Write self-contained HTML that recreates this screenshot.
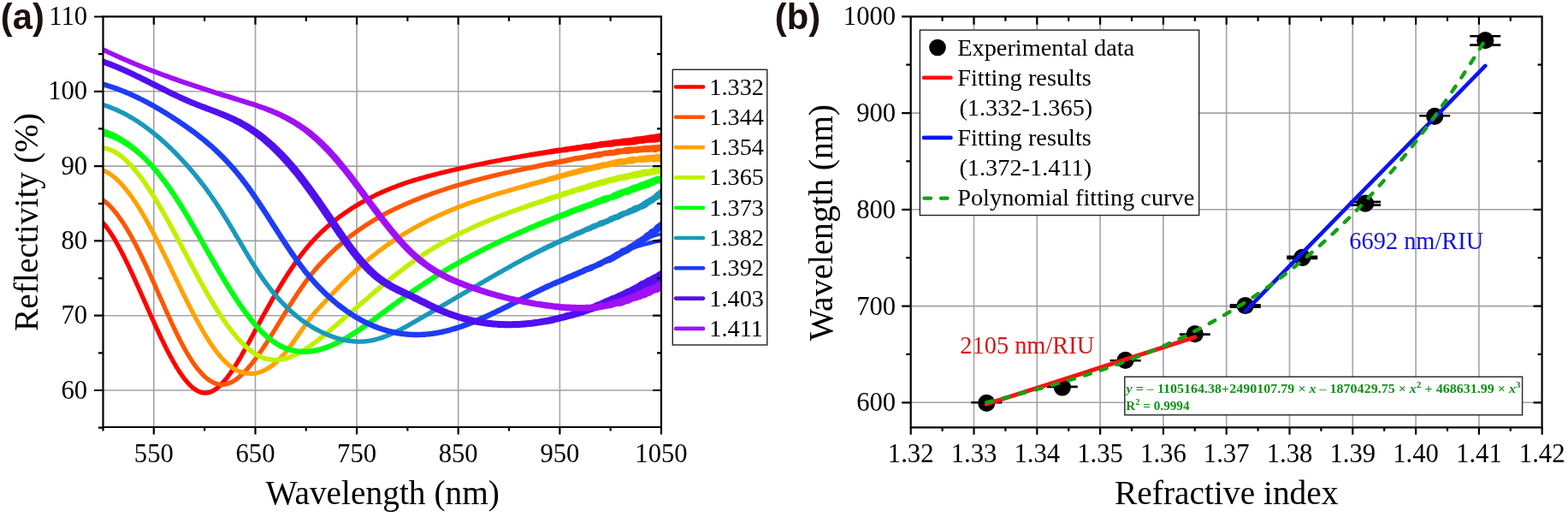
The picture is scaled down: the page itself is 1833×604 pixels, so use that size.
<!DOCTYPE html><html><head><meta charset="utf-8"><title>Figure</title><style>html,body{margin:0;padding:0;background:#fff;width:1833px;height:604px;overflow:hidden}svg{display:block}</style></head><body>
<svg width="1833" height="604" viewBox="0 0 1833 604">
<rect x="0" y="0" width="1833" height="604" fill="#fff"/>
<path d="M179.8 19.3V499.0M298.5 19.3V499.0M417.1 19.3V499.0M535.7 19.3V499.0M654.4 19.3V499.0M120.5 456.0H773.0M120.5 368.7H773.0M120.5 281.4H773.0M120.5 194.1H773.0M120.5 106.8H773.0" stroke="#a3a3a3" stroke-width="1.6" fill="none"/>
<defs><clipPath id="ca"><rect x="120.5" y="19.3" width="652.5" height="479.7"/></clipPath><clipPath id="cb"><rect x="1064.7" y="19.3" width="737.8999999999999" height="480.0"/></clipPath></defs>
<g clip-path="url(#ca)" fill="none" stroke-linejoin="round" stroke-linecap="round">
<path d="M119.4 255.2 L120.5 256.4 L121.6 257.7 L122.7 258.9 L123.8 260.2 L124.8 261.4 L125.8 262.7 L126.8 264.0 L127.8 265.4 L128.7 266.7 L129.6 268.0 L130.5 269.4 L131.4 270.7 L132.3 272.1 L133.2 273.5 L134.1 274.8 L134.9 276.2 L135.8 277.6 L136.6 279.0 L137.4 280.4 L138.2 281.8 L139.0 283.2 L139.8 284.6 L140.6 286.0 L141.3 287.4 L142.1 288.8 L142.9 290.3 L143.6 291.7 L144.4 293.1 L145.1 294.5 L145.9 296.0 L146.6 297.4 L147.3 298.8 L148.0 300.3 L148.8 301.7 L149.5 303.2 L150.2 304.6 L150.9 306.1 L151.6 307.5 L152.3 308.9 L153.0 310.4 L153.7 311.8 L154.3 313.3 L155.0 314.7 L155.7 316.2 L156.4 317.7 L157.1 319.1 L157.7 320.6 L158.4 322.0 L159.1 323.5 L159.7 324.9 L160.4 326.4 L161.1 327.9 L161.7 329.3 L162.4 330.8 L163.0 332.2 L163.7 333.7 L164.4 335.2 L165.0 336.6 L165.7 338.1 L166.3 339.6 L167.0 341.0 L167.6 342.5 L168.3 343.9 L168.9 345.4 L169.6 346.9 L170.2 348.3 L170.9 349.8 L171.5 351.3 L172.2 352.7 L172.8 354.2 L173.4 355.6 L174.1 357.1 L174.7 358.6 L175.4 360.0 L176.0 361.5 L176.7 363.0 L177.3 364.4 L178.0 365.9 L178.6 367.3 L179.3 368.8 L179.9 370.3 L180.6 371.7 L181.3 373.2 L181.9 374.6 L182.6 376.1 L183.2 377.5 L183.9 379.0 L184.6 380.4 L185.2 381.9 L185.9 383.3 L186.6 384.8 L187.2 386.2 L187.9 387.7 L188.6 389.1 L189.3 390.6 L189.9 392.0 L190.6 393.5 L191.3 394.9 L192.0 396.3 L192.7 397.8 L193.4 399.2 L194.1 400.6 L194.8 402.1 L195.5 403.5 L196.2 404.9 L196.9 406.3 L197.7 407.7 L198.4 409.2 L199.1 410.6 L199.9 412.0 L200.6 413.4 L201.4 414.8 L202.1 416.2 L202.9 417.6 L203.6 419.0 L204.4 420.3 L205.2 421.7 L206.0 423.1 L206.8 424.5 L207.6 425.8 L208.4 427.2 L209.2 428.5 L210.1 429.9 L210.9 431.2 L211.8 432.5 L212.6 433.8 L213.5 435.1 L214.4 436.4 L215.3 437.7 L216.3 439.0 L217.2 440.2 L218.1 441.4 L219.1 442.6 L220.1 443.8 L221.1 445.0 L222.2 446.2 L223.2 447.3 L224.3 448.4 L225.4 449.4 L226.5 450.4 L227.7 451.4 L228.9 452.3 L230.1 453.1 L231.3 453.9 L232.6 454.6 L233.9 455.2 L235.2 455.7 L236.5 456.1 L237.8 456.3 L239.2 456.5 L240.5 456.5 L241.8 456.3 L243.2 456.1 L244.5 455.7 L245.8 455.2 L247.1 454.6 L248.4 453.9 L249.6 453.1 L250.8 452.3 L252.0 451.4 L253.2 450.5 L254.3 449.5 L255.5 448.4 L256.6 447.4 L257.6 446.3 L258.7 445.1 L259.7 444.0 L260.7 442.8 L261.7 441.6 L262.7 440.4 L263.7 439.2 L264.6 437.9 L265.6 436.7 L266.5 435.4 L267.4 434.1 L268.3 432.8 L269.2 431.5 L270.1 430.2 L271.0 428.9 L271.8 427.6 L272.7 426.2 L273.5 424.9 L274.4 423.5 L275.2 422.2 L276.0 420.8 L276.8 419.5 L277.7 418.1 L278.5 416.7 L279.3 415.4 L280.1 414.0 L280.9 412.6 L281.6 411.2 L282.4 409.8 L283.2 408.5 L284.0 407.1 L284.8 405.7 L285.5 404.3 L286.3 402.9 L287.1 401.5 L287.9 400.1 L288.6 398.7 L289.4 397.3 L290.1 395.9 L290.9 394.5 L291.7 393.1 L292.4 391.7 L293.2 390.3 L293.9 388.8 L294.7 387.4 L295.4 386.0 L296.2 384.6 L297.0 383.2 L297.7 381.8 L298.5 380.4 L299.2 379.0 L300.0 377.6 L300.7 376.2 L301.5 374.7 L302.3 373.3 L303.0 371.9 L303.8 370.5 L304.6 369.1 L305.3 367.7 L306.1 366.3 L306.9 364.9 L307.7 363.5 L308.4 362.1 L309.2 360.7 L310.0 359.3 L310.8 357.9 L311.6 356.5 L312.4 355.1 L313.2 353.7 L313.9 352.3 L314.7 350.9 L315.5 349.5 L316.3 348.1 L317.1 346.7 L317.9 345.3 L318.7 344.0 L319.6 342.6 L320.4 341.2 L321.2 339.8 L322.0 338.4 L322.8 337.0 L323.7 335.7 L324.5 334.3 L325.3 332.9 L326.1 331.5 L327.0 330.2 L327.8 328.8 L328.7 327.4 L329.5 326.1 L330.4 324.7 L331.2 323.4 L332.1 322.0 L333.0 320.6 L333.8 319.3 L334.7 317.9 L335.6 316.6 L336.5 315.3 L337.4 313.9 L338.3 312.6 L339.2 311.2 L340.1 309.9 L341.0 308.6 L341.9 307.3 L342.8 305.9 L343.8 304.6 L344.7 303.3 L345.7 302.0 L346.6 300.7 L347.6 299.4 L348.5 298.1 L349.5 296.8 L350.5 295.5 L351.5 294.3 L352.5 293.0 L353.5 291.7 L354.5 290.5 L355.5 289.2 L356.5 288.0 L357.6 286.7 L358.6 285.5 L359.7 284.3 L360.8 283.0 L361.8 281.8 L362.9 280.6 L364.0 279.4 L365.1 278.2 L366.2 277.1 L367.3 275.9 L368.4 274.7 L369.6 273.6 L370.7 272.4 L371.9 271.3 L373.0 270.1 L374.2 269.0 L375.4 267.9 L376.5 266.8 L377.7 265.7 L378.9 264.6 L380.1 263.5 L381.3 262.4 L382.6 261.4 L383.8 260.3 L385.0 259.3 L386.3 258.3 L387.5 257.2 L388.8 256.2 L390.1 255.2 L391.4 254.2 L392.6 253.2 L393.9 252.2 L395.2 251.3 L396.5 250.3 L397.8 249.4 L399.1 248.4 L400.5 247.5 L401.8 246.6 L403.1 245.7 L404.5 244.8 L405.8 243.9 L407.2 243.0 L408.5 242.1 L409.9 241.2 L411.2 240.3 L412.6 239.5 L414.0 238.6 L415.4 237.8 L416.8 237.0 L418.1 236.1 L419.5 235.3 L420.9 234.5 L422.3 233.7 L423.8 232.9 L425.2 232.2 L426.6 231.4 L428.0 230.6 L429.4 229.9 L430.9 229.1 L432.3 228.4 L433.8 227.7 L435.2 226.9 L436.7 226.2 L438.1 225.5 L439.6 224.8 L441.0 224.1 L442.5 223.5 L444.0 222.8 L445.4 222.1 L446.9 221.5 L448.4 220.8 L449.9 220.2 L451.4 219.6 L452.9 218.9 L454.4 218.3 L455.9 217.7 L457.4 217.1 L458.9 216.5 L460.4 216.0 L461.9 215.4 L463.4 214.8 L464.9 214.3 L466.4 213.7 L467.9 213.2 L469.4 212.6 L471.0 212.1 L472.5 211.6 L474.0 211.1 L475.5 210.6 L477.1 210.1 L478.6 209.6 L480.1 209.1 L481.7 208.6 L483.2 208.1 L484.8 207.6 L486.3 207.2 L487.8 206.7 L489.4 206.3 L490.9 205.8 L492.5 205.4 L494.0 204.9 L495.6 204.5 L497.1 204.1 L498.7 203.6 L500.2 203.2 L501.8 202.8 L503.3 202.4 L504.9 202.0 L506.4 201.6 L508.0 201.2 L509.6 200.8 L511.1 200.4 L512.7 200.0 L514.2 199.6 L515.8 199.2 L517.3 198.9 L518.9 198.5 L520.5 198.1 L522.0 197.7 L523.6 197.4 L525.1 197.0 L526.7 196.6 L528.3 196.2 L529.8 195.9 L531.4 195.5 L532.9 195.2 L534.5 194.8 L536.1 194.4 L537.6 194.1 L539.2 193.7 L540.8 193.4 L542.3 193.0 L543.9 192.7 L545.5 192.4 L547.0 192.0 L548.6 191.7 L550.2 191.3 L551.7 191.0 L553.3 190.7 L554.9 190.3 L556.4 190.0 L558.0 189.7 L559.6 189.4 L561.2 189.0 L562.7 188.7 L564.3 188.4 L565.9 188.1 L567.4 187.8 L569.0 187.4 L570.6 187.1 L572.2 186.8 L573.7 186.5 L575.3 186.2 L576.9 185.9 L578.4 185.6 L580.0 185.3 L581.6 185.0 L583.2 184.7 L584.7 184.4 L586.3 184.1 L587.9 183.8 L589.5 183.5 L591.1 183.2 L592.6 182.9 L594.2 182.7 L595.8 182.4 L597.4 182.1 L598.9 181.8 L600.5 181.5 L602.1 181.2 L603.7 180.9 L605.2 180.7 L606.8 180.4 L608.4 180.1 L610.0 179.8 L611.6 179.5 L613.1 179.2 L614.7 179.0 L616.3 178.7 L617.9 178.4 L619.4 178.1 L621.0 177.8 L622.6 177.6 L624.2 177.4 L625.8 177.1 L627.3 176.8 L628.9 176.5 L630.5 176.3 L632.1 176.0 L633.7 175.7 L635.2 175.4 L636.8 175.2 L638.4 175.0 L640.0 174.8 L641.6 174.4 L643.2 174.1 L644.7 173.8 L646.3 173.6 L647.9 173.3 L649.5 173.1 L651.0 172.7 L652.6 172.6 L654.2 172.4 L655.8 172.4 L657.4 172.1 L659.0 171.7 L660.6 171.4 L662.1 171.1 L663.7 171.0 L665.3 170.9 L666.9 170.5 L668.5 170.3 L670.1 170.0 L671.7 170.0 L673.2 169.4 L674.8 169.3 L676.4 169.0 L678.0 169.0 L679.6 168.8 L681.2 168.4 L682.7 168.0 L684.3 167.7 L685.9 167.6 L687.5 167.7 L689.1 167.5 L690.7 167.1 L692.3 166.7 L693.8 166.5 L695.4 166.3 L697.0 166.1 L698.6 165.9 L700.2 165.4 L701.7 164.9 L703.3 164.7 L704.9 164.7 L706.5 164.7 L708.1 164.6 L709.7 164.3 L711.3 164.1 L712.9 163.9 L714.5 163.5 L716.1 163.3 L717.6 162.9 L719.2 162.8 L720.8 162.7 L722.4 162.6 L724.0 162.4 L725.6 162.2 L727.2 161.8 L728.7 161.5 L730.3 161.4 L731.9 161.3 L733.5 161.2 L735.1 160.9 L736.7 160.8 L738.3 160.7 L739.9 160.3 L741.5 160.1 L743.0 159.5 L744.6 159.4 L746.2 159.3 L747.8 159.2 L749.4 159.0 L751.0 158.8 L752.6 158.4 L754.2 158.4 L755.7 158.0 L757.3 157.8 L758.9 157.4 L760.5 157.3 L762.1 157.0 L763.7 157.1 L765.2 156.7 L766.8 156.5 L768.4 156.0 L770.0 155.8 L771.6 155.7 L773.2 155.6 L774.8 155.5 L775.9 165.2 L774.3 165.3 L772.7 165.7 L771.1 165.7 L769.6 166.0 L768.0 166.3 L766.4 166.5 L764.8 166.8 L763.2 166.8 L761.6 166.7 L760.0 166.7 L758.4 166.7 L756.8 166.9 L755.2 167.0 L753.6 167.5 L752.0 167.7 L750.4 167.9 L748.8 167.8 L747.2 168.0 L745.7 168.3 L744.1 168.7 L742.6 169.3 L741.0 169.4 L739.3 169.2 L737.7 169.4 L736.2 169.8 L734.6 170.1 L733.0 169.9 L731.4 169.9 L729.8 170.1 L728.2 170.1 L726.6 170.2 L725.0 170.4 L723.4 170.6 L721.8 170.8 L720.2 170.6 L718.6 171.1 L717.0 171.2 L715.5 171.7 L713.9 171.7 L712.3 171.9 L710.7 172.0 L709.1 172.0 L707.5 171.9 L705.9 172.3 L704.3 172.4 L702.7 172.9 L701.1 172.8 L699.5 173.1 L698.0 173.4 L696.4 173.8 L694.8 173.9 L693.2 174.1 L691.7 174.4 L690.1 174.7 L688.5 174.7 L686.9 174.8 L685.3 174.7 L683.7 174.9 L682.0 174.9 L680.5 175.2 L678.9 175.4 L677.3 175.8 L675.8 176.2 L674.2 176.4 L672.6 176.4 L671.0 176.7 L669.4 176.9 L667.8 177.1 L666.2 177.1 L664.7 177.5 L663.1 177.9 L661.5 178.2 L659.9 178.2 L658.3 178.3 L656.7 178.4 L655.2 178.7 L653.6 179.0 L652.0 179.2 L650.4 179.4 L648.8 179.6 L647.3 179.9 L645.7 180.2 L644.1 180.4 L642.5 180.6 L640.9 180.8 L639.3 181.0 L637.8 181.2 L636.2 181.6 L634.6 181.8 L633.0 182.0 L631.4 182.2 L629.9 182.4 L628.3 182.6 L626.7 182.9 L625.1 183.1 L623.5 183.4 L622.0 183.6 L620.4 183.8 L618.8 184.0 L617.2 184.2 L615.6 184.5 L614.1 184.8 L612.5 185.0 L610.9 185.3 L609.3 185.6 L607.8 185.8 L606.2 186.1 L604.6 186.3 L603.0 186.6 L601.5 186.9 L599.9 187.1 L598.3 187.4 L596.7 187.7 L595.2 188.0 L593.6 188.3 L592.0 188.5 L590.5 188.8 L588.9 189.1 L587.3 189.4 L585.7 189.7 L584.2 190.0 L582.6 190.3 L581.0 190.6 L579.5 190.9 L577.9 191.2 L576.3 191.5 L574.8 191.8 L573.2 192.1 L571.6 192.4 L570.1 192.7 L568.5 193.0 L566.9 193.4 L565.4 193.7 L563.8 194.0 L562.2 194.3 L560.7 194.6 L559.1 195.0 L557.5 195.3 L556.0 195.6 L554.4 195.9 L552.9 196.3 L551.3 196.6 L549.7 196.9 L548.2 197.3 L546.6 197.6 L545.1 198.0 L543.5 198.3 L541.9 198.6 L540.4 199.0 L538.8 199.3 L537.3 199.7 L535.7 200.0 L534.1 200.4 L532.6 200.8 L531.0 201.1 L529.5 201.5 L527.9 201.8 L526.4 202.2 L524.8 202.6 L523.3 202.9 L521.7 203.3 L520.2 203.7 L518.6 204.1 L517.1 204.4 L515.5 204.8 L514.0 205.2 L512.4 205.6 L510.9 206.0 L509.3 206.4 L507.8 206.8 L506.2 207.2 L504.7 207.6 L503.2 208.0 L501.6 208.4 L500.1 208.8 L498.5 209.2 L497.0 209.7 L495.5 210.1 L493.9 210.5 L492.4 211.0 L490.9 211.4 L489.4 211.9 L487.8 212.3 L486.3 212.8 L484.8 213.2 L483.3 213.7 L481.8 214.2 L480.2 214.7 L478.7 215.1 L477.2 215.6 L475.7 216.1 L474.2 216.6 L472.7 217.2 L471.2 217.7 L469.7 218.2 L468.2 218.7 L466.7 219.3 L465.2 219.8 L463.8 220.4 L462.3 221.0 L460.8 221.5 L459.3 222.1 L457.8 222.7 L456.4 223.3 L454.9 223.9 L453.4 224.5 L452.0 225.1 L450.5 225.7 L449.1 226.4 L447.6 227.0 L446.2 227.7 L444.7 228.3 L443.3 229.0 L441.9 229.6 L440.4 230.3 L439.0 231.0 L437.6 231.7 L436.2 232.4 L434.7 233.1 L433.3 233.9 L431.9 234.6 L430.5 235.3 L429.1 236.1 L427.7 236.8 L426.3 237.6 L425.0 238.4 L423.6 239.1 L422.2 239.9 L420.8 240.7 L419.5 241.5 L418.1 242.4 L416.8 243.2 L415.4 244.0 L414.1 244.8 L412.7 245.7 L411.4 246.6 L410.1 247.4 L408.8 248.3 L407.4 249.2 L406.1 250.1 L404.8 250.9 L403.5 251.9 L402.2 252.8 L400.9 253.7 L399.7 254.6 L398.4 255.6 L397.1 256.5 L395.9 257.5 L394.6 258.4 L393.4 259.4 L392.1 260.4 L390.9 261.4 L389.7 262.4 L388.4 263.4 L387.2 264.4 L386.0 265.4 L384.8 266.4 L383.7 267.5 L382.5 268.5 L381.3 269.6 L380.1 270.7 L379.0 271.8 L377.8 272.8 L376.7 273.9 L375.6 275.0 L374.5 276.2 L373.3 277.3 L372.2 278.4 L371.1 279.5 L370.1 280.7 L369.0 281.8 L367.9 283.0 L366.8 284.2 L365.8 285.4 L364.7 286.5 L363.7 287.7 L362.7 288.9 L361.6 290.1 L360.6 291.4 L359.6 292.6 L358.6 293.8 L357.6 295.0 L356.6 296.3 L355.7 297.5 L354.7 298.8 L353.7 300.0 L352.8 301.3 L351.8 302.6 L350.9 303.8 L349.9 305.1 L349.0 306.4 L348.1 307.7 L347.2 309.0 L346.3 310.3 L345.4 311.6 L344.4 312.9 L343.6 314.2 L342.7 315.5 L341.8 316.9 L340.9 318.2 L340.0 319.5 L339.1 320.8 L338.3 322.2 L337.4 323.5 L336.6 324.8 L335.7 326.2 L334.9 327.5 L334.0 328.9 L333.2 330.2 L332.3 331.6 L331.5 332.9 L330.7 334.3 L329.8 335.7 L329.0 337.0 L328.2 338.4 L327.4 339.8 L326.5 341.1 L325.7 342.5 L324.9 343.9 L324.1 345.2 L323.3 346.6 L322.5 348.0 L321.7 349.4 L320.9 350.8 L320.1 352.1 L319.3 353.5 L318.5 354.9 L317.7 356.3 L317.0 357.7 L316.2 359.1 L315.4 360.5 L314.6 361.9 L313.8 363.3 L313.1 364.7 L312.3 366.1 L311.5 367.5 L310.7 368.8 L310.0 370.2 L309.2 371.6 L308.4 373.1 L307.7 374.5 L306.9 375.9 L306.2 377.3 L305.4 378.7 L304.6 380.1 L303.9 381.5 L303.1 382.9 L302.4 384.3 L301.6 385.7 L300.8 387.1 L300.1 388.5 L299.3 389.9 L298.6 391.3 L297.8 392.8 L297.1 394.2 L296.3 395.6 L295.5 397.0 L294.8 398.4 L294.0 399.8 L293.2 401.2 L292.5 402.6 L291.7 404.0 L290.9 405.4 L290.2 406.8 L289.4 408.2 L288.6 409.6 L287.8 411.0 L287.0 412.4 L286.2 413.8 L285.4 415.2 L284.6 416.6 L283.8 418.0 L283.0 419.4 L282.2 420.8 L281.4 422.2 L280.5 423.6 L279.7 424.9 L278.8 426.3 L278.0 427.7 L277.1 429.0 L276.2 430.4 L275.4 431.8 L274.5 433.1 L273.6 434.5 L272.6 435.8 L271.7 437.1 L270.8 438.5 L269.8 439.8 L268.8 441.1 L267.8 442.4 L266.8 443.7 L265.8 444.9 L264.7 446.2 L263.7 447.4 L262.6 448.7 L261.4 449.9 L260.3 451.1 L259.1 452.2 L257.9 453.4 L256.6 454.5 L255.3 455.5 L253.9 456.6 L252.5 457.5 L251.0 458.4 L249.5 459.3 L247.8 460.0 L246.2 460.7 L244.4 461.2 L242.6 461.5 L240.8 461.7 L238.9 461.7 L237.0 461.5 L235.2 461.2 L233.5 460.7 L231.8 460.0 L230.2 459.3 L228.7 458.4 L227.2 457.5 L225.8 456.5 L224.4 455.5 L223.1 454.4 L221.8 453.3 L220.6 452.1 L219.5 450.9 L218.3 449.7 L217.2 448.5 L216.1 447.2 L215.1 446.0 L214.0 444.7 L213.0 443.4 L212.0 442.1 L211.1 440.8 L210.1 439.4 L209.2 438.1 L208.3 436.7 L207.4 435.4 L206.5 434.0 L205.6 432.6 L204.8 431.3 L203.9 429.9 L203.1 428.5 L202.3 427.1 L201.5 425.7 L200.6 424.3 L199.9 422.9 L199.1 421.5 L198.3 420.1 L197.5 418.7 L196.7 417.3 L196.0 415.8 L195.2 414.4 L194.5 413.0 L193.7 411.6 L193.0 410.1 L192.3 408.7 L191.5 407.3 L190.8 405.8 L190.1 404.4 L189.4 402.9 L188.7 401.5 L188.0 400.0 L187.3 398.6 L186.6 397.2 L185.9 395.7 L185.2 394.3 L184.5 392.8 L183.8 391.3 L183.2 389.9 L182.5 388.4 L181.8 387.0 L181.1 385.5 L180.5 384.1 L179.8 382.6 L179.1 381.2 L178.5 379.7 L177.8 378.2 L177.2 376.8 L176.5 375.3 L175.8 373.9 L175.2 372.4 L174.5 370.9 L173.9 369.5 L173.2 368.0 L172.6 366.5 L171.9 365.1 L171.3 363.6 L170.6 362.2 L170.0 360.7 L169.3 359.2 L168.7 357.8 L168.0 356.3 L167.4 354.8 L166.7 353.4 L166.1 351.9 L165.4 350.4 L164.8 349.0 L164.1 347.5 L163.5 346.1 L162.8 344.6 L162.2 343.1 L161.5 341.7 L160.9 340.2 L160.2 338.8 L159.6 337.3 L158.9 335.8 L158.3 334.4 L157.6 332.9 L157.0 331.5 L156.3 330.0 L155.7 328.6 L155.0 327.1 L154.3 325.7 L153.7 324.2 L153.0 322.8 L152.3 321.3 L151.7 319.9 L151.0 318.4 L150.3 317.0 L149.6 315.5 L148.9 314.1 L148.3 312.6 L147.6 311.2 L146.9 309.8 L146.2 308.3 L145.5 306.9 L144.8 305.5 L144.1 304.0 L143.4 302.6 L142.7 301.2 L141.9 299.8 L141.2 298.4 L140.5 296.9 L139.8 295.5 L139.0 294.1 L138.3 292.7 L137.5 291.3 L136.8 289.9 L136.0 288.5 L135.2 287.1 L134.5 285.8 L133.7 284.4 L132.9 283.0 L132.1 281.6 L131.3 280.3 L130.5 278.9 L129.6 277.6 L128.8 276.2 L128.0 274.9 L127.1 273.6 L126.2 272.3 L125.3 271.0 L124.5 269.7 L123.5 268.4 L122.6 267.2 L121.7 265.9 L120.7 264.7 L119.7 263.5 L118.7 262.3 L117.7 261.1 L116.7 260.0 L115.6 258.8Z" fill="#ff0000" stroke="none"/>
<path d="M118.9 229.5 L120.3 230.4 L121.7 231.4 L123.0 232.4 L124.3 233.4 L125.6 234.5 L126.9 235.6 L128.1 236.7 L129.3 237.8 L130.4 239.0 L131.6 240.2 L132.7 241.4 L133.8 242.6 L134.9 243.9 L135.9 245.1 L137.0 246.4 L138.0 247.7 L139.0 249.0 L140.0 250.2 L140.9 251.6 L141.9 252.9 L142.8 254.2 L143.8 255.5 L144.7 256.9 L145.6 258.2 L146.5 259.6 L147.3 260.9 L148.2 262.3 L149.1 263.7 L149.9 265.0 L150.8 266.4 L151.6 267.8 L152.4 269.2 L153.2 270.6 L154.0 272.0 L154.8 273.4 L155.6 274.8 L156.4 276.2 L157.2 277.6 L158.0 279.0 L158.7 280.5 L159.5 281.9 L160.2 283.3 L161.0 284.7 L161.7 286.2 L162.5 287.6 L163.2 289.0 L163.9 290.4 L164.6 291.9 L165.4 293.3 L166.1 294.8 L166.8 296.2 L167.5 297.6 L168.2 299.1 L168.9 300.5 L169.6 302.0 L170.3 303.4 L171.0 304.9 L171.7 306.3 L172.3 307.8 L173.0 309.2 L173.7 310.7 L174.4 312.2 L175.0 313.6 L175.7 315.1 L176.4 316.5 L177.0 318.0 L177.7 319.4 L178.4 320.9 L179.0 322.4 L179.7 323.8 L180.3 325.3 L181.0 326.8 L181.6 328.2 L182.3 329.7 L183.0 331.1 L183.6 332.6 L184.2 334.1 L184.9 335.5 L185.5 337.0 L186.2 338.5 L186.8 339.9 L187.5 341.4 L188.1 342.9 L188.8 344.3 L189.4 345.8 L190.1 347.2 L190.7 348.7 L191.4 350.2 L192.0 351.6 L192.7 353.1 L193.3 354.6 L193.9 356.0 L194.6 357.5 L195.2 358.9 L195.9 360.4 L196.5 361.9 L197.2 363.3 L197.9 364.8 L198.5 366.2 L199.2 367.7 L199.8 369.1 L200.5 370.6 L201.2 372.0 L201.8 373.5 L202.5 374.9 L203.2 376.4 L203.8 377.8 L204.5 379.3 L205.2 380.7 L205.9 382.2 L206.6 383.6 L207.2 385.0 L207.9 386.5 L208.6 387.9 L209.3 389.3 L210.0 390.8 L210.7 392.2 L211.5 393.6 L212.2 395.0 L212.9 396.4 L213.6 397.9 L214.4 399.3 L215.1 400.7 L215.8 402.1 L216.6 403.5 L217.4 404.9 L218.1 406.3 L218.9 407.6 L219.7 409.0 L220.5 410.4 L221.3 411.8 L222.1 413.1 L222.9 414.5 L223.7 415.8 L224.6 417.1 L225.4 418.5 L226.3 419.8 L227.1 421.1 L228.0 422.4 L228.9 423.7 L229.8 425.0 L230.8 426.2 L231.7 427.5 L232.7 428.7 L233.6 429.9 L234.6 431.1 L235.7 432.3 L236.7 433.5 L237.7 434.6 L238.8 435.7 L239.9 436.8 L241.0 437.9 L242.1 438.9 L243.3 439.9 L244.5 440.8 L245.7 441.7 L246.9 442.5 L248.2 443.3 L249.5 444.1 L250.8 444.7 L252.1 445.3 L253.5 445.8 L254.8 446.2 L256.2 446.5 L257.6 446.7 L259.0 446.8 L260.4 446.7 L261.8 446.6 L263.2 446.4 L264.6 446.1 L265.9 445.6 L267.3 445.1 L268.6 444.5 L269.9 443.9 L271.3 443.2 L272.5 442.4 L273.8 441.6 L275.0 440.7 L276.2 439.8 L277.4 438.8 L278.6 437.8 L279.8 436.8 L280.9 435.8 L282.0 434.7 L283.1 433.6 L284.2 432.5 L285.3 431.3 L286.4 430.2 L287.4 429.0 L288.4 427.8 L289.4 426.6 L290.5 425.4 L291.5 424.2 L292.4 423.0 L293.4 421.7 L294.4 420.5 L295.4 419.2 L296.3 418.0 L297.2 416.7 L298.2 415.4 L299.1 414.2 L300.0 412.9 L301.0 411.6 L301.9 410.3 L302.8 409.0 L303.7 407.7 L304.6 406.3 L305.4 405.0 L306.3 403.7 L307.2 402.4 L308.1 401.0 L309.0 399.7 L309.8 398.4 L310.7 397.0 L311.5 395.7 L312.4 394.4 L313.3 393.0 L314.1 391.7 L315.0 390.3 L315.8 389.0 L316.7 387.6 L317.5 386.3 L318.4 384.9 L319.2 383.5 L320.0 382.2 L320.9 380.8 L321.7 379.5 L322.6 378.1 L323.4 376.7 L324.2 375.4 L325.1 374.0 L325.9 372.7 L326.7 371.3 L327.6 369.9 L328.4 368.6 L329.3 367.2 L330.1 365.8 L330.9 364.5 L331.8 363.1 L332.6 361.7 L333.5 360.4 L334.3 359.0 L335.2 357.7 L336.0 356.3 L336.9 355.0 L337.7 353.6 L338.6 352.2 L339.5 350.9 L340.3 349.5 L341.2 348.2 L342.1 346.8 L343.0 345.5 L343.8 344.1 L344.7 342.8 L345.6 341.5 L346.5 340.1 L347.4 338.8 L348.3 337.5 L349.2 336.1 L350.1 334.8 L351.1 333.5 L352.0 332.2 L352.9 330.8 L353.8 329.5 L354.8 328.2 L355.7 326.9 L356.7 325.6 L357.7 324.3 L358.7 323.0 L359.6 321.8 L360.6 320.5 L361.6 319.2 L362.7 318.0 L363.7 316.7 L364.7 315.5 L365.7 314.2 L366.8 313.0 L367.8 311.7 L368.9 310.5 L370.0 309.3 L371.0 308.1 L372.1 306.9 L373.2 305.7 L374.3 304.5 L375.4 303.4 L376.5 302.2 L377.7 301.0 L378.8 299.9 L379.9 298.7 L381.1 297.6 L382.2 296.4 L383.4 295.3 L384.5 294.2 L385.7 293.1 L386.9 292.0 L388.1 290.9 L389.2 289.8 L390.4 288.7 L391.6 287.6 L392.8 286.5 L394.0 285.4 L395.3 284.4 L396.5 283.3 L397.7 282.3 L398.9 281.2 L400.2 280.2 L401.4 279.2 L402.7 278.1 L403.9 277.1 L405.2 276.1 L406.5 275.1 L407.7 274.1 L409.0 273.1 L410.3 272.1 L411.6 271.2 L412.9 270.2 L414.2 269.3 L415.5 268.3 L416.8 267.4 L418.1 266.4 L419.4 265.5 L420.8 264.6 L422.1 263.7 L423.4 262.8 L424.8 261.9 L426.1 261.0 L427.5 260.1 L428.8 259.2 L430.2 258.4 L431.6 257.5 L433.0 256.7 L434.3 255.8 L435.7 255.0 L437.1 254.2 L438.5 253.3 L439.9 252.5 L441.3 251.7 L442.7 250.9 L444.1 250.1 L445.5 249.4 L446.9 248.6 L448.4 247.8 L449.8 247.1 L451.2 246.3 L452.7 245.6 L454.1 244.9 L455.5 244.1 L457.0 243.4 L458.4 242.7 L459.9 242.0 L461.3 241.3 L462.8 240.6 L464.2 239.9 L465.7 239.2 L467.2 238.6 L468.6 237.9 L470.1 237.2 L471.6 236.6 L473.1 235.9 L474.5 235.3 L476.0 234.7 L477.5 234.0 L479.0 233.4 L480.5 232.8 L482.0 232.2 L483.4 231.6 L484.9 231.0 L486.4 230.4 L487.9 229.8 L489.4 229.2 L490.9 228.6 L492.4 228.1 L493.9 227.5 L495.4 226.9 L496.9 226.3 L498.4 225.8 L500.0 225.2 L501.5 224.7 L503.0 224.1 L504.5 223.6 L506.0 223.1 L507.5 222.5 L509.0 222.0 L510.6 221.5 L512.1 221.0 L513.6 220.4 L515.1 219.9 L516.7 219.4 L518.2 218.9 L519.7 218.4 L521.2 217.9 L522.8 217.4 L524.3 216.9 L525.8 216.5 L527.4 216.0 L528.9 215.5 L530.4 215.0 L532.0 214.6 L533.5 214.1 L535.1 213.7 L536.6 213.2 L538.1 212.7 L539.7 212.3 L541.2 211.9 L542.8 211.4 L544.3 211.0 L545.9 210.5 L547.4 210.1 L549.0 209.7 L550.5 209.3 L552.1 208.8 L553.6 208.4 L555.2 208.0 L556.7 207.6 L558.3 207.2 L559.8 206.8 L561.4 206.4 L562.9 206.0 L564.5 205.6 L566.0 205.2 L567.6 204.8 L569.2 204.4 L570.7 204.0 L572.3 203.7 L573.8 203.3 L575.4 202.9 L576.9 202.5 L578.5 202.2 L580.1 201.8 L581.6 201.4 L583.2 201.1 L584.8 200.7 L586.3 200.3 L587.9 200.0 L589.4 199.6 L591.0 199.3 L592.6 198.9 L594.1 198.6 L595.7 198.2 L597.3 197.9 L598.8 197.5 L600.4 197.2 L602.0 196.8 L603.5 196.5 L605.1 196.2 L606.7 195.8 L608.2 195.4 L609.8 195.1 L611.4 194.8 L612.9 194.5 L614.5 194.1 L616.0 193.7 L617.6 193.4 L619.2 193.1 L620.8 192.8 L622.3 192.5 L623.9 192.2 L625.5 191.8 L627.0 191.4 L628.6 191.1 L630.1 190.7 L631.7 190.4 L633.3 190.0 L634.8 189.7 L636.4 189.4 L638.0 189.1 L639.6 188.8 L641.1 188.5 L642.7 188.2 L644.3 187.9 L645.9 187.6 L647.4 187.3 L649.0 187.0 L650.5 186.6 L652.1 186.4 L653.7 186.1 L655.3 185.7 L656.8 185.3 L658.4 185.0 L660.0 184.7 L661.6 184.5 L663.1 184.1 L664.7 183.7 L666.2 183.4 L667.8 183.1 L669.4 182.8 L671.0 182.5 L672.5 182.1 L674.1 181.9 L675.7 181.5 L677.3 181.4 L678.9 181.2 L680.5 181.1 L682.0 180.7 L683.6 180.4 L685.2 180.1 L686.8 179.6 L688.3 179.4 L689.9 179.0 L691.5 178.7 L693.1 178.4 L694.6 178.1 L696.2 177.7 L697.8 177.3 L699.3 177.1 L701.0 177.0 L702.6 176.9 L704.1 176.5 L705.7 176.1 L707.3 175.9 L708.9 175.7 L710.5 175.4 L712.0 175.1 L713.6 174.8 L715.3 174.9 L716.9 174.7 L718.5 174.5 L720.0 173.8 L721.6 173.6 L723.2 173.3 L724.8 173.5 L726.4 173.2 L728.0 172.9 L729.6 172.5 L731.1 172.0 L732.7 171.8 L734.3 171.4 L735.9 171.5 L737.5 171.3 L739.2 171.5 L740.8 171.4 L742.4 171.4 L744.0 171.0 L745.6 171.2 L747.2 170.8 L748.8 170.7 L750.4 170.2 L752.0 170.3 L753.6 170.1 L755.2 169.8 L756.8 169.9 L758.4 169.9 L760.0 169.8 L761.6 169.4 L763.2 169.2 L764.8 169.2 L766.5 169.3 L768.1 169.1 L769.7 168.7 L771.3 168.7 L772.9 168.3 L774.5 168.4 L774.8 176.7 L773.2 176.8 L771.6 176.7 L770.1 177.1 L768.5 177.4 L766.9 178.1 L765.4 178.3 L763.7 177.8 L762.1 177.6 L760.5 177.5 L759.0 178.0 L757.4 178.1 L755.8 178.1 L754.2 178.1 L752.6 178.1 L751.1 178.3 L749.4 178.2 L747.9 178.6 L746.3 178.5 L744.7 178.9 L743.1 178.7 L741.5 178.8 L739.9 179.0 L738.4 179.4 L736.8 179.5 L735.3 180.0 L733.7 180.1 L732.1 180.2 L730.4 179.8 L728.8 179.7 L727.2 180.0 L725.7 180.5 L724.1 180.7 L722.6 181.0 L721.0 181.0 L719.4 181.5 L717.8 181.8 L716.3 182.0 L714.7 182.0 L713.1 182.1 L711.5 182.5 L709.9 182.5 L708.3 182.6 L706.7 182.6 L705.1 183.0 L703.6 183.5 L702.1 184.1 L700.5 184.4 L698.9 184.4 L697.3 184.4 L695.7 184.5 L694.1 184.8 L692.6 185.1 L691.0 185.5 L689.4 185.6 L687.8 185.8 L686.2 186.1 L684.7 186.4 L683.1 186.8 L681.6 187.2 L680.0 187.4 L678.4 187.7 L676.8 187.8 L675.3 188.1 L673.7 188.2 L672.1 188.5 L670.5 188.8 L669.0 189.2 L667.4 189.7 L665.8 189.8 L664.3 190.3 L662.7 190.5 L661.2 191.0 L659.6 191.2 L658.0 191.5 L656.5 191.8 L654.9 192.1 L653.3 192.3 L651.7 192.6 L650.1 192.8 L648.6 193.2 L647.0 193.4 L645.4 193.8 L643.9 194.0 L642.3 194.2 L640.7 194.6 L639.2 195.0 L637.6 195.3 L636.0 195.6 L634.5 195.9 L632.9 196.2 L631.3 196.5 L629.7 196.8 L628.2 197.2 L626.6 197.4 L625.0 197.7 L623.5 198.0 L621.9 198.4 L620.3 198.7 L618.8 199.0 L617.2 199.3 L615.6 199.5 L614.1 199.9 L612.5 200.2 L610.9 200.6 L609.4 200.9 L607.8 201.2 L606.2 201.5 L604.7 201.8 L603.1 202.2 L601.6 202.5 L600.0 202.8 L598.4 203.2 L596.9 203.5 L595.3 203.8 L593.8 204.2 L592.2 204.5 L590.6 204.9 L589.1 205.2 L587.5 205.6 L586.0 206.0 L584.4 206.3 L582.9 206.7 L581.3 207.0 L579.7 207.4 L578.2 207.8 L576.6 208.1 L575.1 208.5 L573.5 208.9 L572.0 209.3 L570.4 209.7 L568.9 210.0 L567.3 210.4 L565.8 210.8 L564.3 211.2 L562.7 211.6 L561.2 212.0 L559.6 212.4 L558.1 212.8 L556.5 213.2 L555.0 213.6 L553.5 214.0 L551.9 214.5 L550.4 214.9 L548.8 215.3 L547.3 215.7 L545.8 216.2 L544.2 216.6 L542.7 217.0 L541.2 217.5 L539.6 217.9 L538.1 218.4 L536.6 218.8 L535.1 219.3 L533.5 219.7 L532.0 220.2 L530.5 220.6 L529.0 221.1 L527.4 221.6 L525.9 222.1 L524.4 222.5 L522.9 223.0 L521.4 223.5 L519.9 224.0 L518.3 224.5 L516.8 225.0 L515.3 225.5 L513.8 226.0 L512.3 226.5 L510.8 227.1 L509.3 227.6 L507.8 228.1 L506.3 228.6 L504.8 229.2 L503.3 229.7 L501.8 230.3 L500.3 230.8 L498.8 231.4 L497.3 231.9 L495.8 232.5 L494.3 233.1 L492.9 233.6 L491.4 234.2 L489.9 234.8 L488.4 235.4 L486.9 236.0 L485.5 236.5 L484.0 237.1 L482.5 237.8 L481.0 238.4 L479.6 239.0 L478.1 239.6 L476.6 240.2 L475.2 240.9 L473.7 241.5 L472.3 242.1 L470.8 242.8 L469.4 243.4 L467.9 244.1 L466.5 244.8 L465.1 245.4 L463.6 246.1 L462.2 246.8 L460.8 247.5 L459.3 248.2 L457.9 248.9 L456.5 249.6 L455.1 250.3 L453.7 251.1 L452.3 251.8 L450.9 252.5 L449.5 253.3 L448.1 254.1 L446.7 254.8 L445.3 255.6 L443.9 256.4 L442.6 257.2 L441.2 257.9 L439.8 258.7 L438.5 259.6 L437.1 260.4 L435.7 261.2 L434.4 262.0 L433.0 262.9 L431.7 263.7 L430.4 264.6 L429.0 265.4 L427.7 266.3 L426.4 267.2 L425.1 268.1 L423.8 269.0 L422.5 269.9 L421.2 270.8 L419.9 271.7 L418.6 272.6 L417.3 273.6 L416.0 274.5 L414.8 275.4 L413.5 276.4 L412.2 277.3 L411.0 278.3 L409.7 279.3 L408.5 280.3 L407.3 281.3 L406.0 282.3 L404.8 283.3 L403.6 284.3 L402.4 285.3 L401.2 286.3 L400.0 287.3 L398.8 288.4 L397.6 289.4 L396.4 290.5 L395.2 291.5 L394.0 292.6 L392.8 293.7 L391.7 294.8 L390.5 295.8 L389.4 296.9 L388.2 298.0 L387.1 299.1 L385.9 300.2 L384.8 301.3 L383.7 302.5 L382.6 303.6 L381.5 304.7 L380.4 305.9 L379.3 307.0 L378.2 308.2 L377.1 309.3 L376.1 310.5 L375.0 311.7 L373.9 312.8 L372.9 314.0 L371.8 315.2 L370.8 316.4 L369.8 317.6 L368.8 318.8 L367.8 320.1 L366.8 321.3 L365.8 322.5 L364.8 323.8 L363.8 325.0 L362.9 326.3 L361.9 327.5 L361.0 328.8 L360.0 330.1 L359.1 331.3 L358.1 332.6 L357.2 333.9 L356.3 335.2 L355.4 336.5 L354.5 337.8 L353.6 339.1 L352.7 340.4 L351.8 341.8 L350.9 343.1 L350.0 344.4 L349.1 345.7 L348.3 347.1 L347.4 348.4 L346.5 349.7 L345.7 351.1 L344.8 352.4 L343.9 353.7 L343.1 355.1 L342.2 356.4 L341.4 357.8 L340.5 359.1 L339.7 360.5 L338.8 361.8 L338.0 363.2 L337.1 364.5 L336.3 365.9 L335.4 367.3 L334.6 368.6 L333.8 370.0 L332.9 371.3 L332.1 372.7 L331.2 374.1 L330.4 375.4 L329.6 376.8 L328.7 378.1 L327.9 379.5 L327.1 380.9 L326.2 382.2 L325.4 383.6 L324.5 385.0 L323.7 386.3 L322.8 387.7 L322.0 389.0 L321.1 390.4 L320.3 391.8 L319.4 393.1 L318.6 394.5 L317.7 395.8 L316.9 397.2 L316.0 398.5 L315.1 399.9 L314.3 401.2 L313.4 402.6 L312.5 403.9 L311.6 405.3 L310.7 406.6 L309.8 408.0 L308.9 409.3 L308.0 410.6 L307.1 412.0 L306.2 413.3 L305.3 414.6 L304.3 415.9 L303.4 417.2 L302.4 418.5 L301.5 419.8 L300.5 421.1 L299.6 422.4 L298.6 423.7 L297.6 425.0 L296.6 426.3 L295.5 427.5 L294.5 428.8 L293.5 430.0 L292.4 431.3 L291.3 432.5 L290.3 433.7 L289.1 434.9 L288.0 436.1 L286.9 437.3 L285.7 438.5 L284.5 439.6 L283.3 440.7 L282.1 441.8 L280.8 442.9 L279.5 443.9 L278.1 444.9 L276.8 445.9 L275.4 446.8 L273.9 447.7 L272.4 448.5 L270.9 449.3 L269.3 450.0 L267.6 450.6 L265.9 451.1 L264.2 451.5 L262.4 451.8 L260.7 452.0 L258.8 452.0 L257.0 451.9 L255.3 451.6 L253.5 451.3 L251.8 450.8 L250.2 450.2 L248.6 449.5 L247.0 448.7 L245.5 447.8 L244.0 446.9 L242.6 446.0 L241.3 445.0 L240.0 443.9 L238.7 442.8 L237.4 441.7 L236.2 440.6 L235.0 439.4 L233.9 438.2 L232.8 437.0 L231.7 435.7 L230.6 434.5 L229.6 433.2 L228.6 431.9 L227.5 430.7 L226.6 429.4 L225.6 428.0 L224.7 426.7 L223.7 425.4 L222.8 424.0 L221.9 422.7 L221.0 421.3 L220.1 419.9 L219.3 418.6 L218.4 417.2 L217.6 415.8 L216.8 414.4 L215.9 413.0 L215.1 411.6 L214.3 410.2 L213.5 408.8 L212.8 407.4 L212.0 406.0 L211.2 404.6 L210.5 403.1 L209.7 401.7 L209.0 400.3 L208.2 398.8 L207.5 397.4 L206.8 396.0 L206.1 394.5 L205.3 393.1 L204.6 391.6 L203.9 390.2 L203.2 388.8 L202.5 387.3 L201.8 385.9 L201.1 384.4 L200.5 383.0 L199.8 381.5 L199.1 380.1 L198.4 378.6 L197.7 377.1 L197.1 375.7 L196.4 374.2 L195.7 372.8 L195.1 371.3 L194.4 369.8 L193.7 368.4 L193.1 366.9 L192.4 365.5 L191.8 364.0 L191.1 362.5 L190.5 361.1 L189.8 359.6 L189.2 358.1 L188.5 356.7 L187.9 355.2 L187.2 353.8 L186.6 352.3 L185.9 350.8 L185.3 349.4 L184.6 347.9 L184.0 346.4 L183.3 345.0 L182.7 343.5 L182.1 342.0 L181.4 340.6 L180.8 339.1 L180.1 337.6 L179.5 336.2 L178.8 334.7 L178.2 333.3 L177.5 331.8 L176.9 330.3 L176.2 328.9 L175.6 327.4 L174.9 326.0 L174.3 324.5 L173.6 323.1 L173.0 321.6 L172.3 320.1 L171.6 318.7 L171.0 317.2 L170.3 315.8 L169.6 314.3 L169.0 312.9 L168.3 311.4 L167.6 310.0 L166.9 308.6 L166.3 307.1 L165.6 305.7 L164.9 304.2 L164.2 302.8 L163.5 301.4 L162.8 299.9 L162.1 298.5 L161.4 297.1 L160.7 295.6 L160.0 294.2 L159.3 292.8 L158.5 291.4 L157.8 290.0 L157.1 288.5 L156.4 287.1 L155.6 285.7 L154.9 284.3 L154.1 282.9 L153.4 281.5 L152.6 280.1 L151.8 278.7 L151.1 277.3 L150.3 276.0 L149.5 274.6 L148.7 273.2 L147.9 271.8 L147.1 270.5 L146.3 269.1 L145.5 267.8 L144.6 266.4 L143.8 265.1 L143.0 263.7 L142.1 262.4 L141.2 261.1 L140.3 259.8 L139.5 258.5 L138.6 257.2 L137.6 255.9 L136.7 254.6 L135.8 253.4 L134.8 252.1 L133.9 250.9 L132.9 249.7 L131.9 248.4 L130.9 247.2 L129.9 246.1 L128.9 244.9 L127.8 243.8 L126.7 242.6 L125.6 241.5 L124.5 240.5 L123.4 239.4 L122.2 238.4 L121.1 237.4 L119.9 236.5 L118.6 235.6 L117.4 234.7 L116.1 233.9Z" fill="#ff5500" stroke="none"/>
<path d="M118.2 195.6 L119.8 196.1 L121.5 196.7 L123.1 197.4 L124.6 198.1 L126.1 198.8 L127.6 199.7 L129.1 200.5 L130.5 201.5 L131.8 202.4 L133.2 203.4 L134.5 204.4 L135.8 205.5 L137.0 206.6 L138.3 207.7 L139.5 208.8 L140.6 210.0 L141.8 211.1 L142.9 212.3 L144.1 213.5 L145.2 214.7 L146.2 215.9 L147.3 217.2 L148.4 218.4 L149.4 219.7 L150.4 221.0 L151.4 222.2 L152.4 223.5 L153.4 224.8 L154.4 226.1 L155.3 227.4 L156.2 228.8 L157.2 230.1 L158.1 231.4 L159.0 232.7 L159.9 234.1 L160.8 235.4 L161.7 236.8 L162.6 238.1 L163.5 239.5 L164.3 240.9 L165.2 242.2 L166.0 243.6 L166.9 245.0 L167.7 246.3 L168.5 247.7 L169.4 249.1 L170.2 250.5 L171.0 251.9 L171.8 253.3 L172.6 254.7 L173.4 256.1 L174.2 257.5 L175.0 258.9 L175.7 260.3 L176.5 261.7 L177.3 263.1 L178.1 264.5 L178.8 265.9 L179.6 267.3 L180.3 268.8 L181.1 270.2 L181.8 271.6 L182.6 273.0 L183.3 274.5 L184.1 275.9 L184.8 277.3 L185.5 278.7 L186.3 280.2 L187.0 281.6 L187.7 283.0 L188.4 284.5 L189.2 285.9 L189.9 287.3 L190.6 288.8 L191.3 290.2 L192.0 291.6 L192.7 293.1 L193.4 294.5 L194.2 295.9 L194.9 297.4 L195.6 298.8 L196.3 300.3 L197.0 301.7 L197.7 303.1 L198.4 304.6 L199.1 306.0 L199.8 307.5 L200.5 308.9 L201.2 310.3 L201.9 311.8 L202.6 313.2 L203.3 314.7 L204.0 316.1 L204.6 317.5 L205.3 319.0 L206.0 320.4 L206.7 321.9 L207.4 323.3 L208.1 324.7 L208.8 326.2 L209.5 327.6 L210.2 329.1 L210.9 330.5 L211.6 331.9 L212.3 333.4 L213.0 334.8 L213.7 336.2 L214.4 337.7 L215.1 339.1 L215.8 340.6 L216.5 342.0 L217.2 343.4 L218.0 344.8 L218.7 346.3 L219.4 347.7 L220.1 349.1 L220.8 350.6 L221.5 352.0 L222.2 353.4 L223.0 354.8 L223.7 356.3 L224.4 357.7 L225.1 359.1 L225.9 360.5 L226.6 361.9 L227.3 363.3 L228.1 364.8 L228.8 366.2 L229.6 367.6 L230.3 369.0 L231.1 370.4 L231.8 371.8 L232.6 373.2 L233.4 374.6 L234.1 376.0 L234.9 377.4 L235.7 378.8 L236.4 380.1 L237.2 381.5 L238.0 382.9 L238.8 384.3 L239.6 385.7 L240.4 387.0 L241.2 388.4 L242.1 389.8 L242.9 391.1 L243.7 392.5 L244.6 393.8 L245.4 395.1 L246.3 396.5 L247.1 397.8 L248.0 399.1 L248.9 400.4 L249.7 401.8 L250.6 403.1 L251.6 404.3 L252.5 405.6 L253.4 406.9 L254.3 408.2 L255.3 409.4 L256.2 410.7 L257.2 411.9 L258.2 413.1 L259.2 414.3 L260.2 415.5 L261.3 416.7 L262.3 417.8 L263.4 418.9 L264.5 420.1 L265.6 421.1 L266.7 422.2 L267.8 423.2 L269.0 424.2 L270.2 425.2 L271.4 426.1 L272.6 427.0 L273.9 427.9 L275.2 428.7 L276.5 429.4 L277.8 430.1 L279.1 430.8 L280.5 431.4 L281.9 431.9 L283.3 432.4 L284.7 432.8 L286.1 433.2 L287.6 433.5 L289.1 433.7 L290.5 433.8 L292.0 433.9 L293.5 433.9 L294.9 433.8 L296.4 433.7 L297.9 433.5 L299.3 433.2 L300.8 432.9 L302.2 432.5 L303.6 432.0 L305.0 431.5 L306.4 430.9 L307.8 430.3 L309.1 429.6 L310.5 428.9 L311.8 428.1 L313.1 427.3 L314.4 426.5 L315.6 425.6 L316.8 424.7 L318.1 423.8 L319.2 422.8 L320.4 421.8 L321.6 420.8 L322.7 419.7 L323.8 418.6 L324.9 417.5 L326.0 416.4 L327.1 415.3 L328.1 414.1 L329.2 412.9 L330.2 411.8 L331.2 410.6 L332.2 409.3 L333.2 408.1 L334.1 406.9 L335.1 405.6 L336.1 404.4 L337.0 403.1 L338.0 401.8 L338.9 400.5 L339.8 399.3 L340.8 398.0 L341.7 396.7 L342.6 395.4 L343.5 394.1 L344.4 392.8 L345.4 391.5 L346.3 390.1 L347.2 388.8 L348.1 387.5 L349.0 386.2 L349.9 384.9 L350.9 383.6 L351.8 382.3 L352.7 381.0 L353.7 379.7 L354.6 378.3 L355.5 377.0 L356.5 375.7 L357.4 374.4 L358.4 373.1 L359.4 371.9 L360.4 370.6 L361.4 369.3 L362.4 368.0 L363.4 366.7 L364.4 365.5 L365.5 364.2 L366.5 363.0 L367.6 361.8 L368.7 360.6 L369.8 359.4 L370.9 358.2 L372.0 357.0 L373.1 355.8 L374.2 354.7 L375.3 353.5 L376.4 352.4 L377.5 351.2 L378.6 350.0 L379.7 348.9 L380.8 347.7 L381.9 346.6 L382.9 345.4 L384.0 344.2 L385.1 343.0 L386.2 341.9 L387.3 340.7 L388.4 339.5 L389.5 338.3 L390.6 337.2 L391.7 336.0 L392.8 334.8 L393.9 333.7 L395.0 332.5 L396.2 331.4 L397.3 330.2 L398.4 329.1 L399.6 327.9 L400.7 326.8 L401.8 325.7 L403.0 324.5 L404.1 323.4 L405.3 322.3 L406.5 321.2 L407.6 320.1 L408.8 319.0 L410.0 317.9 L411.1 316.8 L412.3 315.7 L413.5 314.6 L414.7 313.5 L415.9 312.4 L417.1 311.3 L418.3 310.3 L419.5 309.2 L420.7 308.1 L421.9 307.1 L423.1 306.0 L424.4 305.0 L425.6 303.9 L426.8 302.9 L428.1 301.9 L429.3 300.8 L430.6 299.8 L431.8 298.8 L433.1 297.8 L434.3 296.8 L435.6 295.8 L436.9 294.8 L438.1 293.8 L439.4 292.8 L440.7 291.8 L442.0 290.9 L443.3 289.9 L444.5 288.9 L445.8 288.0 L447.1 287.0 L448.4 286.1 L449.8 285.1 L451.1 284.2 L452.4 283.3 L453.7 282.3 L455.0 281.4 L456.4 280.5 L457.7 279.6 L459.0 278.7 L460.4 277.8 L461.7 276.9 L463.1 276.0 L464.4 275.2 L465.8 274.3 L467.1 273.4 L468.5 272.6 L469.9 271.7 L471.2 270.9 L472.6 270.0 L474.0 269.2 L475.4 268.4 L476.8 267.6 L478.2 266.7 L479.5 265.9 L480.9 265.1 L482.3 264.3 L483.7 263.5 L485.2 262.8 L486.6 262.0 L488.0 261.2 L489.4 260.4 L490.8 259.7 L492.2 258.9 L493.7 258.2 L495.1 257.4 L496.5 256.7 L498.0 256.0 L499.4 255.2 L500.9 254.5 L502.3 253.8 L503.7 253.1 L505.2 252.4 L506.7 251.7 L508.1 251.0 L509.6 250.3 L511.0 249.7 L512.5 249.0 L514.0 248.3 L515.4 247.7 L516.9 247.0 L518.4 246.4 L519.9 245.7 L521.3 245.1 L522.8 244.5 L524.3 243.8 L525.8 243.2 L527.3 242.6 L528.8 242.0 L530.3 241.4 L531.7 240.8 L533.2 240.2 L534.7 239.6 L536.2 239.0 L537.7 238.5 L539.2 237.9 L540.8 237.3 L542.3 236.8 L543.8 236.2 L545.3 235.6 L546.8 235.1 L548.3 234.6 L549.8 234.0 L551.3 233.5 L552.9 232.9 L554.4 232.4 L555.9 231.9 L557.4 231.4 L558.9 230.9 L560.5 230.4 L562.0 229.9 L563.5 229.4 L565.0 228.9 L566.6 228.4 L568.1 227.9 L569.6 227.4 L571.2 226.9 L572.7 226.4 L574.2 225.9 L575.8 225.5 L577.3 225.0 L578.8 224.5 L580.4 224.1 L581.9 223.6 L583.4 223.1 L585.0 222.7 L586.5 222.2 L588.1 221.8 L589.6 221.3 L591.1 220.9 L592.7 220.4 L594.2 220.0 L595.8 219.5 L597.3 219.1 L598.8 218.7 L600.4 218.2 L601.9 217.8 L603.5 217.3 L605.0 216.9 L606.5 216.4 L608.1 216.0 L609.6 215.5 L611.2 215.1 L612.7 214.7 L614.2 214.2 L615.8 213.8 L617.3 213.3 L618.8 212.8 L620.4 212.3 L621.9 211.9 L623.5 211.6 L625.0 211.2 L626.6 210.8 L628.1 210.3 L629.6 209.9 L631.2 209.5 L632.7 209.0 L634.2 208.6 L635.8 208.2 L637.3 207.8 L638.9 207.3 L640.4 206.8 L641.9 206.2 L643.4 205.8 L645.0 205.3 L646.5 204.9 L648.1 204.6 L649.6 204.0 L651.1 203.5 L652.6 203.0 L654.2 202.8 L655.8 202.4 L657.3 202.0 L658.9 201.6 L660.4 201.1 L661.9 200.6 L663.5 200.1 L665.0 199.6 L666.6 199.3 L668.1 198.8 L669.7 198.5 L671.2 198.0 L672.7 197.6 L674.3 197.2 L675.8 196.6 L677.4 196.2 L678.8 195.5 L680.5 195.4 L682.0 194.9 L683.6 194.7 L685.2 194.4 L686.7 194.0 L688.3 193.4 L689.8 193.0 L691.3 192.5 L692.9 192.3 L694.5 191.7 L696.0 191.4 L697.6 190.9 L699.2 190.7 L700.7 190.2 L702.3 189.9 L703.8 189.3 L705.5 189.3 L707.1 189.2 L708.7 189.0 L710.2 188.4 L711.8 187.9 L713.3 187.6 L715.0 187.4 L716.5 186.8 L718.0 186.4 L719.6 186.1 L721.2 185.8 L722.8 185.4 L724.4 185.0 L726.0 185.0 L727.7 185.0 L729.3 184.9 L730.9 184.7 L732.4 184.2 L734.0 183.7 L735.6 183.3 L737.2 183.0 L738.8 182.8 L740.4 182.8 L742.1 183.0 L743.7 182.9 L745.3 182.8 L746.9 182.3 L748.5 182.1 L750.1 182.0 L751.7 181.9 L753.4 181.7 L754.9 181.4 L756.6 181.1 L758.2 180.9 L759.8 180.9 L761.4 180.8 L763.1 180.8 L764.7 180.4 L766.3 180.2 L767.9 179.9 L769.6 180.0 L771.2 179.5 L772.8 179.9 L774.5 180.2 L774.4 189.3 L772.8 189.3 L771.3 189.3 L769.7 188.9 L768.1 189.3 L766.6 189.4 L765.0 189.7 L763.4 189.3 L761.8 189.2 L760.3 189.2 L758.7 189.2 L757.1 189.6 L755.6 189.8 L754.0 189.9 L752.4 189.8 L750.8 190.0 L749.3 190.1 L747.7 190.1 L746.1 189.8 L744.5 190.1 L743.0 190.5 L741.4 191.1 L739.9 191.5 L738.3 191.5 L736.7 191.7 L735.1 191.5 L733.6 191.8 L732.0 192.3 L730.5 192.8 L728.9 192.9 L727.3 192.8 L725.7 192.7 L724.1 192.9 L722.6 193.2 L721.0 193.8 L719.5 194.2 L718.0 194.8 L716.4 194.8 L714.9 195.2 L713.2 195.2 L711.7 195.7 L710.2 196.0 L708.7 196.5 L707.0 196.6 L705.4 196.7 L703.9 197.0 L702.4 197.6 L700.9 198.2 L699.3 198.4 L697.7 198.6 L696.2 199.0 L694.6 199.3 L693.1 199.7 L691.5 199.9 L690.0 200.4 L688.4 200.6 L686.8 200.9 L685.2 201.2 L683.7 201.8 L682.2 202.2 L680.7 202.7 L679.2 203.1 L677.6 203.5 L676.1 204.0 L674.5 204.2 L673.0 204.7 L671.4 205.1 L669.9 205.5 L668.3 205.7 L666.7 205.9 L665.2 206.4 L663.7 206.9 L662.1 207.4 L660.6 207.8 L659.0 208.1 L657.5 208.5 L655.9 208.8 L654.4 209.3 L652.8 209.7 L651.3 210.2 L649.8 210.7 L648.3 211.2 L646.7 211.6 L645.1 211.9 L643.6 212.2 L642.0 212.6 L640.5 213.1 L638.9 213.6 L637.4 214.0 L635.9 214.4 L634.3 214.8 L632.7 215.2 L631.2 215.6 L629.6 216.0 L628.1 216.4 L626.6 216.8 L625.0 217.2 L623.5 217.6 L621.9 218.1 L620.4 218.5 L618.8 218.9 L617.3 219.4 L615.7 219.7 L614.2 220.2 L612.7 220.6 L611.1 221.0 L609.6 221.4 L608.0 221.8 L606.5 222.2 L604.9 222.6 L603.4 223.0 L601.8 223.4 L600.3 223.9 L598.8 224.3 L597.2 224.7 L595.7 225.2 L594.2 225.6 L592.6 226.1 L591.1 226.5 L589.6 226.9 L588.0 227.4 L586.5 227.9 L585.0 228.3 L583.4 228.8 L581.9 229.2 L580.4 229.7 L578.9 230.1 L577.3 230.6 L575.8 231.1 L574.3 231.6 L572.8 232.0 L571.3 232.5 L569.7 233.0 L568.2 233.5 L566.7 234.0 L565.2 234.5 L563.7 235.0 L562.2 235.5 L560.6 236.0 L559.1 236.5 L557.6 237.0 L556.1 237.5 L554.6 238.0 L553.1 238.6 L551.6 239.1 L550.1 239.6 L548.6 240.2 L547.1 240.7 L545.6 241.2 L544.1 241.8 L542.6 242.4 L541.2 242.9 L539.7 243.5 L538.2 244.0 L536.7 244.6 L535.2 245.2 L533.7 245.8 L532.3 246.4 L530.8 247.0 L529.3 247.6 L527.8 248.2 L526.4 248.8 L524.9 249.4 L523.4 250.0 L522.0 250.7 L520.5 251.3 L519.1 251.9 L517.6 252.6 L516.2 253.2 L514.7 253.9 L513.3 254.5 L511.8 255.2 L510.4 255.9 L509.0 256.6 L507.5 257.2 L506.1 257.9 L504.7 258.6 L503.2 259.3 L501.8 260.0 L500.4 260.7 L499.0 261.5 L497.6 262.2 L496.1 262.9 L494.7 263.7 L493.3 264.4 L491.9 265.2 L490.5 265.9 L489.1 266.7 L487.8 267.4 L486.4 268.2 L485.0 269.0 L483.6 269.8 L482.2 270.6 L480.8 271.4 L479.5 272.2 L478.1 273.0 L476.7 273.8 L475.4 274.6 L474.0 275.4 L472.7 276.3 L471.3 277.1 L470.0 278.0 L468.6 278.8 L467.3 279.7 L466.0 280.5 L464.6 281.4 L463.3 282.3 L462.0 283.2 L460.7 284.0 L459.4 284.9 L458.1 285.8 L456.8 286.7 L455.5 287.6 L454.2 288.6 L452.9 289.5 L451.6 290.4 L450.3 291.3 L449.0 292.3 L447.7 293.2 L446.4 294.2 L445.2 295.1 L443.9 296.1 L442.6 297.0 L441.4 298.0 L440.1 299.0 L438.9 300.0 L437.6 301.0 L436.4 301.9 L435.2 302.9 L433.9 303.9 L432.7 305.0 L431.5 306.0 L430.3 307.0 L429.0 308.0 L427.8 309.0 L426.6 310.1 L425.4 311.1 L424.2 312.1 L423.0 313.2 L421.8 314.2 L420.6 315.3 L419.5 316.4 L418.3 317.4 L417.1 318.5 L415.9 319.6 L414.8 320.7 L413.6 321.7 L412.4 322.8 L411.3 323.9 L410.1 325.0 L409.0 326.1 L407.8 327.2 L406.7 328.3 L405.6 329.4 L404.4 330.6 L403.3 331.7 L402.2 332.8 L401.1 333.9 L400.0 335.1 L398.9 336.2 L397.7 337.4 L396.6 338.5 L395.5 339.7 L394.5 340.8 L393.4 342.0 L392.3 343.1 L391.2 344.3 L390.1 345.5 L389.0 346.6 L387.9 347.8 L386.8 349.0 L385.7 350.2 L384.6 351.3 L383.5 352.5 L382.4 353.7 L381.3 354.9 L380.2 356.0 L379.1 357.2 L378.0 358.3 L376.9 359.5 L375.8 360.6 L374.8 361.8 L373.7 363.0 L372.6 364.1 L371.6 365.3 L370.5 366.5 L369.5 367.7 L368.5 368.9 L367.5 370.1 L366.5 371.3 L365.5 372.6 L364.6 373.8 L363.6 375.1 L362.6 376.3 L361.7 377.6 L360.8 378.9 L359.8 380.2 L358.9 381.4 L358.0 382.7 L357.0 384.0 L356.1 385.3 L355.2 386.6 L354.3 387.9 L353.4 389.2 L352.4 390.6 L351.5 391.9 L350.6 393.2 L349.7 394.5 L348.8 395.8 L347.9 397.1 L346.9 398.4 L346.0 399.7 L345.1 401.0 L344.1 402.4 L343.2 403.7 L342.2 405.0 L341.3 406.3 L340.3 407.5 L339.3 408.8 L338.3 410.1 L337.3 411.4 L336.3 412.7 L335.3 413.9 L334.2 415.2 L333.1 416.4 L332.1 417.6 L331.0 418.9 L329.8 420.1 L328.7 421.2 L327.5 422.4 L326.3 423.5 L325.1 424.7 L323.9 425.8 L322.6 426.8 L321.4 427.9 L320.0 428.9 L318.7 429.9 L317.3 430.9 L315.9 431.8 L314.5 432.7 L313.1 433.5 L311.6 434.3 L310.1 435.1 L308.5 435.8 L307.0 436.4 L305.4 437.0 L303.7 437.5 L302.1 438.0 L300.4 438.4 L298.7 438.7 L297.0 438.9 L295.3 439.1 L293.6 439.2 L291.9 439.2 L290.1 439.1 L288.4 438.9 L286.7 438.7 L285.0 438.3 L283.3 437.9 L281.7 437.4 L280.1 436.9 L278.5 436.3 L276.9 435.6 L275.4 434.8 L273.9 434.0 L272.4 433.2 L271.0 432.3 L269.6 431.3 L268.2 430.3 L266.9 429.3 L265.6 428.3 L264.4 427.2 L263.1 426.1 L261.9 424.9 L260.7 423.8 L259.6 422.6 L258.5 421.4 L257.3 420.2 L256.3 419.0 L255.2 417.7 L254.1 416.5 L253.1 415.2 L252.1 413.9 L251.1 412.6 L250.1 411.3 L249.2 410.0 L248.2 408.7 L247.3 407.4 L246.3 406.0 L245.4 404.7 L244.5 403.4 L243.6 402.0 L242.7 400.7 L241.8 399.3 L241.0 398.0 L240.1 396.6 L239.3 395.2 L238.4 393.8 L237.6 392.5 L236.7 391.1 L235.9 389.7 L235.1 388.3 L234.3 386.9 L233.5 385.5 L232.7 384.1 L231.9 382.7 L231.1 381.3 L230.3 379.9 L229.5 378.5 L228.8 377.1 L228.0 375.7 L227.2 374.3 L226.5 372.9 L225.7 371.5 L224.9 370.0 L224.2 368.6 L223.4 367.2 L222.7 365.8 L222.0 364.3 L221.2 362.9 L220.5 361.5 L219.7 360.1 L219.0 358.6 L218.3 357.2 L217.6 355.8 L216.8 354.3 L216.1 352.9 L215.4 351.5 L214.7 350.0 L214.0 348.6 L213.3 347.2 L212.5 345.7 L211.8 344.3 L211.1 342.9 L210.4 341.4 L209.7 340.0 L209.0 338.5 L208.3 337.1 L207.6 335.7 L206.9 334.2 L206.2 332.8 L205.5 331.3 L204.8 329.9 L204.1 328.5 L203.4 327.0 L202.7 325.6 L202.0 324.1 L201.3 322.7 L200.6 321.3 L199.9 319.8 L199.2 318.4 L198.5 316.9 L197.8 315.5 L197.2 314.1 L196.5 312.6 L195.8 311.2 L195.1 309.7 L194.4 308.3 L193.7 306.9 L193.0 305.4 L192.3 304.0 L191.6 302.6 L190.9 301.1 L190.2 299.7 L189.5 298.2 L188.8 296.8 L188.0 295.4 L187.3 294.0 L186.6 292.5 L185.9 291.1 L185.2 289.7 L184.5 288.2 L183.8 286.8 L183.1 285.4 L182.3 284.0 L181.6 282.5 L180.9 281.1 L180.2 279.7 L179.4 278.3 L178.7 276.9 L178.0 275.4 L177.2 274.0 L176.5 272.6 L175.7 271.2 L175.0 269.8 L174.2 268.4 L173.5 267.0 L172.7 265.6 L171.9 264.2 L171.2 262.8 L170.4 261.4 L169.6 260.0 L168.8 258.7 L168.1 257.3 L167.3 255.9 L166.5 254.5 L165.7 253.1 L164.9 251.8 L164.1 250.4 L163.2 249.0 L162.4 247.7 L161.6 246.3 L160.7 245.0 L159.9 243.6 L159.1 242.3 L158.2 241.0 L157.3 239.6 L156.5 238.3 L155.6 237.0 L154.7 235.7 L153.8 234.4 L152.9 233.1 L152.0 231.8 L151.1 230.5 L150.2 229.2 L149.2 227.9 L148.3 226.7 L147.3 225.4 L146.3 224.2 L145.3 223.0 L144.3 221.8 L143.3 220.6 L142.3 219.4 L141.3 218.2 L140.2 217.0 L139.2 215.9 L138.1 214.8 L137.0 213.7 L135.9 212.6 L134.7 211.5 L133.6 210.5 L132.4 209.5 L131.2 208.5 L130.0 207.6 L128.8 206.6 L127.6 205.8 L126.3 204.9 L125.0 204.2 L123.7 203.4 L122.3 202.7 L121.0 202.1 L119.6 201.6 L118.2 201.1 L116.8 200.7Z" fill="#ffa200" stroke="none"/>
<path d="M117.5 170.1 L119.2 170.1 L121.0 170.2 L122.7 170.5 L124.4 170.8 L126.1 171.2 L127.8 171.7 L129.4 172.2 L131.0 172.9 L132.6 173.6 L134.1 174.3 L135.6 175.1 L137.1 176.0 L138.5 176.8 L139.9 177.8 L141.3 178.7 L142.6 179.7 L143.9 180.7 L145.2 181.8 L146.5 182.8 L147.7 183.9 L149.0 185.0 L150.2 186.2 L151.3 187.3 L152.5 188.5 L153.6 189.7 L154.8 190.8 L155.9 192.0 L157.0 193.3 L158.0 194.5 L159.1 195.7 L160.1 197.0 L161.2 198.2 L162.2 199.5 L163.2 200.7 L164.2 202.0 L165.2 203.3 L166.2 204.6 L167.2 205.9 L168.1 207.2 L169.1 208.5 L170.0 209.8 L171.0 211.1 L171.9 212.5 L172.8 213.8 L173.7 215.1 L174.6 216.5 L175.5 217.8 L176.4 219.1 L177.3 220.5 L178.2 221.8 L179.0 223.2 L179.9 224.6 L180.8 225.9 L181.6 227.3 L182.5 228.6 L183.3 230.0 L184.2 231.4 L185.0 232.8 L185.8 234.1 L186.7 235.5 L187.5 236.9 L188.3 238.3 L189.1 239.7 L189.9 241.0 L190.7 242.4 L191.6 243.8 L192.4 245.2 L193.2 246.6 L193.9 248.0 L194.7 249.4 L195.5 250.8 L196.3 252.2 L197.1 253.6 L197.9 255.0 L198.7 256.4 L199.4 257.8 L200.2 259.2 L201.0 260.6 L201.8 262.0 L202.5 263.4 L203.3 264.8 L204.1 266.3 L204.8 267.7 L205.6 269.1 L206.3 270.5 L207.1 271.9 L207.9 273.3 L208.6 274.7 L209.4 276.1 L210.1 277.6 L210.9 279.0 L211.6 280.4 L212.4 281.8 L213.1 283.2 L213.9 284.6 L214.6 286.0 L215.4 287.5 L216.1 288.9 L216.9 290.3 L217.6 291.7 L218.4 293.1 L219.1 294.5 L219.8 295.9 L220.6 297.4 L221.3 298.8 L222.1 300.2 L222.8 301.6 L223.6 303.0 L224.3 304.4 L225.1 305.8 L225.8 307.2 L226.6 308.7 L227.3 310.1 L228.1 311.5 L228.8 312.9 L229.6 314.3 L230.3 315.7 L231.1 317.1 L231.9 318.5 L232.6 319.9 L233.4 321.3 L234.1 322.7 L234.9 324.1 L235.7 325.5 L236.4 326.9 L237.2 328.3 L238.0 329.7 L238.8 331.1 L239.5 332.5 L240.3 333.9 L241.1 335.3 L241.9 336.7 L242.7 338.1 L243.4 339.5 L244.2 340.9 L245.0 342.2 L245.8 343.6 L246.6 345.0 L247.4 346.4 L248.2 347.7 L249.0 349.1 L249.9 350.5 L250.7 351.8 L251.5 353.2 L252.3 354.6 L253.2 355.9 L254.0 357.3 L254.8 358.6 L255.7 360.0 L256.5 361.3 L257.4 362.7 L258.2 364.0 L259.1 365.3 L260.0 366.7 L260.8 368.0 L261.7 369.3 L262.6 370.6 L263.5 371.9 L264.4 373.2 L265.3 374.5 L266.2 375.8 L267.1 377.1 L268.1 378.4 L269.0 379.7 L270.0 380.9 L270.9 382.2 L271.9 383.5 L272.8 384.7 L273.8 386.0 L274.8 387.2 L275.8 388.4 L276.8 389.6 L277.8 390.8 L278.8 392.0 L279.9 393.2 L280.9 394.4 L282.0 395.5 L283.0 396.7 L284.1 397.8 L285.2 398.9 L286.3 400.0 L287.4 401.1 L288.6 402.2 L289.7 403.3 L290.9 404.3 L292.1 405.3 L293.2 406.3 L294.5 407.2 L295.7 408.2 L296.9 409.1 L298.2 410.0 L299.5 410.8 L300.8 411.6 L302.1 412.4 L303.4 413.1 L304.8 413.8 L306.1 414.4 L307.5 415.0 L308.9 415.5 L310.3 416.0 L311.7 416.4 L313.2 416.8 L314.6 417.1 L316.1 417.3 L317.6 417.5 L319.1 417.6 L320.6 417.7 L322.0 417.7 L323.5 417.6 L325.0 417.5 L326.5 417.4 L328.0 417.2 L329.5 416.9 L331.0 416.6 L332.5 416.2 L333.9 415.8 L335.4 415.4 L336.8 414.9 L338.3 414.4 L339.7 413.9 L341.1 413.3 L342.5 412.7 L344.0 412.0 L345.3 411.3 L346.7 410.6 L348.1 409.9 L349.5 409.2 L350.8 408.4 L352.2 407.6 L353.5 406.8 L354.8 406.0 L356.2 405.1 L357.5 404.3 L358.8 403.4 L360.1 402.5 L361.4 401.6 L362.7 400.7 L363.9 399.8 L365.2 398.8 L366.5 397.9 L367.7 396.9 L369.0 396.0 L370.3 395.0 L371.5 394.0 L372.7 393.0 L374.0 392.1 L375.2 391.1 L376.5 390.1 L377.7 389.0 L378.9 388.0 L380.1 387.0 L381.4 386.0 L382.6 385.0 L383.8 384.0 L385.0 382.9 L386.3 381.9 L387.5 380.9 L388.7 379.8 L389.9 378.8 L391.1 377.8 L392.3 376.7 L393.5 375.7 L394.8 374.6 L396.0 373.6 L397.2 372.6 L398.4 371.5 L399.6 370.5 L400.8 369.4 L402.0 368.4 L403.2 367.3 L404.5 366.3 L405.7 365.2 L406.9 364.2 L408.1 363.2 L409.3 362.1 L410.5 361.1 L411.7 360.0 L412.9 359.0 L414.1 357.9 L415.3 356.9 L416.6 355.8 L417.8 354.8 L419.0 353.7 L420.2 352.7 L421.4 351.6 L422.6 350.6 L423.8 349.6 L425.0 348.5 L426.3 347.5 L427.5 346.4 L428.7 345.4 L429.9 344.3 L431.1 343.3 L432.3 342.3 L433.6 341.2 L434.8 340.2 L436.0 339.1 L437.2 338.1 L438.5 337.1 L439.7 336.0 L440.9 335.0 L442.2 334.0 L443.4 333.0 L444.6 331.9 L445.9 330.9 L447.1 329.9 L448.3 328.9 L449.6 327.8 L450.8 326.8 L452.1 325.8 L453.3 324.8 L454.5 323.8 L455.8 322.8 L457.1 321.8 L458.3 320.8 L459.6 319.8 L460.8 318.8 L462.1 317.8 L463.4 316.8 L464.6 315.8 L465.9 314.8 L467.2 313.9 L468.4 312.9 L469.7 311.9 L471.0 310.9 L472.3 310.0 L473.6 309.0 L474.9 308.0 L476.2 307.1 L477.5 306.1 L478.8 305.2 L480.1 304.2 L481.4 303.3 L482.7 302.4 L484.0 301.4 L485.3 300.5 L486.7 299.6 L488.0 298.7 L489.3 297.8 L490.7 296.9 L492.0 296.0 L493.3 295.1 L494.7 294.2 L496.0 293.3 L497.4 292.5 L498.7 291.6 L500.1 290.7 L501.5 289.9 L502.8 289.0 L504.2 288.2 L505.6 287.3 L507.0 286.5 L508.3 285.7 L509.7 284.9 L511.1 284.0 L512.5 283.2 L513.9 282.4 L515.3 281.6 L516.7 280.8 L518.1 280.0 L519.5 279.2 L520.9 278.5 L522.3 277.7 L523.8 276.9 L525.2 276.2 L526.6 275.4 L528.0 274.6 L529.4 273.9 L530.9 273.2 L532.3 272.4 L533.7 271.7 L535.2 271.0 L536.6 270.2 L538.1 269.5 L539.5 268.8 L541.0 268.1 L542.4 267.4 L543.9 266.7 L545.3 266.0 L546.8 265.4 L548.2 264.7 L549.7 264.0 L551.1 263.3 L552.6 262.7 L554.1 262.0 L555.6 261.3 L557.0 260.7 L558.5 260.1 L560.0 259.4 L561.4 258.8 L562.9 258.1 L564.4 257.5 L565.9 256.9 L567.4 256.3 L568.9 255.7 L570.3 255.0 L571.8 254.4 L573.3 253.8 L574.8 253.2 L576.3 252.6 L577.8 252.0 L579.3 251.5 L580.8 250.9 L582.3 250.3 L583.8 249.7 L585.3 249.1 L586.8 248.6 L588.3 248.0 L589.8 247.4 L591.3 246.9 L592.8 246.3 L594.3 245.8 L595.8 245.2 L597.3 244.7 L598.8 244.1 L600.3 243.6 L601.9 243.0 L603.4 242.5 L604.9 241.9 L606.4 241.4 L607.9 240.8 L609.4 240.3 L610.9 239.8 L612.4 239.2 L613.9 238.6 L615.4 238.1 L616.9 237.6 L618.5 237.1 L620.0 236.5 L621.5 236.1 L623.0 235.6 L624.5 235.0 L626.0 234.4 L627.5 233.9 L629.0 233.4 L630.6 232.9 L632.1 232.5 L633.6 232.0 L635.2 231.4 L636.6 230.8 L638.1 230.3 L639.7 229.8 L641.2 229.2 L642.7 228.6 L644.1 228.0 L645.7 227.6 L647.3 227.2 L648.8 226.8 L650.3 226.2 L651.8 225.8 L653.3 225.2 L654.8 224.6 L656.3 224.0 L657.9 223.6 L659.4 223.0 L660.9 222.5 L662.5 222.2 L664.0 221.8 L665.6 221.3 L667.0 220.6 L668.5 220.0 L670.1 219.6 L671.6 219.2 L673.1 218.6 L674.7 218.2 L676.2 217.7 L677.8 217.3 L679.3 216.7 L680.8 216.3 L682.4 215.9 L683.9 215.4 L685.4 215.0 L686.9 214.3 L688.5 213.8 L689.9 213.2 L691.5 212.7 L693.0 212.3 L694.6 212.0 L696.2 211.8 L697.7 211.1 L699.2 210.6 L700.7 209.8 L702.3 209.6 L703.9 209.5 L705.5 209.0 L707.0 208.6 L708.5 207.9 L710.1 207.6 L711.6 207.1 L713.2 206.7 L714.8 206.5 L716.3 206.0 L717.9 205.8 L719.5 205.2 L721.0 204.7 L722.5 204.2 L724.1 203.8 L725.8 203.9 L727.4 203.6 L728.9 203.1 L730.4 202.5 L732.0 202.4 L733.6 202.2 L735.3 202.1 L736.8 201.5 L738.3 200.9 L739.8 200.2 L741.4 200.1 L743.0 199.8 L744.6 199.6 L746.2 199.3 L747.8 199.0 L749.4 198.5 L750.9 198.1 L752.5 197.6 L754.2 197.8 L755.8 197.5 L757.4 197.7 L759.0 197.4 L760.6 197.0 L762.1 196.0 L763.7 195.5 L765.3 195.4 L766.9 195.6 L768.6 195.7 L770.2 195.7 L771.8 195.4 L773.4 195.2 L775.0 195.0 L775.9 203.7 L774.3 203.8 L772.7 203.6 L771.1 203.4 L769.5 203.4 L767.9 203.4 L766.4 204.0 L764.8 204.2 L763.3 204.5 L761.8 205.1 L760.2 205.3 L758.7 205.8 L757.0 205.7 L755.5 205.9 L753.9 206.1 L752.3 206.3 L750.8 206.8 L749.3 207.1 L747.7 207.6 L746.2 207.9 L744.6 208.2 L743.0 208.4 L741.5 208.5 L739.9 208.7 L738.3 208.9 L736.7 209.1 L735.2 209.8 L733.7 210.3 L732.1 210.4 L730.6 210.8 L729.0 210.8 L727.4 211.1 L725.8 211.1 L724.2 211.4 L722.7 212.0 L721.2 212.5 L719.7 213.0 L718.2 213.4 L716.6 213.8 L715.0 213.9 L713.4 214.1 L711.8 214.4 L710.4 215.0 L708.9 215.7 L707.4 216.3 L705.9 216.7 L704.3 216.9 L702.7 217.2 L701.2 217.7 L699.7 218.1 L698.2 218.6 L696.6 218.9 L695.1 219.4 L693.5 219.8 L692.1 220.5 L690.6 221.1 L689.0 221.4 L687.4 221.7 L685.9 222.0 L684.3 222.5 L682.8 222.9 L681.3 223.4 L679.8 223.9 L678.2 224.4 L676.7 224.6 L675.1 225.0 L673.6 225.6 L672.1 226.2 L670.6 226.8 L669.1 227.1 L667.5 227.5 L666.0 228.0 L664.5 228.5 L663.0 229.0 L661.5 229.5 L659.9 230.0 L658.4 230.5 L656.9 230.9 L655.4 231.4 L653.8 231.9 L652.3 232.3 L650.8 232.8 L649.2 233.1 L647.7 233.7 L646.2 234.1 L644.7 234.7 L643.2 235.2 L641.7 235.8 L640.1 236.2 L638.6 236.7 L637.1 237.1 L635.5 237.6 L634.0 238.2 L632.5 238.7 L631.0 239.2 L629.5 239.6 L627.9 240.1 L626.4 240.6 L624.9 241.1 L623.4 241.7 L621.9 242.2 L620.4 242.7 L618.9 243.2 L617.3 243.7 L615.8 244.2 L614.3 244.7 L612.8 245.2 L611.3 245.7 L609.8 246.3 L608.3 246.8 L606.8 247.3 L605.3 247.8 L603.8 248.3 L602.2 248.9 L600.7 249.4 L599.2 249.9 L597.7 250.5 L596.2 251.0 L594.7 251.6 L593.3 252.1 L591.8 252.7 L590.3 253.2 L588.8 253.8 L587.3 254.4 L585.8 254.9 L584.3 255.5 L582.8 256.1 L581.3 256.7 L579.9 257.3 L578.4 257.8 L576.9 258.4 L575.4 259.0 L573.9 259.6 L572.5 260.2 L571.0 260.8 L569.5 261.4 L568.1 262.1 L566.6 262.7 L565.1 263.3 L563.7 263.9 L562.2 264.5 L560.7 265.2 L559.3 265.8 L557.8 266.5 L556.4 267.1 L554.9 267.8 L553.5 268.4 L552.0 269.1 L550.6 269.8 L549.1 270.4 L547.7 271.1 L546.3 271.8 L544.8 272.5 L543.4 273.2 L542.0 273.9 L540.5 274.6 L539.1 275.3 L537.7 276.0 L536.3 276.7 L534.9 277.4 L533.4 278.1 L532.0 278.9 L530.6 279.6 L529.2 280.3 L527.8 281.1 L526.4 281.8 L525.0 282.6 L523.6 283.4 L522.2 284.1 L520.8 284.9 L519.5 285.7 L518.1 286.5 L516.7 287.3 L515.3 288.1 L514.0 288.9 L512.6 289.7 L511.2 290.5 L509.9 291.3 L508.5 292.1 L507.1 293.0 L505.8 293.8 L504.4 294.6 L503.1 295.5 L501.8 296.3 L500.4 297.2 L499.1 298.0 L497.7 298.9 L496.4 299.8 L495.1 300.7 L493.8 301.5 L492.5 302.4 L491.1 303.3 L489.8 304.2 L488.5 305.1 L487.2 306.0 L485.9 306.9 L484.6 307.9 L483.3 308.8 L482.1 309.7 L480.8 310.7 L479.5 311.6 L478.2 312.5 L476.9 313.5 L475.6 314.4 L474.4 315.4 L473.1 316.4 L471.8 317.3 L470.6 318.3 L469.3 319.3 L468.1 320.2 L466.8 321.2 L465.5 322.2 L464.3 323.2 L463.0 324.2 L461.8 325.2 L460.6 326.2 L459.3 327.2 L458.1 328.2 L456.8 329.2 L455.6 330.2 L454.4 331.2 L453.1 332.2 L451.9 333.2 L450.7 334.2 L449.4 335.2 L448.2 336.2 L447.0 337.3 L445.7 338.3 L444.5 339.3 L443.3 340.3 L442.1 341.4 L440.9 342.4 L439.6 343.4 L438.4 344.5 L437.2 345.5 L436.0 346.5 L434.8 347.6 L433.5 348.6 L432.3 349.6 L431.1 350.7 L429.9 351.7 L428.7 352.8 L427.5 353.8 L426.3 354.8 L425.1 355.9 L423.8 356.9 L422.6 358.0 L421.4 359.0 L420.2 360.1 L419.0 361.1 L417.8 362.2 L416.6 363.2 L415.4 364.2 L414.2 365.3 L413.0 366.3 L411.7 367.4 L410.5 368.4 L409.3 369.5 L408.1 370.5 L406.9 371.6 L405.7 372.6 L404.5 373.7 L403.3 374.7 L402.1 375.8 L400.8 376.8 L399.6 377.8 L398.4 378.9 L397.2 379.9 L396.0 381.0 L394.8 382.0 L393.5 383.1 L392.3 384.1 L391.1 385.1 L389.9 386.2 L388.6 387.2 L387.4 388.2 L386.2 389.3 L385.0 390.3 L383.7 391.3 L382.5 392.4 L381.2 393.4 L380.0 394.4 L378.7 395.4 L377.5 396.4 L376.2 397.4 L375.0 398.4 L373.7 399.4 L372.4 400.4 L371.1 401.4 L369.8 402.4 L368.5 403.3 L367.2 404.3 L365.9 405.2 L364.6 406.2 L363.3 407.1 L361.9 408.0 L360.6 408.9 L359.2 409.8 L357.8 410.7 L356.4 411.6 L355.0 412.4 L353.6 413.2 L352.2 414.1 L350.8 414.8 L349.3 415.6 L347.8 416.4 L346.3 417.1 L344.8 417.8 L343.3 418.4 L341.8 419.1 L340.2 419.7 L338.7 420.2 L337.1 420.7 L335.5 421.2 L333.8 421.7 L332.2 422.1 L330.6 422.4 L328.9 422.7 L327.2 422.9 L325.5 423.1 L323.8 423.2 L322.1 423.3 L320.4 423.3 L318.7 423.2 L317.0 423.1 L315.3 422.8 L313.6 422.6 L311.9 422.2 L310.3 421.8 L308.6 421.3 L307.0 420.8 L305.4 420.2 L303.9 419.5 L302.3 418.8 L300.8 418.0 L299.3 417.2 L297.9 416.4 L296.4 415.5 L295.1 414.6 L293.7 413.6 L292.3 412.7 L291.0 411.7 L289.7 410.6 L288.4 409.6 L287.2 408.5 L286.0 407.4 L284.7 406.3 L283.6 405.2 L282.4 404.0 L281.2 402.9 L280.1 401.7 L278.9 400.5 L277.8 399.3 L276.7 398.1 L275.7 396.9 L274.6 395.7 L273.5 394.5 L272.5 393.2 L271.4 392.0 L270.4 390.7 L269.4 389.4 L268.4 388.2 L267.4 386.9 L266.4 385.6 L265.5 384.3 L264.5 383.0 L263.5 381.7 L262.6 380.4 L261.7 379.1 L260.7 377.7 L259.8 376.4 L258.9 375.1 L258.0 373.8 L257.1 372.4 L256.2 371.1 L255.3 369.7 L254.4 368.4 L253.5 367.0 L252.7 365.7 L251.8 364.3 L250.9 363.0 L250.1 361.6 L249.2 360.2 L248.4 358.9 L247.5 357.5 L246.7 356.1 L245.9 354.7 L245.0 353.4 L244.2 352.0 L243.4 350.6 L242.6 349.2 L241.8 347.8 L241.0 346.4 L240.2 345.0 L239.4 343.6 L238.6 342.2 L237.8 340.8 L237.0 339.4 L236.2 338.0 L235.4 336.6 L234.6 335.2 L233.9 333.8 L233.1 332.4 L232.3 331.0 L231.5 329.6 L230.8 328.2 L230.0 326.8 L229.2 325.4 L228.5 324.0 L227.7 322.6 L226.9 321.2 L226.2 319.8 L225.4 318.4 L224.7 316.9 L223.9 315.5 L223.1 314.1 L222.4 312.7 L221.6 311.3 L220.9 309.9 L220.1 308.5 L219.4 307.0 L218.6 305.6 L217.9 304.2 L217.1 302.8 L216.4 301.4 L215.6 300.0 L214.9 298.6 L214.2 297.1 L213.4 295.7 L212.7 294.3 L211.9 292.9 L211.2 291.5 L210.4 290.1 L209.7 288.7 L208.9 287.2 L208.2 285.8 L207.4 284.4 L206.7 283.0 L205.9 281.6 L205.2 280.2 L204.4 278.8 L203.7 277.4 L202.9 276.0 L202.2 274.5 L201.4 273.1 L200.6 271.7 L199.9 270.3 L199.1 268.9 L198.4 267.5 L197.6 266.1 L196.8 264.7 L196.1 263.3 L195.3 261.9 L194.5 260.5 L193.8 259.1 L193.0 257.7 L192.2 256.3 L191.4 254.9 L190.7 253.6 L189.9 252.2 L189.1 250.8 L188.3 249.4 L187.5 248.0 L186.7 246.6 L185.9 245.2 L185.1 243.9 L184.3 242.5 L183.5 241.1 L182.7 239.8 L181.9 238.4 L181.0 237.0 L180.2 235.7 L179.4 234.3 L178.6 232.9 L177.7 231.6 L176.9 230.2 L176.0 228.9 L175.2 227.6 L174.3 226.2 L173.5 224.9 L172.6 223.6 L171.7 222.2 L170.9 220.9 L170.0 219.6 L169.1 218.3 L168.2 217.0 L167.3 215.7 L166.4 214.4 L165.5 213.1 L164.5 211.8 L163.6 210.5 L162.7 209.2 L161.7 208.0 L160.8 206.7 L159.8 205.5 L158.8 204.2 L157.8 203.0 L156.9 201.8 L155.8 200.6 L154.8 199.4 L153.8 198.2 L152.8 197.0 L151.7 195.8 L150.7 194.7 L149.6 193.5 L148.5 192.4 L147.4 191.3 L146.3 190.2 L145.1 189.2 L144.0 188.1 L142.8 187.1 L141.7 186.1 L140.5 185.1 L139.2 184.2 L138.0 183.3 L136.8 182.4 L135.5 181.6 L134.2 180.8 L132.9 180.0 L131.6 179.3 L130.2 178.6 L128.9 178.0 L127.5 177.5 L126.1 177.0 L124.7 176.6 L123.3 176.3 L121.8 176.0 L120.4 175.8 L119.0 175.7 L117.5 175.7Z" fill="#c0f000" stroke="none"/>
<path d="M118.5 149.4 L120.2 149.8 L121.8 150.3 L123.4 150.8 L125.0 151.3 L126.6 151.9 L128.2 152.6 L129.7 153.2 L131.2 153.9 L132.8 154.6 L134.3 155.3 L135.8 156.0 L137.2 156.8 L138.7 157.6 L140.2 158.4 L141.6 159.3 L143.0 160.1 L144.4 161.0 L145.8 161.9 L147.2 162.8 L148.6 163.7 L149.9 164.6 L151.3 165.6 L152.6 166.5 L153.9 167.5 L155.2 168.5 L156.5 169.5 L157.8 170.6 L159.1 171.6 L160.3 172.7 L161.5 173.7 L162.8 174.8 L164.0 175.9 L165.2 177.0 L166.4 178.1 L167.6 179.2 L168.8 180.4 L169.9 181.5 L171.1 182.6 L172.3 183.8 L173.4 184.9 L174.5 186.1 L175.7 187.2 L176.8 188.4 L177.9 189.6 L179.0 190.8 L180.1 192.0 L181.2 193.2 L182.2 194.4 L183.3 195.7 L184.3 196.9 L185.4 198.1 L186.4 199.4 L187.5 200.6 L188.5 201.9 L189.5 203.1 L190.5 204.4 L191.5 205.7 L192.5 207.0 L193.5 208.2 L194.4 209.5 L195.4 210.8 L196.4 212.1 L197.3 213.4 L198.3 214.7 L199.2 216.0 L200.1 217.4 L201.1 218.7 L202.0 220.0 L202.9 221.3 L203.8 222.7 L204.7 224.0 L205.6 225.4 L206.5 226.7 L207.4 228.0 L208.3 229.4 L209.2 230.7 L210.0 232.1 L210.9 233.4 L211.8 234.8 L212.6 236.2 L213.5 237.5 L214.3 238.9 L215.2 240.3 L216.0 241.6 L216.9 243.0 L217.7 244.4 L218.5 245.7 L219.4 247.1 L220.2 248.5 L221.0 249.9 L221.8 251.2 L222.7 252.6 L223.5 254.0 L224.3 255.4 L225.1 256.8 L225.9 258.2 L226.7 259.5 L227.5 260.9 L228.3 262.3 L229.1 263.7 L229.9 265.1 L230.8 266.5 L231.6 267.9 L232.3 269.3 L233.1 270.6 L233.9 272.0 L234.7 273.4 L235.5 274.8 L236.3 276.2 L237.1 277.6 L237.9 279.0 L238.7 280.4 L239.5 281.8 L240.3 283.2 L241.1 284.6 L241.9 285.9 L242.7 287.3 L243.5 288.7 L244.2 290.1 L245.0 291.5 L245.8 292.9 L246.6 294.3 L247.4 295.7 L248.2 297.1 L249.0 298.5 L249.8 299.8 L250.6 301.2 L251.4 302.6 L252.2 304.0 L253.0 305.4 L253.8 306.8 L254.6 308.2 L255.4 309.5 L256.2 310.9 L257.0 312.3 L257.8 313.7 L258.6 315.1 L259.4 316.4 L260.2 317.8 L261.0 319.2 L261.8 320.6 L262.6 321.9 L263.4 323.3 L264.3 324.7 L265.1 326.0 L265.9 327.4 L266.7 328.8 L267.6 330.1 L268.4 331.5 L269.2 332.8 L270.1 334.2 L270.9 335.5 L271.8 336.9 L272.6 338.2 L273.4 339.6 L274.3 340.9 L275.2 342.3 L276.0 343.6 L276.9 344.9 L277.8 346.3 L278.6 347.6 L279.5 348.9 L280.4 350.2 L281.3 351.5 L282.2 352.9 L283.1 354.2 L284.0 355.5 L284.9 356.8 L285.8 358.1 L286.7 359.4 L287.6 360.7 L288.6 361.9 L289.5 363.2 L290.5 364.5 L291.4 365.7 L292.4 367.0 L293.3 368.3 L294.3 369.5 L295.3 370.7 L296.3 372.0 L297.3 373.2 L298.3 374.4 L299.3 375.6 L300.3 376.8 L301.3 378.0 L302.4 379.2 L303.4 380.4 L304.5 381.5 L305.5 382.7 L306.6 383.8 L307.7 384.9 L308.8 386.0 L309.9 387.1 L311.1 388.2 L312.2 389.2 L313.4 390.3 L314.5 391.3 L315.7 392.3 L316.9 393.3 L318.1 394.2 L319.4 395.2 L320.6 396.1 L321.9 396.9 L323.1 397.8 L324.4 398.6 L325.8 399.4 L327.1 400.2 L328.4 400.9 L329.8 401.6 L331.1 402.3 L332.5 402.9 L333.9 403.5 L335.3 404.1 L336.8 404.6 L338.2 405.1 L339.7 405.5 L341.1 405.9 L342.6 406.3 L344.1 406.6 L345.6 406.9 L347.0 407.2 L348.5 407.4 L350.1 407.5 L351.6 407.6 L353.1 407.7 L354.6 407.8 L356.1 407.8 L357.6 407.7 L359.2 407.7 L360.7 407.5 L362.2 407.4 L363.7 407.2 L365.2 407.0 L366.7 406.7 L368.3 406.5 L369.8 406.1 L371.3 405.8 L372.8 405.4 L374.2 405.0 L375.7 404.6 L377.2 404.1 L378.7 403.6 L380.1 403.1 L381.6 402.6 L383.1 402.0 L384.5 401.5 L385.9 400.9 L387.4 400.3 L388.8 399.6 L390.2 399.0 L391.6 398.3 L393.1 397.6 L394.5 396.9 L395.9 396.2 L397.2 395.5 L398.6 394.7 L400.0 394.0 L401.4 393.2 L402.8 392.4 L404.1 391.7 L405.5 390.9 L406.8 390.0 L408.2 389.2 L409.5 388.4 L410.9 387.6 L412.2 386.7 L413.5 385.8 L414.9 385.0 L416.2 384.1 L417.5 383.2 L418.8 382.4 L420.1 381.5 L421.4 380.6 L422.8 379.7 L424.1 378.8 L425.4 377.8 L426.7 376.9 L428.0 376.0 L429.3 375.1 L430.6 374.2 L431.8 373.2 L433.1 372.3 L434.4 371.4 L435.7 370.4 L437.0 369.5 L438.3 368.5 L439.6 367.6 L440.9 366.6 L442.1 365.7 L443.4 364.7 L444.7 363.8 L446.0 362.8 L447.3 361.9 L448.6 360.9 L449.9 360.0 L451.1 359.0 L452.4 358.1 L453.7 357.1 L455.0 356.2 L456.3 355.2 L457.6 354.3 L458.9 353.3 L460.2 352.4 L461.5 351.4 L462.8 350.5 L464.1 349.5 L465.4 348.6 L466.7 347.7 L468.0 346.7 L469.3 345.8 L470.6 344.9 L471.9 344.0 L473.2 343.0 L474.6 342.1 L475.9 341.2 L477.2 340.3 L478.5 339.4 L479.8 338.5 L481.2 337.5 L482.5 336.6 L483.8 335.7 L485.1 334.8 L486.5 333.9 L487.8 333.0 L489.1 332.1 L490.5 331.2 L491.8 330.4 L493.2 329.5 L494.5 328.6 L495.8 327.7 L497.2 326.8 L498.5 326.0 L499.9 325.1 L501.2 324.2 L502.6 323.4 L503.9 322.5 L505.3 321.6 L506.7 320.8 L508.0 319.9 L509.4 319.1 L510.8 318.2 L512.1 317.4 L513.5 316.5 L514.9 315.7 L516.3 314.9 L517.6 314.1 L519.0 313.2 L520.4 312.4 L521.8 311.6 L523.2 310.8 L524.5 310.0 L525.9 309.1 L527.3 308.3 L528.7 307.5 L530.1 306.7 L531.5 305.9 L532.9 305.2 L534.3 304.4 L535.7 303.6 L537.1 302.8 L538.5 302.0 L539.9 301.2 L541.3 300.5 L542.7 299.7 L544.2 298.9 L545.6 298.2 L547.0 297.4 L548.4 296.6 L549.8 295.9 L551.2 295.1 L552.7 294.4 L554.1 293.7 L555.5 292.9 L556.9 292.2 L558.4 291.4 L559.8 290.7 L561.2 290.0 L562.7 289.2 L564.1 288.5 L565.5 287.8 L567.0 287.1 L568.4 286.4 L569.9 285.7 L571.3 285.0 L572.7 284.3 L574.2 283.6 L575.6 282.9 L577.1 282.2 L578.5 281.5 L580.0 280.8 L581.4 280.1 L582.9 279.4 L584.3 278.7 L585.8 278.0 L587.2 277.4 L588.7 276.7 L590.2 276.0 L591.6 275.3 L593.1 274.7 L594.5 274.0 L596.0 273.4 L597.5 272.7 L598.9 272.0 L600.4 271.4 L601.9 270.7 L603.3 270.1 L604.8 269.4 L606.3 268.8 L607.7 268.1 L609.2 267.4 L610.6 266.8 L612.1 266.2 L613.6 265.5 L615.1 264.9 L616.6 264.3 L618.0 263.6 L619.5 263.0 L620.9 262.3 L622.4 261.7 L623.9 261.0 L625.4 260.4 L626.8 259.7 L628.3 259.2 L629.8 258.6 L631.3 258.0 L632.8 257.4 L634.3 256.8 L635.8 256.1 L637.2 255.4 L638.7 254.9 L640.2 254.4 L641.8 253.9 L643.3 253.3 L644.7 252.5 L646.2 251.9 L647.7 251.4 L649.1 250.7 L650.7 250.2 L652.1 249.5 L653.6 249.0 L655.1 248.4 L656.6 247.8 L658.2 247.4 L659.7 246.8 L661.2 246.2 L662.6 245.5 L664.1 244.8 L665.6 244.3 L667.1 243.7 L668.5 243.0 L670.0 242.5 L671.5 241.9 L673.1 241.6 L674.6 241.0 L676.1 240.4 L677.5 239.7 L679.0 239.0 L680.6 238.6 L682.0 238.0 L683.6 237.6 L685.1 237.0 L686.6 236.5 L688.1 235.9 L689.6 235.3 L691.1 234.8 L692.6 234.2 L694.0 233.5 L695.5 232.8 L696.9 232.0 L698.5 231.6 L700.0 231.0 L701.5 230.5 L702.9 229.8 L704.4 229.1 L705.9 228.6 L707.4 228.2 L709.0 227.9 L710.7 227.8 L712.3 227.4 L713.8 226.9 L715.1 225.8 L716.5 225.1 L718.0 224.4 L719.5 223.8 L720.9 223.2 L722.4 222.6 L723.9 222.0 L725.4 221.3 L727.0 221.1 L728.5 220.5 L730.0 220.1 L731.5 219.4 L733.1 219.1 L734.6 218.6 L736.0 217.8 L737.5 217.1 L738.9 216.3 L740.4 215.8 L742.0 215.5 L743.5 215.1 L745.0 214.5 L746.5 213.9 L747.8 212.8 L749.4 212.5 L750.9 211.9 L752.5 211.7 L753.9 210.9 L755.4 210.3 L756.9 209.9 L758.5 209.4 L759.9 208.7 L761.3 207.9 L762.9 207.5 L764.4 207.0 L765.9 206.4 L767.3 205.6 L769.0 205.7 L770.6 205.5 L772.2 205.2 L773.5 204.0 L776.6 212.1 L775.1 212.7 L773.7 213.6 L772.3 214.4 L770.6 214.6 L769.0 214.8 L767.3 214.8 L766.0 215.8 L764.5 216.4 L763.0 217.0 L761.5 217.7 L760.2 218.6 L758.9 219.7 L757.2 219.8 L755.6 220.0 L754.0 220.3 L752.5 221.0 L750.9 221.3 L749.4 221.9 L747.9 222.5 L746.5 223.2 L745.0 223.7 L743.5 224.3 L742.0 224.8 L740.4 225.2 L738.8 225.6 L737.5 226.6 L736.1 227.3 L734.6 227.9 L732.9 227.9 L731.2 228.1 L729.7 228.5 L728.2 229.1 L726.8 229.9 L725.4 230.7 L723.9 231.4 L722.5 232.1 L720.9 232.3 L719.4 233.0 L717.8 233.4 L716.3 233.7 L714.7 234.1 L713.2 234.6 L711.8 235.6 L710.4 236.3 L708.9 236.8 L707.3 237.1 L705.7 237.5 L704.1 237.9 L702.6 238.2 L701.2 239.0 L699.7 239.7 L698.3 240.4 L696.6 240.6 L695.1 241.1 L693.6 241.7 L692.2 242.5 L690.7 243.0 L689.2 243.4 L687.6 243.8 L686.1 244.5 L684.6 244.9 L683.2 245.6 L681.7 246.2 L680.2 246.9 L678.7 247.4 L677.2 247.8 L675.6 248.3 L674.1 248.8 L672.6 249.4 L671.1 249.9 L669.7 250.6 L668.2 251.2 L666.7 251.8 L665.2 252.4 L663.7 252.9 L662.2 253.3 L660.7 253.9 L659.2 254.5 L657.7 255.0 L656.2 255.5 L654.7 256.1 L653.2 256.7 L651.7 257.2 L650.1 257.5 L648.6 258.2 L647.2 258.9 L645.7 259.6 L644.2 260.1 L642.8 260.7 L641.2 261.2 L639.8 261.8 L638.3 262.4 L636.8 263.1 L635.4 263.7 L633.9 264.2 L632.4 264.8 L630.9 265.4 L629.4 266.0 L627.9 266.5 L626.4 267.2 L625.0 267.8 L623.5 268.3 L622.0 268.9 L620.5 269.6 L619.1 270.2 L617.6 270.8 L616.1 271.5 L614.7 272.1 L613.2 272.7 L611.7 273.3 L610.2 273.9 L608.8 274.5 L607.3 275.2 L605.9 275.8 L604.4 276.4 L602.9 277.1 L601.5 277.7 L600.0 278.4 L598.6 279.0 L597.1 279.7 L595.6 280.3 L594.2 281.0 L592.7 281.7 L591.3 282.3 L589.9 283.0 L588.4 283.7 L587.0 284.3 L585.5 285.0 L584.1 285.7 L582.6 286.4 L581.2 287.1 L579.8 287.7 L578.3 288.4 L576.9 289.1 L575.5 289.8 L574.0 290.5 L572.6 291.2 L571.2 291.9 L569.7 292.6 L568.3 293.4 L566.9 294.1 L565.5 294.8 L564.0 295.5 L562.6 296.2 L561.2 297.0 L559.8 297.7 L558.4 298.4 L557.0 299.1 L555.5 299.9 L554.1 300.6 L552.7 301.4 L551.3 302.1 L549.9 302.9 L548.5 303.6 L547.1 304.4 L545.7 305.1 L544.3 305.9 L542.9 306.7 L541.5 307.4 L540.1 308.2 L538.7 309.0 L537.3 309.8 L536.0 310.5 L534.6 311.3 L533.2 312.1 L531.8 312.9 L530.4 313.7 L529.0 314.5 L527.7 315.3 L526.3 316.1 L524.9 316.9 L523.6 317.7 L522.2 318.5 L520.8 319.4 L519.5 320.2 L518.1 321.0 L516.7 321.8 L515.4 322.7 L514.0 323.5 L512.7 324.3 L511.3 325.2 L510.0 326.0 L508.6 326.9 L507.3 327.7 L505.9 328.6 L504.6 329.4 L503.2 330.3 L501.9 331.2 L500.6 332.0 L499.2 332.9 L497.9 333.8 L496.6 334.6 L495.2 335.5 L493.9 336.4 L492.6 337.3 L491.3 338.2 L489.9 339.1 L488.6 340.0 L487.3 340.9 L486.0 341.8 L484.7 342.7 L483.3 343.6 L482.0 344.5 L480.7 345.4 L479.4 346.3 L478.1 347.2 L476.8 348.1 L475.5 349.0 L474.2 349.9 L472.9 350.9 L471.6 351.8 L470.3 352.7 L469.0 353.6 L467.7 354.6 L466.4 355.5 L465.1 356.4 L463.8 357.4 L462.5 358.3 L461.3 359.3 L460.0 360.2 L458.7 361.2 L457.4 362.1 L456.1 363.1 L454.8 364.0 L453.5 365.0 L452.3 365.9 L451.0 366.9 L449.7 367.8 L448.4 368.8 L447.1 369.7 L445.8 370.7 L444.5 371.6 L443.3 372.6 L442.0 373.5 L440.7 374.5 L439.4 375.4 L438.1 376.4 L436.8 377.3 L435.5 378.3 L434.2 379.2 L432.9 380.1 L431.6 381.1 L430.2 382.0 L428.9 382.9 L427.6 383.8 L426.3 384.8 L425.0 385.7 L423.6 386.6 L422.3 387.5 L420.9 388.4 L419.6 389.3 L418.3 390.2 L416.9 391.1 L415.5 391.9 L414.2 392.8 L412.8 393.7 L411.4 394.5 L410.0 395.3 L408.6 396.2 L407.2 397.0 L405.8 397.8 L404.4 398.6 L403.0 399.4 L401.6 400.2 L400.1 401.0 L398.7 401.7 L397.3 402.5 L395.8 403.2 L394.3 403.9 L392.8 404.6 L391.4 405.3 L389.9 405.9 L388.3 406.6 L386.8 407.2 L385.3 407.8 L383.8 408.4 L382.2 409.0 L380.7 409.5 L379.1 410.0 L377.5 410.5 L375.9 411.0 L374.3 411.4 L372.7 411.8 L371.1 412.2 L369.5 412.5 L367.8 412.8 L366.2 413.1 L364.5 413.4 L362.9 413.6 L361.2 413.7 L359.5 413.8 L357.9 413.9 L356.2 414.0 L354.5 414.0 L352.8 413.9 L351.2 413.8 L349.5 413.7 L347.8 413.5 L346.1 413.3 L344.5 413.0 L342.8 412.7 L341.2 412.3 L339.5 411.9 L337.9 411.5 L336.3 411.0 L334.7 410.4 L333.1 409.9 L331.6 409.2 L330.0 408.6 L328.5 407.9 L327.0 407.2 L325.5 406.4 L324.0 405.6 L322.6 404.8 L321.2 403.9 L319.8 403.0 L318.4 402.1 L317.0 401.1 L315.7 400.1 L314.3 399.1 L313.0 398.1 L311.8 397.1 L310.5 396.0 L309.3 394.9 L308.0 393.8 L306.8 392.7 L305.6 391.6 L304.5 390.4 L303.3 389.3 L302.2 388.1 L301.0 386.9 L299.9 385.7 L298.8 384.5 L297.7 383.3 L296.7 382.1 L295.6 380.9 L294.5 379.6 L293.5 378.4 L292.5 377.1 L291.4 375.9 L290.4 374.6 L289.4 373.3 L288.4 372.1 L287.4 370.8 L286.5 369.5 L285.5 368.2 L284.5 366.9 L283.6 365.6 L282.6 364.3 L281.7 363.0 L280.7 361.7 L279.8 360.3 L278.9 359.0 L278.0 357.7 L277.1 356.4 L276.2 355.0 L275.3 353.7 L274.4 352.3 L273.5 351.0 L272.6 349.7 L271.7 348.3 L270.8 347.0 L269.9 345.6 L269.1 344.3 L268.2 342.9 L267.4 341.5 L266.5 340.2 L265.6 338.8 L264.8 337.5 L264.0 336.1 L263.1 334.7 L262.3 333.3 L261.4 332.0 L260.6 330.6 L259.8 329.2 L258.9 327.9 L258.1 326.5 L257.3 325.1 L256.5 323.7 L255.7 322.3 L254.8 321.0 L254.0 319.6 L253.2 318.2 L252.4 316.8 L251.6 315.4 L250.8 314.0 L250.0 312.6 L249.2 311.3 L248.4 309.9 L247.6 308.5 L246.8 307.1 L246.0 305.7 L245.2 304.3 L244.4 302.9 L243.6 301.5 L242.8 300.1 L242.0 298.7 L241.2 297.4 L240.4 296.0 L239.6 294.6 L238.9 293.2 L238.1 291.8 L237.3 290.4 L236.5 289.0 L235.7 287.6 L234.9 286.2 L234.1 284.8 L233.3 283.4 L232.5 282.1 L231.7 280.7 L230.9 279.3 L230.2 277.9 L229.4 276.5 L228.6 275.1 L227.8 273.7 L227.0 272.3 L226.2 271.0 L225.4 269.6 L224.6 268.2 L223.8 266.8 L223.0 265.4 L222.2 264.0 L221.4 262.7 L220.6 261.3 L219.8 259.9 L219.0 258.5 L218.1 257.2 L217.3 255.8 L216.5 254.4 L215.7 253.1 L214.9 251.7 L214.1 250.3 L213.2 249.0 L212.4 247.6 L211.6 246.2 L210.7 244.9 L209.9 243.5 L209.1 242.2 L208.2 240.8 L207.4 239.5 L206.5 238.1 L205.7 236.8 L204.8 235.4 L204.0 234.1 L203.1 232.8 L202.2 231.4 L201.3 230.1 L200.5 228.8 L199.6 227.5 L198.7 226.2 L197.8 224.8 L196.9 223.5 L196.0 222.2 L195.1 220.9 L194.2 219.6 L193.2 218.4 L192.3 217.1 L191.4 215.8 L190.4 214.5 L189.5 213.3 L188.5 212.0 L187.6 210.7 L186.6 209.5 L185.6 208.2 L184.6 207.0 L183.7 205.8 L182.7 204.5 L181.7 203.3 L180.6 202.1 L179.6 200.9 L178.6 199.7 L177.6 198.5 L176.5 197.3 L175.5 196.1 L174.4 195.0 L173.3 193.8 L172.3 192.7 L171.2 191.5 L170.1 190.4 L169.0 189.3 L167.9 188.1 L166.8 187.0 L165.6 185.9 L164.5 184.9 L163.3 183.8 L162.2 182.7 L161.0 181.7 L159.8 180.7 L158.6 179.7 L157.4 178.7 L156.1 177.7 L154.9 176.8 L153.7 175.8 L152.4 174.9 L151.1 174.0 L149.9 173.1 L148.6 172.2 L147.3 171.3 L146.0 170.5 L144.7 169.7 L143.4 168.9 L142.0 168.1 L140.7 167.3 L139.3 166.6 L138.0 165.8 L136.6 165.2 L135.2 164.5 L133.8 163.9 L132.4 163.3 L131.0 162.7 L129.5 162.1 L128.1 161.6 L126.7 161.1 L125.2 160.6 L123.8 160.1 L122.3 159.7 L120.9 159.3 L119.4 158.9 L117.9 158.6 L116.5 158.2Z" fill="#00ff14" stroke="none"/>
<path d="M118.2 119.1 L119.8 119.5 L121.4 120.0 L122.9 120.5 L124.5 121.0 L126.0 121.5 L127.6 122.0 L129.1 122.6 L130.6 123.2 L132.1 123.8 L133.6 124.4 L135.2 125.0 L136.7 125.6 L138.1 126.3 L139.6 127.0 L141.1 127.7 L142.6 128.4 L144.0 129.1 L145.5 129.8 L146.9 130.6 L148.4 131.3 L149.8 132.1 L151.2 132.9 L152.6 133.7 L154.0 134.5 L155.4 135.3 L156.8 136.2 L158.2 137.0 L159.6 137.9 L160.9 138.7 L162.3 139.6 L163.7 140.5 L165.0 141.4 L166.4 142.3 L167.7 143.2 L169.0 144.2 L170.3 145.1 L171.6 146.1 L172.9 147.0 L174.2 148.0 L175.5 149.0 L176.8 149.9 L178.1 150.9 L179.4 151.9 L180.6 152.9 L181.9 154.0 L183.1 155.0 L184.4 156.0 L185.6 157.1 L186.9 158.1 L188.1 159.1 L189.3 160.2 L190.5 161.3 L191.7 162.3 L192.9 163.4 L194.1 164.5 L195.3 165.6 L196.5 166.7 L197.7 167.8 L198.9 168.9 L200.0 170.0 L201.2 171.1 L202.3 172.2 L203.5 173.4 L204.6 174.5 L205.8 175.6 L206.9 176.8 L208.1 177.9 L209.2 179.1 L210.3 180.2 L211.4 181.4 L212.5 182.6 L213.6 183.7 L214.7 184.9 L215.8 186.1 L216.9 187.3 L218.0 188.5 L219.1 189.7 L220.2 190.9 L221.2 192.1 L222.3 193.3 L223.4 194.5 L224.4 195.7 L225.5 196.9 L226.5 198.1 L227.6 199.4 L228.6 200.6 L229.6 201.9 L230.7 203.1 L231.7 204.3 L232.7 205.6 L233.7 206.9 L234.7 208.1 L235.7 209.4 L236.7 210.6 L237.7 211.9 L238.7 213.2 L239.7 214.5 L240.6 215.8 L241.6 217.1 L242.6 218.3 L243.5 219.6 L244.5 220.9 L245.4 222.2 L246.3 223.6 L247.3 224.9 L248.2 226.2 L249.1 227.5 L250.0 228.8 L251.0 230.1 L251.9 231.5 L252.8 232.8 L253.7 234.1 L254.6 235.5 L255.5 236.8 L256.4 238.1 L257.3 239.5 L258.1 240.8 L259.0 242.2 L259.9 243.5 L260.8 244.9 L261.6 246.2 L262.5 247.6 L263.3 248.9 L264.2 250.3 L265.1 251.7 L265.9 253.0 L266.8 254.4 L267.6 255.8 L268.4 257.1 L269.3 258.5 L270.1 259.9 L270.9 261.2 L271.8 262.6 L272.6 264.0 L273.4 265.4 L274.2 266.8 L275.0 268.1 L275.9 269.5 L276.7 270.9 L277.5 272.3 L278.3 273.7 L279.1 275.0 L279.9 276.4 L280.7 277.8 L281.5 279.2 L282.3 280.6 L283.1 281.9 L284.0 283.3 L284.8 284.7 L285.6 286.1 L286.4 287.5 L287.2 288.8 L288.0 290.2 L288.8 291.6 L289.6 292.9 L290.5 294.3 L291.3 295.7 L292.1 297.1 L292.9 298.4 L293.8 299.8 L294.6 301.1 L295.4 302.5 L296.3 303.9 L297.1 305.2 L297.9 306.6 L298.8 307.9 L299.6 309.3 L300.5 310.6 L301.3 311.9 L302.2 313.3 L303.1 314.6 L303.9 315.9 L304.8 317.3 L305.7 318.6 L306.6 319.9 L307.5 321.2 L308.4 322.5 L309.3 323.8 L310.2 325.1 L311.1 326.4 L312.0 327.7 L313.0 329.0 L313.9 330.3 L314.9 331.5 L315.8 332.8 L316.8 334.0 L317.7 335.3 L318.7 336.5 L319.7 337.8 L320.7 339.0 L321.7 340.2 L322.7 341.5 L323.7 342.7 L324.8 343.9 L325.8 345.1 L326.8 346.3 L327.9 347.4 L328.9 348.6 L330.0 349.8 L331.1 350.9 L332.2 352.1 L333.3 353.2 L334.4 354.3 L335.5 355.5 L336.6 356.6 L337.7 357.7 L338.9 358.8 L340.0 359.8 L341.2 360.9 L342.3 362.0 L343.5 363.0 L344.7 364.1 L345.9 365.1 L347.1 366.1 L348.3 367.1 L349.5 368.1 L350.8 369.1 L352.0 370.0 L353.3 371.0 L354.5 371.9 L355.8 372.8 L357.1 373.8 L358.4 374.7 L359.7 375.5 L361.0 376.4 L362.3 377.3 L363.6 378.1 L365.0 378.9 L366.3 379.7 L367.6 380.5 L369.0 381.3 L370.4 382.1 L371.8 382.8 L373.1 383.6 L374.5 384.3 L375.9 385.0 L377.4 385.7 L378.8 386.3 L380.2 387.0 L381.6 387.6 L383.1 388.2 L384.5 388.8 L386.0 389.4 L387.4 390.0 L388.9 390.5 L390.4 391.0 L391.9 391.6 L393.3 392.0 L394.8 392.5 L396.3 392.9 L397.8 393.3 L399.3 393.7 L400.9 394.1 L402.4 394.5 L403.9 394.8 L405.4 395.1 L407.0 395.3 L408.5 395.6 L410.0 395.8 L411.6 395.9 L413.1 396.1 L414.6 396.2 L416.2 396.3 L417.7 396.4 L419.3 396.4 L420.8 396.4 L422.4 396.4 L423.9 396.3 L425.4 396.2 L427.0 396.1 L428.5 395.9 L430.1 395.7 L431.6 395.5 L433.1 395.2 L434.6 394.9 L436.1 394.6 L437.6 394.2 L439.1 393.9 L440.6 393.5 L442.1 393.0 L443.6 392.6 L445.1 392.1 L446.6 391.6 L448.0 391.0 L449.5 390.5 L451.0 389.9 L452.4 389.3 L453.9 388.7 L455.3 388.1 L456.8 387.5 L458.2 386.8 L459.6 386.2 L461.1 385.5 L462.5 384.8 L463.9 384.1 L465.3 383.4 L466.7 382.7 L468.1 382.0 L469.5 381.2 L470.9 380.5 L472.3 379.7 L473.7 379.0 L475.1 378.2 L476.5 377.5 L477.9 376.7 L479.3 375.9 L480.7 375.1 L482.1 374.3 L483.5 373.5 L484.8 372.7 L486.2 371.9 L487.6 371.1 L489.0 370.3 L490.4 369.5 L491.8 368.7 L493.1 367.9 L494.5 367.1 L495.9 366.3 L497.3 365.5 L498.7 364.7 L500.1 363.9 L501.4 363.1 L502.8 362.3 L504.2 361.5 L505.6 360.7 L507.0 359.9 L508.4 359.1 L509.7 358.3 L511.1 357.5 L512.5 356.7 L513.9 355.9 L515.3 355.1 L516.7 354.3 L518.0 353.5 L519.4 352.7 L520.8 351.9 L522.2 351.1 L523.6 350.3 L525.0 349.5 L526.3 348.7 L527.7 347.9 L529.1 347.1 L530.5 346.2 L531.9 345.4 L533.3 344.6 L534.6 343.8 L536.0 343.0 L537.4 342.2 L538.8 341.4 L540.2 340.6 L541.5 339.8 L542.9 339.0 L544.3 338.2 L545.7 337.4 L547.1 336.6 L548.5 335.8 L549.8 335.0 L551.2 334.2 L552.6 333.4 L554.0 332.6 L555.4 331.8 L556.8 331.0 L558.2 330.2 L559.5 329.3 L560.9 328.5 L562.3 327.7 L563.7 326.9 L565.1 326.1 L566.5 325.3 L567.8 324.5 L569.2 323.7 L570.6 322.9 L572.0 322.1 L573.4 321.3 L574.8 320.5 L576.2 319.7 L577.6 318.9 L578.9 318.1 L580.3 317.3 L581.7 316.5 L583.1 315.8 L584.5 315.0 L585.9 314.2 L587.3 313.4 L588.7 312.6 L590.1 311.8 L591.5 311.0 L592.9 310.2 L594.3 309.4 L595.7 308.7 L597.1 307.9 L598.5 307.1 L599.9 306.3 L601.3 305.5 L602.7 304.8 L604.1 304.0 L605.5 303.2 L606.9 302.4 L608.3 301.7 L609.7 300.9 L611.1 300.1 L612.5 299.4 L614.0 298.6 L615.4 297.9 L616.8 297.2 L618.2 296.4 L619.7 295.6 L621.1 294.9 L622.5 294.2 L623.9 293.4 L625.4 292.7 L626.8 292.0 L628.2 291.2 L629.7 290.5 L631.1 289.7 L632.5 288.9 L633.9 288.2 L635.4 287.5 L636.8 286.9 L638.3 286.1 L639.7 285.4 L641.1 284.7 L642.6 284.1 L644.1 283.4 L645.5 282.7 L647.0 282.1 L648.5 281.4 L649.9 280.8 L651.4 280.0 L652.9 279.5 L654.3 278.7 L655.8 278.1 L657.2 277.3 L658.7 276.7 L660.2 276.1 L661.6 275.5 L663.1 274.9 L664.6 274.2 L666.0 273.5 L667.4 272.8 L668.9 272.0 L670.3 271.4 L671.7 270.5 L673.2 269.9 L674.7 269.3 L676.2 268.9 L677.8 268.3 L679.2 267.6 L680.7 267.0 L682.1 266.3 L683.5 265.5 L685.0 264.8 L686.4 264.2 L688.0 263.7 L689.5 263.1 L690.9 262.3 L692.3 261.6 L693.7 260.8 L695.4 260.6 L696.9 260.0 L698.3 259.4 L699.6 258.2 L701.1 257.6 L702.7 257.3 L704.2 256.8 L705.7 256.3 L707.2 255.7 L708.7 255.2 L710.1 254.4 L711.4 253.4 L712.8 252.6 L714.4 252.2 L715.8 251.4 L717.4 251.0 L718.8 250.3 L720.5 250.2 L721.8 249.2 L723.3 248.5 L724.6 247.6 L726.1 247.1 L727.6 246.5 L729.1 246.0 L730.7 245.7 L732.1 244.9 L733.5 244.1 L734.9 243.3 L736.4 242.8 L737.9 242.2 L739.2 241.3 L740.6 240.6 L742.0 239.9 L743.6 239.6 L745.1 239.2 L746.6 238.6 L747.9 237.8 L749.2 236.9 L750.5 236.0 L751.8 235.1 L753.1 234.3 L754.4 233.4 L755.7 232.6 L757.1 231.9 L758.4 231.1 L759.7 230.2 L761.2 229.7 L762.3 228.6 L763.7 227.9 L764.7 226.6 L766.0 225.8 L766.9 224.5 L768.2 223.7 L769.5 222.8 L770.7 221.8 L771.8 220.7 L772.8 219.6 L778.3 225.4 L776.9 226.4 L776.0 227.9 L774.9 229.1 L773.7 230.2 L772.3 231.2 L771.1 232.3 L769.7 233.2 L768.1 233.9 L766.7 234.7 L765.5 235.9 L764.2 237.0 L762.9 238.0 L761.3 238.6 L759.9 239.4 L758.5 240.3 L757.3 241.5 L755.9 242.5 L754.5 243.3 L753.0 244.1 L751.4 244.5 L749.9 245.1 L748.3 245.7 L746.9 246.5 L745.4 247.2 L744.0 247.9 L742.5 248.6 L741.0 249.2 L739.3 249.4 L737.9 250.3 L736.4 250.9 L735.0 251.6 L733.3 251.9 L731.8 252.4 L730.4 253.1 L728.9 253.7 L727.5 254.5 L726.1 255.3 L724.7 256.0 L723.2 256.7 L721.6 257.0 L720.1 257.4 L718.6 258.1 L717.2 258.9 L715.7 259.5 L714.2 260.1 L712.8 260.8 L711.3 261.5 L709.8 262.0 L708.3 262.5 L706.9 263.2 L705.4 263.9 L703.9 264.5 L702.3 264.8 L700.8 265.3 L699.3 265.9 L697.9 266.7 L696.5 267.3 L695.0 267.9 L693.4 268.3 L692.0 269.2 L690.6 270.0 L689.2 270.6 L687.5 270.8 L686.0 271.3 L684.5 271.9 L683.2 272.8 L681.7 273.5 L680.3 274.2 L678.7 274.7 L677.3 275.3 L675.7 275.8 L674.3 276.4 L672.8 277.0 L671.4 277.8 L669.9 278.3 L668.4 279.0 L667.0 279.6 L665.5 280.3 L664.1 281.0 L662.6 281.7 L661.1 282.2 L659.7 282.8 L658.2 283.5 L656.8 284.3 L655.4 285.0 L653.9 285.5 L652.4 286.1 L650.9 286.7 L649.5 287.5 L648.1 288.3 L646.7 289.1 L645.3 289.7 L643.7 290.2 L642.3 290.8 L640.8 291.4 L639.4 292.2 L638.0 292.9 L636.6 293.7 L635.1 294.4 L633.7 295.0 L632.2 295.7 L630.8 296.4 L629.4 297.1 L628.0 297.8 L626.5 298.5 L625.1 299.2 L623.7 299.9 L622.3 300.7 L620.9 301.4 L619.4 302.2 L618.0 302.9 L616.6 303.6 L615.2 304.3 L613.7 305.0 L612.3 305.8 L610.9 306.5 L609.5 307.3 L608.1 308.0 L606.7 308.8 L605.3 309.5 L603.9 310.3 L602.5 311.1 L601.1 311.8 L599.7 312.6 L598.3 313.4 L596.9 314.2 L595.5 314.9 L594.1 315.7 L592.7 316.5 L591.3 317.3 L590.0 318.1 L588.6 318.9 L587.2 319.7 L585.8 320.4 L584.4 321.2 L583.0 322.0 L581.6 322.8 L580.2 323.6 L578.9 324.4 L577.5 325.2 L576.1 326.0 L574.7 326.8 L573.3 327.6 L571.9 328.4 L570.5 329.2 L569.2 330.0 L567.8 330.8 L566.4 331.6 L565.0 332.4 L563.6 333.2 L562.2 334.0 L560.9 334.8 L559.5 335.6 L558.1 336.4 L556.7 337.2 L555.3 338.0 L553.9 338.8 L552.6 339.6 L551.2 340.4 L549.8 341.3 L548.4 342.1 L547.0 342.9 L545.6 343.7 L544.3 344.5 L542.9 345.3 L541.5 346.1 L540.1 346.9 L538.7 347.7 L537.4 348.5 L536.0 349.3 L534.6 350.1 L533.2 350.9 L531.8 351.7 L530.4 352.5 L529.1 353.3 L527.7 354.1 L526.3 354.9 L524.9 355.7 L523.5 356.6 L522.1 357.4 L520.8 358.2 L519.4 359.0 L518.0 359.8 L516.6 360.6 L515.2 361.4 L513.8 362.2 L512.5 363.0 L511.1 363.8 L509.7 364.6 L508.3 365.4 L506.9 366.2 L505.5 367.0 L504.2 367.8 L502.8 368.6 L501.4 369.4 L500.0 370.2 L498.6 371.0 L497.2 371.8 L495.8 372.6 L494.5 373.4 L493.1 374.2 L491.7 375.0 L490.3 375.8 L488.9 376.6 L487.5 377.4 L486.1 378.2 L484.7 379.0 L483.3 379.8 L481.9 380.6 L480.5 381.4 L479.1 382.2 L477.7 383.0 L476.3 383.7 L474.9 384.5 L473.5 385.3 L472.1 386.0 L470.6 386.8 L469.2 387.5 L467.7 388.2 L466.3 389.0 L464.8 389.7 L463.4 390.4 L461.9 391.1 L460.4 391.8 L459.0 392.4 L457.5 393.1 L456.0 393.7 L454.5 394.3 L453.0 395.0 L451.4 395.5 L449.9 396.1 L448.4 396.7 L446.8 397.2 L445.3 397.7 L443.7 398.2 L442.1 398.6 L440.5 399.1 L438.9 399.5 L437.3 399.9 L435.7 400.2 L434.1 400.5 L432.4 400.8 L430.8 401.0 L429.1 401.3 L427.5 401.4 L425.9 401.6 L424.2 401.7 L422.5 401.8 L420.9 401.8 L419.2 401.8 L417.6 401.8 L415.9 401.7 L414.3 401.6 L412.6 401.5 L411.0 401.3 L409.3 401.1 L407.7 400.9 L406.1 400.7 L404.5 400.4 L402.8 400.1 L401.2 399.7 L399.6 399.4 L398.0 399.0 L396.4 398.6 L394.9 398.1 L393.3 397.7 L391.7 397.2 L390.2 396.7 L388.6 396.1 L387.1 395.6 L385.5 395.0 L384.0 394.4 L382.5 393.8 L381.0 393.2 L379.5 392.6 L378.0 391.9 L376.5 391.2 L375.0 390.5 L373.6 389.8 L372.1 389.1 L370.7 388.3 L369.2 387.6 L367.8 386.8 L366.4 386.0 L364.9 385.2 L363.5 384.4 L362.1 383.5 L360.8 382.7 L359.4 381.8 L358.0 380.9 L356.7 380.0 L355.3 379.1 L354.0 378.2 L352.6 377.2 L351.3 376.3 L350.0 375.3 L348.7 374.3 L347.4 373.3 L346.2 372.3 L344.9 371.3 L343.6 370.2 L342.4 369.2 L341.2 368.1 L339.9 367.1 L338.7 366.0 L337.5 364.9 L336.3 363.8 L335.2 362.7 L334.0 361.6 L332.8 360.4 L331.7 359.3 L330.5 358.1 L329.4 357.0 L328.3 355.8 L327.2 354.6 L326.0 353.4 L325.0 352.2 L323.9 351.0 L322.8 349.8 L321.7 348.6 L320.7 347.4 L319.6 346.2 L318.6 344.9 L317.5 343.7 L316.5 342.4 L315.5 341.2 L314.5 339.9 L313.5 338.6 L312.5 337.3 L311.5 336.1 L310.5 334.8 L309.6 333.5 L308.6 332.2 L307.7 330.9 L306.7 329.6 L305.8 328.2 L304.9 326.9 L303.9 325.6 L303.0 324.3 L302.1 322.9 L301.2 321.6 L300.3 320.3 L299.4 318.9 L298.5 317.6 L297.7 316.2 L296.8 314.9 L295.9 313.5 L295.1 312.1 L294.2 310.8 L293.4 309.4 L292.5 308.1 L291.7 306.7 L290.8 305.3 L290.0 304.0 L289.1 302.6 L288.3 301.2 L287.5 299.8 L286.7 298.5 L285.8 297.1 L285.0 295.7 L284.2 294.3 L283.4 293.0 L282.6 291.6 L281.7 290.2 L280.9 288.8 L280.1 287.4 L279.3 286.1 L278.5 284.7 L277.7 283.3 L276.9 281.9 L276.1 280.5 L275.3 279.1 L274.4 277.8 L273.6 276.4 L272.8 275.0 L272.0 273.6 L271.2 272.3 L270.4 270.9 L269.6 269.5 L268.8 268.1 L267.9 266.8 L267.1 265.4 L266.3 264.0 L265.5 262.7 L264.7 261.3 L263.8 259.9 L263.0 258.6 L262.2 257.2 L261.3 255.9 L260.5 254.5 L259.6 253.2 L258.8 251.8 L257.9 250.5 L257.1 249.1 L256.2 247.8 L255.4 246.4 L254.5 245.1 L253.6 243.8 L252.7 242.4 L251.9 241.1 L251.0 239.8 L250.1 238.5 L249.2 237.1 L248.3 235.8 L247.4 234.5 L246.5 233.2 L245.6 231.9 L244.7 230.6 L243.8 229.3 L242.9 228.0 L241.9 226.7 L241.0 225.4 L240.1 224.1 L239.2 222.8 L238.2 221.6 L237.3 220.3 L236.3 219.0 L235.4 217.7 L234.4 216.5 L233.4 215.2 L232.4 214.0 L231.5 212.7 L230.5 211.5 L229.5 210.2 L228.5 209.0 L227.5 207.8 L226.5 206.5 L225.5 205.3 L224.5 204.1 L223.4 202.9 L222.4 201.6 L221.4 200.4 L220.3 199.2 L219.3 198.0 L218.3 196.8 L217.2 195.7 L216.1 194.5 L215.1 193.3 L214.0 192.1 L212.9 190.9 L211.9 189.8 L210.8 188.6 L209.7 187.4 L208.6 186.3 L207.5 185.1 L206.4 184.0 L205.3 182.9 L204.2 181.7 L203.1 180.6 L202.0 179.5 L200.8 178.3 L199.7 177.2 L198.6 176.1 L197.4 175.0 L196.3 173.9 L195.1 172.8 L194.0 171.7 L192.8 170.6 L191.7 169.6 L190.5 168.5 L189.3 167.4 L188.1 166.4 L186.9 165.3 L185.8 164.3 L184.6 163.2 L183.4 162.2 L182.1 161.2 L180.9 160.2 L179.7 159.2 L178.5 158.2 L177.3 157.2 L176.0 156.2 L174.8 155.2 L173.5 154.2 L172.3 153.3 L171.0 152.3 L169.7 151.4 L168.5 150.4 L167.2 149.5 L165.9 148.6 L164.6 147.7 L163.3 146.8 L162.0 145.9 L160.7 145.0 L159.4 144.1 L158.0 143.3 L156.7 142.4 L155.4 141.6 L154.0 140.8 L152.7 140.0 L151.3 139.2 L149.9 138.4 L148.6 137.6 L147.2 136.8 L145.8 136.1 L144.4 135.4 L143.0 134.6 L141.6 133.9 L140.2 133.2 L138.8 132.6 L137.4 131.9 L135.9 131.2 L134.5 130.6 L133.0 130.0 L131.6 129.4 L130.1 128.8 L128.7 128.2 L127.2 127.7 L125.7 127.1 L124.3 126.6 L122.8 126.1 L121.3 125.6 L119.8 125.2 L118.3 124.7 L116.8 124.3Z" fill="#1a98bb" stroke="none"/>
<path d="M118.3 94.8 L119.8 95.2 L121.4 95.7 L123.0 96.1 L124.5 96.5 L126.1 97.0 L127.6 97.5 L129.2 98.0 L130.7 98.5 L132.3 99.0 L133.8 99.5 L135.3 100.0 L136.9 100.6 L138.4 101.1 L139.9 101.7 L141.4 102.3 L142.9 102.8 L144.4 103.4 L145.9 104.0 L147.4 104.6 L148.9 105.3 L150.4 105.9 L151.9 106.5 L153.4 107.2 L154.9 107.8 L156.3 108.5 L157.8 109.2 L159.3 109.9 L160.7 110.6 L162.2 111.3 L163.7 112.0 L165.1 112.7 L166.5 113.4 L168.0 114.1 L169.4 114.9 L170.9 115.6 L172.3 116.3 L173.7 117.1 L175.1 117.9 L176.6 118.6 L178.0 119.4 L179.4 120.2 L180.8 121.0 L182.2 121.8 L183.6 122.6 L185.0 123.4 L186.4 124.2 L187.8 125.0 L189.2 125.8 L190.6 126.6 L191.9 127.5 L193.3 128.3 L194.7 129.1 L196.1 130.0 L197.4 130.8 L198.8 131.7 L200.2 132.5 L201.5 133.4 L202.9 134.3 L204.2 135.1 L205.6 136.0 L206.9 136.9 L208.3 137.8 L209.6 138.7 L211.0 139.6 L212.3 140.5 L213.6 141.4 L215.0 142.3 L216.3 143.2 L217.6 144.1 L218.9 145.0 L220.3 145.9 L221.6 146.9 L222.9 147.8 L224.2 148.7 L225.5 149.7 L226.8 150.6 L228.1 151.6 L229.4 152.6 L230.7 153.5 L232.0 154.5 L233.3 155.5 L234.5 156.5 L235.8 157.5 L237.1 158.5 L238.3 159.5 L239.6 160.5 L240.9 161.5 L242.1 162.5 L243.4 163.6 L244.6 164.6 L245.8 165.7 L247.0 166.7 L248.3 167.8 L249.5 168.8 L250.7 169.9 L251.9 171.0 L253.1 172.1 L254.3 173.2 L255.5 174.3 L256.6 175.4 L257.8 176.5 L259.0 177.7 L260.1 178.8 L261.3 179.9 L262.4 181.1 L263.6 182.2 L264.7 183.4 L265.8 184.5 L266.9 185.7 L268.0 186.9 L269.1 188.1 L270.2 189.3 L271.3 190.5 L272.4 191.7 L273.5 192.9 L274.6 194.1 L275.6 195.3 L276.7 196.5 L277.7 197.8 L278.8 199.0 L279.8 200.2 L280.8 201.5 L281.8 202.7 L282.9 204.0 L283.9 205.3 L284.9 206.5 L285.9 207.8 L286.9 209.1 L287.8 210.4 L288.8 211.6 L289.8 212.9 L290.7 214.2 L291.7 215.5 L292.7 216.8 L293.6 218.1 L294.5 219.5 L295.5 220.8 L296.4 222.1 L297.3 223.4 L298.3 224.7 L299.2 226.0 L300.1 227.4 L301.0 228.7 L301.9 230.0 L302.8 231.4 L303.7 232.7 L304.6 234.0 L305.5 235.4 L306.4 236.7 L307.3 238.0 L308.1 239.4 L309.0 240.7 L309.9 242.1 L310.8 243.4 L311.7 244.7 L312.5 246.1 L313.4 247.4 L314.3 248.8 L315.1 250.1 L316.0 251.5 L316.9 252.8 L317.7 254.2 L318.6 255.5 L319.5 256.9 L320.3 258.2 L321.2 259.6 L322.1 260.9 L322.9 262.2 L323.8 263.6 L324.7 264.9 L325.5 266.3 L326.4 267.6 L327.3 269.0 L328.1 270.3 L329.0 271.7 L329.9 273.0 L330.7 274.3 L331.6 275.7 L332.5 277.0 L333.3 278.3 L334.2 279.7 L335.1 281.0 L336.0 282.3 L336.8 283.7 L337.7 285.0 L338.6 286.3 L339.5 287.7 L340.4 289.0 L341.3 290.3 L342.2 291.6 L343.1 292.9 L344.0 294.2 L344.9 295.5 L345.8 296.8 L346.7 298.1 L347.6 299.4 L348.5 300.7 L349.5 302.0 L350.4 303.3 L351.3 304.6 L352.3 305.9 L353.2 307.1 L354.2 308.4 L355.1 309.7 L356.1 310.9 L357.1 312.2 L358.0 313.4 L359.0 314.7 L360.0 315.9 L361.0 317.1 L362.0 318.4 L363.0 319.6 L364.0 320.8 L365.0 322.0 L366.1 323.2 L367.1 324.4 L368.2 325.6 L369.2 326.8 L370.3 327.9 L371.3 329.1 L372.4 330.3 L373.5 331.4 L374.6 332.6 L375.7 333.7 L376.8 334.8 L377.9 336.0 L379.0 337.1 L380.1 338.2 L381.2 339.3 L382.4 340.4 L383.5 341.5 L384.7 342.6 L385.8 343.6 L387.0 344.7 L388.2 345.7 L389.3 346.8 L390.5 347.8 L391.7 348.8 L392.9 349.9 L394.1 350.9 L395.4 351.9 L396.6 352.9 L397.8 353.9 L399.1 354.8 L400.3 355.8 L401.6 356.7 L402.8 357.7 L404.1 358.6 L405.4 359.5 L406.6 360.5 L407.9 361.4 L409.2 362.3 L410.5 363.1 L411.8 364.0 L413.2 364.9 L414.5 365.7 L415.8 366.5 L417.2 367.3 L418.5 368.2 L419.9 368.9 L421.2 369.7 L422.6 370.5 L424.0 371.2 L425.4 372.0 L426.7 372.7 L428.1 373.4 L429.5 374.1 L431.0 374.8 L432.4 375.5 L433.8 376.1 L435.2 376.7 L436.7 377.4 L438.1 378.0 L439.6 378.6 L441.0 379.1 L442.5 379.7 L443.9 380.2 L445.4 380.7 L446.9 381.2 L448.4 381.7 L449.9 382.2 L451.4 382.6 L452.9 383.1 L454.4 383.5 L455.9 383.9 L457.4 384.3 L458.9 384.6 L460.4 385.0 L462.0 385.3 L463.5 385.6 L465.0 385.9 L466.6 386.1 L468.1 386.4 L469.7 386.6 L471.2 386.8 L472.8 387.0 L474.3 387.2 L475.9 387.3 L477.4 387.4 L479.0 387.5 L480.5 387.6 L482.1 387.7 L483.6 387.8 L485.2 387.8 L486.8 387.8 L488.3 387.8 L489.9 387.8 L491.5 387.7 L493.0 387.7 L494.6 387.6 L496.1 387.5 L497.7 387.4 L499.2 387.2 L500.8 387.1 L502.4 386.9 L503.9 386.7 L505.5 386.5 L507.0 386.3 L508.6 386.0 L510.1 385.8 L511.6 385.5 L513.2 385.2 L514.7 384.9 L516.3 384.6 L517.8 384.3 L519.3 383.9 L520.8 383.5 L522.4 383.2 L523.9 382.8 L525.4 382.4 L526.9 381.9 L528.4 381.5 L529.9 381.1 L531.5 380.6 L533.0 380.1 L534.5 379.7 L536.0 379.2 L537.5 378.7 L538.9 378.1 L540.4 377.6 L541.9 377.1 L543.4 376.6 L544.9 376.0 L546.4 375.4 L547.9 374.9 L549.3 374.3 L550.8 373.7 L552.3 373.1 L553.7 372.5 L555.2 371.9 L556.7 371.3 L558.1 370.7 L559.6 370.1 L561.0 369.4 L562.5 368.8 L563.9 368.2 L565.4 367.5 L566.8 366.9 L568.3 366.2 L569.7 365.5 L571.2 364.9 L572.6 364.2 L574.1 363.5 L575.5 362.8 L576.9 362.2 L578.4 361.5 L579.8 360.8 L581.3 360.1 L582.7 359.4 L584.1 358.7 L585.6 358.0 L587.0 357.3 L588.4 356.6 L589.8 355.9 L591.3 355.2 L592.7 354.5 L594.1 353.7 L595.6 353.0 L597.0 352.3 L598.4 351.6 L599.8 350.9 L601.3 350.1 L602.7 349.4 L604.1 348.7 L605.6 348.0 L607.0 347.3 L608.4 346.5 L609.8 345.8 L611.3 345.1 L612.7 344.4 L614.1 343.6 L615.6 342.9 L617.0 342.2 L618.4 341.5 L619.9 340.8 L621.3 340.1 L622.8 339.4 L624.2 338.6 L625.6 338.0 L627.1 337.3 L628.5 336.6 L630.0 335.9 L631.4 335.1 L632.9 334.4 L634.3 333.8 L635.8 333.1 L637.2 332.3 L638.6 331.6 L640.2 331.0 L641.7 330.4 L643.1 329.8 L644.6 329.1 L646.0 328.3 L647.5 327.7 L648.9 327.0 L650.4 326.5 L651.9 325.9 L653.4 325.3 L654.9 324.6 L656.3 323.9 L657.8 323.3 L659.3 322.6 L660.7 322.0 L662.1 321.2 L663.6 320.6 L665.1 320.1 L666.7 319.5 L668.1 318.8 L669.5 318.1 L671.0 317.5 L672.5 317.0 L674.0 316.3 L675.4 315.6 L676.9 315.1 L678.4 314.5 L679.8 313.8 L681.2 313.0 L682.6 312.2 L684.1 311.6 L685.6 311.0 L687.1 310.5 L688.6 309.8 L690.0 309.3 L691.5 308.6 L693.1 308.2 L694.5 307.5 L695.9 306.9 L697.3 306.1 L698.7 305.3 L700.2 304.7 L701.6 303.9 L703.0 303.3 L704.5 302.6 L705.8 301.7 L707.2 301.0 L708.6 300.2 L710.2 299.8 L711.6 299.1 L713.0 298.4 L714.4 297.6 L715.8 296.8 L717.2 296.0 L718.4 295.1 L719.8 294.3 L721.2 293.5 L722.7 293.0 L723.9 291.9 L725.1 290.9 L726.4 290.0 L727.9 289.4 L729.5 288.9 L730.9 288.2 L732.3 287.5 L733.6 286.5 L735.0 285.8 L736.4 285.1 L737.7 284.2 L738.9 283.2 L740.4 282.5 L741.7 281.7 L742.9 280.7 L744.1 279.6 L745.4 278.7 L747.0 278.2 L748.1 277.1 L749.5 276.4 L750.8 275.5 L752.2 274.7 L753.1 273.3 L754.3 272.2 L755.7 271.4 L757.1 270.8 L758.3 269.7 L759.2 268.3 L760.6 267.6 L762.1 266.9 L763.5 266.2 L764.6 264.9 L765.6 263.6 L766.6 262.4 L768.0 261.7 L769.4 260.8 L770.7 260.0 L771.6 258.6 L772.7 257.4 L778.5 264.1 L777.4 265.3 L776.3 266.5 L775.1 267.6 L773.6 268.4 L772.5 269.6 L771.1 270.5 L770.2 271.8 L768.7 272.6 L767.5 273.7 L766.0 274.4 L765.1 276.0 L763.7 276.8 L762.5 277.9 L760.9 278.5 L759.7 279.6 L758.2 280.3 L756.9 281.3 L755.4 282.0 L754.2 283.1 L752.8 283.9 L751.6 285.0 L750.2 285.9 L748.8 286.7 L747.5 287.7 L746.1 288.5 L744.8 289.5 L743.5 290.4 L742.1 291.2 L740.7 292.1 L739.1 292.6 L737.8 293.7 L736.5 294.5 L735.1 295.5 L733.7 296.2 L732.1 296.7 L730.7 297.6 L729.2 298.2 L727.8 298.9 L726.4 299.7 L725.0 300.7 L723.7 301.5 L722.2 302.3 L720.8 303.1 L719.4 303.9 L718.0 304.7 L716.5 305.4 L715.1 306.2 L713.7 306.9 L712.1 307.3 L710.5 307.8 L708.9 308.2 L707.5 308.9 L706.0 309.6 L704.7 310.6 L703.3 311.4 L701.8 311.9 L700.3 312.5 L698.8 313.1 L697.3 313.7 L695.8 314.3 L694.4 315.1 L693.0 315.9 L691.6 316.7 L690.0 317.1 L688.5 317.7 L686.9 317.9 L685.4 318.7 L684.0 319.4 L682.6 320.2 L681.1 320.7 L679.6 321.3 L678.1 322.0 L676.7 322.7 L675.2 323.3 L673.7 324.0 L672.3 324.6 L670.8 325.3 L669.4 325.9 L667.9 326.6 L666.4 327.1 L664.9 327.6 L663.4 328.2 L662.0 328.9 L660.5 329.6 L659.1 330.3 L657.6 330.9 L656.0 331.3 L654.5 331.9 L653.1 332.5 L651.7 333.2 L650.2 333.9 L648.7 334.5 L647.3 335.1 L645.8 335.8 L644.4 336.5 L642.9 337.1 L641.5 337.7 L640.0 338.4 L638.6 339.1 L637.1 339.8 L635.7 340.4 L634.2 341.1 L632.8 341.8 L631.4 342.5 L630.0 343.2 L628.5 343.8 L627.1 344.5 L625.6 345.2 L624.2 346.0 L622.8 346.6 L621.3 347.3 L619.9 348.0 L618.5 348.8 L617.0 349.4 L615.6 350.1 L614.2 350.9 L612.8 351.6 L611.3 352.3 L609.9 353.0 L608.5 353.7 L607.0 354.4 L605.6 355.2 L604.2 355.9 L602.7 356.6 L601.3 357.3 L599.9 358.0 L598.4 358.7 L597.0 359.5 L595.6 360.2 L594.1 360.9 L592.7 361.6 L591.3 362.3 L589.8 363.0 L588.4 363.7 L586.9 364.4 L585.5 365.2 L584.0 365.9 L582.6 366.6 L581.2 367.2 L579.7 367.9 L578.2 368.6 L576.8 369.3 L575.3 370.0 L573.9 370.7 L572.4 371.4 L571.0 372.0 L569.5 372.7 L568.0 373.4 L566.5 374.0 L565.1 374.7 L563.6 375.3 L562.1 376.0 L560.6 376.6 L559.1 377.2 L557.7 377.8 L556.2 378.5 L554.7 379.1 L553.2 379.7 L551.7 380.3 L550.2 380.8 L548.7 381.4 L547.1 382.0 L545.6 382.6 L544.1 383.1 L542.6 383.7 L541.0 384.2 L539.5 384.7 L538.0 385.2 L536.4 385.7 L534.9 386.2 L533.3 386.7 L531.8 387.2 L530.2 387.6 L528.7 388.1 L527.1 388.5 L525.5 389.0 L523.9 389.4 L522.4 389.8 L520.8 390.1 L519.2 390.5 L517.6 390.9 L516.0 391.2 L514.4 391.5 L512.8 391.8 L511.2 392.1 L509.6 392.4 L508.0 392.6 L506.3 392.9 L504.7 393.1 L503.1 393.3 L501.5 393.4 L499.8 393.6 L498.2 393.7 L496.6 393.9 L494.9 394.0 L493.3 394.1 L491.7 394.1 L490.0 394.2 L488.4 394.2 L486.8 394.2 L485.1 394.2 L483.5 394.2 L481.8 394.1 L480.2 394.0 L478.6 393.9 L476.9 393.8 L475.3 393.7 L473.7 393.5 L472.0 393.3 L470.4 393.2 L468.8 392.9 L467.2 392.7 L465.5 392.4 L463.9 392.2 L462.3 391.9 L460.7 391.5 L459.1 391.2 L457.5 390.9 L455.9 390.5 L454.3 390.1 L452.7 389.7 L451.1 389.2 L449.6 388.8 L448.0 388.3 L446.4 387.8 L444.9 387.3 L443.3 386.8 L441.8 386.2 L440.2 385.7 L438.7 385.1 L437.2 384.5 L435.7 383.9 L434.2 383.3 L432.7 382.6 L431.2 381.9 L429.7 381.3 L428.2 380.6 L426.7 379.9 L425.3 379.1 L423.8 378.4 L422.4 377.6 L420.9 376.9 L419.5 376.1 L418.1 375.3 L416.7 374.5 L415.3 373.7 L413.9 372.8 L412.5 372.0 L411.1 371.1 L409.7 370.2 L408.3 369.4 L407.0 368.5 L405.6 367.5 L404.3 366.6 L403.0 365.7 L401.6 364.7 L400.3 363.8 L399.0 362.8 L397.7 361.9 L396.4 360.9 L395.1 359.9 L393.8 358.9 L392.6 357.9 L391.3 356.8 L390.1 355.8 L388.8 354.8 L387.6 353.7 L386.3 352.7 L385.1 351.6 L383.9 350.5 L382.7 349.4 L381.5 348.3 L380.3 347.2 L379.1 346.1 L377.9 345.0 L376.8 343.9 L375.6 342.8 L374.5 341.6 L373.3 340.5 L372.2 339.3 L371.1 338.2 L369.9 337.0 L368.8 335.8 L367.7 334.6 L366.6 333.4 L365.5 332.2 L364.4 331.0 L363.4 329.8 L362.3 328.6 L361.2 327.4 L360.2 326.2 L359.1 324.9 L358.1 323.7 L357.1 322.4 L356.0 321.2 L355.0 319.9 L354.0 318.7 L353.0 317.4 L352.0 316.1 L351.0 314.8 L350.0 313.6 L349.1 312.3 L348.1 311.0 L347.1 309.7 L346.2 308.4 L345.2 307.1 L344.3 305.8 L343.3 304.5 L342.4 303.1 L341.5 301.8 L340.6 300.5 L339.6 299.2 L338.7 297.9 L337.8 296.5 L336.9 295.2 L336.0 293.9 L335.1 292.6 L334.2 291.2 L333.3 289.9 L332.4 288.5 L331.5 287.2 L330.6 285.9 L329.7 284.5 L328.9 283.2 L328.0 281.8 L327.1 280.5 L326.2 279.2 L325.4 277.8 L324.5 276.5 L323.6 275.1 L322.7 273.8 L321.9 272.4 L321.0 271.1 L320.1 269.7 L319.3 268.4 L318.4 267.1 L317.5 265.7 L316.7 264.4 L315.8 263.0 L315.0 261.7 L314.1 260.3 L313.2 259.0 L312.4 257.6 L311.5 256.3 L310.6 254.9 L309.8 253.6 L308.9 252.3 L308.0 250.9 L307.2 249.6 L306.3 248.2 L305.4 246.9 L304.5 245.6 L303.7 244.2 L302.8 242.9 L301.9 241.6 L301.0 240.2 L300.2 238.9 L299.3 237.6 L298.4 236.3 L297.5 234.9 L296.6 233.6 L295.7 232.3 L294.8 231.0 L293.9 229.7 L293.0 228.4 L292.1 227.1 L291.2 225.8 L290.3 224.5 L289.3 223.2 L288.4 221.9 L287.5 220.6 L286.6 219.3 L285.6 218.0 L284.7 216.7 L283.7 215.5 L282.8 214.2 L281.8 213.0 L280.8 211.7 L279.9 210.5 L278.9 209.2 L277.9 208.0 L276.9 206.7 L275.9 205.5 L274.9 204.3 L273.9 203.1 L272.9 201.9 L271.9 200.7 L270.8 199.5 L269.8 198.3 L268.7 197.1 L267.7 195.9 L266.6 194.7 L265.6 193.5 L264.5 192.4 L263.4 191.2 L262.3 190.1 L261.2 188.9 L260.1 187.8 L259.0 186.6 L257.9 185.5 L256.8 184.4 L255.7 183.3 L254.6 182.2 L253.4 181.1 L252.3 180.0 L251.1 178.9 L250.0 177.8 L248.8 176.7 L247.7 175.7 L246.5 174.6 L245.3 173.5 L244.1 172.5 L242.9 171.5 L241.7 170.4 L240.5 169.4 L239.3 168.4 L238.1 167.4 L236.9 166.3 L235.7 165.3 L234.4 164.3 L233.2 163.4 L232.0 162.4 L230.7 161.4 L229.5 160.4 L228.2 159.5 L226.9 158.5 L225.7 157.5 L224.4 156.6 L223.1 155.7 L221.8 154.7 L220.6 153.8 L219.3 152.9 L218.0 151.9 L216.7 151.0 L215.4 150.1 L214.1 149.2 L212.8 148.3 L211.5 147.4 L210.1 146.5 L208.8 145.6 L207.5 144.7 L206.2 143.8 L204.9 143.0 L203.5 142.1 L202.2 141.2 L200.9 140.3 L199.5 139.5 L198.2 138.6 L196.9 137.8 L195.5 136.9 L194.2 136.1 L192.8 135.2 L191.5 134.4 L190.1 133.6 L188.8 132.7 L187.4 131.9 L186.0 131.1 L184.7 130.3 L183.3 129.5 L181.9 128.7 L180.6 127.9 L179.2 127.1 L177.8 126.3 L176.4 125.5 L175.0 124.8 L173.6 124.0 L172.2 123.2 L170.8 122.5 L169.4 121.7 L168.0 121.0 L166.6 120.3 L165.2 119.6 L163.8 118.8 L162.4 118.1 L161.0 117.4 L159.5 116.7 L158.1 116.1 L156.7 115.4 L155.3 114.7 L153.8 114.0 L152.4 113.4 L150.9 112.7 L149.5 112.1 L148.0 111.5 L146.6 110.9 L145.1 110.2 L143.7 109.6 L142.2 109.1 L140.7 108.5 L139.3 107.9 L137.8 107.3 L136.3 106.8 L134.8 106.2 L133.3 105.7 L131.8 105.2 L130.3 104.7 L128.8 104.2 L127.3 103.7 L125.8 103.2 L124.3 102.8 L122.8 102.3 L121.3 101.9 L119.8 101.4 L118.3 101.0 L116.7 100.6Z" fill="#1e3cf5" stroke="none"/>
<path d="M735 291 C748 287 758 283 775 281" stroke="#1e3cf5" stroke-width="4.5"/>
<path d="M748 283 C758 278 764 275 775 273" stroke="#1e3cf5" stroke-width="3.5"/>
<path d="M118.6 67.7 L120.1 68.2 L121.7 68.8 L123.2 69.3 L124.7 69.8 L126.3 70.4 L127.8 71.0 L129.3 71.5 L130.8 72.1 L132.3 72.7 L133.8 73.3 L135.3 73.9 L136.8 74.5 L138.3 75.2 L139.8 75.8 L141.3 76.4 L142.8 77.1 L144.2 77.7 L145.7 78.4 L147.2 79.0 L148.7 79.7 L150.1 80.4 L151.6 81.0 L153.1 81.7 L154.5 82.4 L156.0 83.1 L157.4 83.8 L158.9 84.5 L160.3 85.2 L161.8 85.9 L163.2 86.6 L164.7 87.3 L166.1 88.0 L167.5 88.7 L169.0 89.4 L170.4 90.1 L171.9 90.8 L173.3 91.5 L174.7 92.2 L176.2 93.0 L177.6 93.7 L179.0 94.4 L180.5 95.1 L181.9 95.8 L183.3 96.6 L184.7 97.3 L186.2 98.0 L187.6 98.7 L189.0 99.4 L190.5 100.1 L191.9 100.8 L193.3 101.6 L194.7 102.3 L196.2 103.0 L197.6 103.7 L199.0 104.4 L200.5 105.1 L201.9 105.8 L203.3 106.5 L204.8 107.1 L206.2 107.8 L207.6 108.5 L209.1 109.2 L210.5 109.9 L212.0 110.5 L213.4 111.2 L214.9 111.8 L216.3 112.5 L217.8 113.1 L219.2 113.8 L220.7 114.4 L222.1 115.0 L223.6 115.7 L225.0 116.3 L226.5 116.9 L228.0 117.5 L229.4 118.1 L230.9 118.7 L232.4 119.2 L233.9 119.8 L235.3 120.4 L236.8 121.0 L238.3 121.5 L239.8 122.1 L241.3 122.6 L242.8 123.2 L244.3 123.8 L245.8 124.3 L247.3 124.9 L248.8 125.5 L250.3 126.0 L251.8 126.6 L253.3 127.1 L254.8 127.7 L256.3 128.3 L257.8 128.9 L259.3 129.4 L260.8 130.0 L262.3 130.6 L263.9 131.2 L265.4 131.8 L266.9 132.5 L268.3 133.1 L269.8 133.7 L271.3 134.4 L272.8 135.1 L274.3 135.7 L275.8 136.4 L277.3 137.1 L278.7 137.9 L280.2 138.6 L281.6 139.3 L283.1 140.1 L284.5 140.9 L286.0 141.7 L287.4 142.5 L288.8 143.3 L290.2 144.1 L291.6 145.0 L293.0 145.8 L294.4 146.7 L295.8 147.6 L297.2 148.5 L298.5 149.4 L299.9 150.3 L301.2 151.2 L302.6 152.2 L303.9 153.2 L305.2 154.1 L306.5 155.1 L307.8 156.1 L309.1 157.1 L310.4 158.1 L311.7 159.1 L312.9 160.2 L314.2 161.2 L315.4 162.3 L316.7 163.3 L317.9 164.4 L319.1 165.5 L320.4 166.6 L321.6 167.6 L322.8 168.7 L324.0 169.9 L325.2 171.0 L326.3 172.1 L327.5 173.2 L328.7 174.4 L329.8 175.5 L331.0 176.7 L332.1 177.8 L333.2 179.0 L334.4 180.2 L335.5 181.4 L336.6 182.6 L337.7 183.8 L338.8 185.0 L339.9 186.2 L340.9 187.4 L342.0 188.6 L343.1 189.8 L344.1 191.1 L345.2 192.3 L346.2 193.5 L347.3 194.8 L348.3 196.0 L349.3 197.3 L350.3 198.5 L351.4 199.8 L352.4 201.1 L353.4 202.3 L354.4 203.6 L355.4 204.9 L356.4 206.1 L357.3 207.4 L358.3 208.7 L359.3 210.0 L360.3 211.3 L361.2 212.6 L362.2 213.9 L363.2 215.2 L364.1 216.5 L365.1 217.8 L366.0 219.1 L367.0 220.4 L367.9 221.7 L368.9 223.0 L369.8 224.3 L370.7 225.6 L371.7 226.9 L372.6 228.2 L373.5 229.5 L374.5 230.8 L375.4 232.1 L376.3 233.5 L377.2 234.8 L378.1 236.1 L379.0 237.4 L380.0 238.7 L380.9 240.1 L381.8 241.4 L382.7 242.7 L383.6 244.0 L384.5 245.3 L385.4 246.7 L386.3 248.0 L387.2 249.3 L388.1 250.6 L389.0 252.0 L389.9 253.3 L390.8 254.6 L391.7 255.9 L392.6 257.3 L393.5 258.6 L394.4 259.9 L395.3 261.2 L396.2 262.6 L397.1 263.9 L398.0 265.2 L398.9 266.5 L399.8 267.8 L400.7 269.1 L401.6 270.5 L402.5 271.8 L403.4 273.1 L404.3 274.4 L405.2 275.7 L406.2 277.0 L407.1 278.3 L408.0 279.5 L408.9 280.8 L409.9 282.1 L410.8 283.4 L411.7 284.7 L412.7 285.9 L413.6 287.2 L414.6 288.4 L415.5 289.7 L416.5 291.0 L417.5 292.2 L418.5 293.4 L419.4 294.7 L420.4 295.9 L421.4 297.1 L422.4 298.3 L423.4 299.5 L424.4 300.7 L425.5 301.9 L426.5 303.1 L427.5 304.3 L428.6 305.4 L429.6 306.6 L430.7 307.7 L431.8 308.8 L432.8 310.0 L433.9 311.1 L435.0 312.2 L436.1 313.3 L437.2 314.3 L438.4 315.4 L439.5 316.4 L440.7 317.5 L441.8 318.5 L443.0 319.5 L444.2 320.4 L445.4 321.4 L446.6 322.3 L447.8 323.2 L449.1 324.1 L450.3 325.0 L451.6 325.9 L452.9 326.7 L454.2 327.5 L455.5 328.3 L456.8 329.1 L458.1 329.9 L459.5 330.7 L460.8 331.4 L462.2 332.2 L463.6 332.9 L465.0 333.6 L466.4 334.3 L467.8 335.0 L469.2 335.7 L470.6 336.4 L472.1 337.1 L473.5 337.8 L474.9 338.5 L476.4 339.2 L477.8 339.9 L479.3 340.5 L480.7 341.2 L482.2 341.9 L483.6 342.7 L485.1 343.4 L486.5 344.1 L488.0 344.8 L489.4 345.5 L490.8 346.2 L492.3 347.0 L493.7 347.7 L495.1 348.4 L496.6 349.1 L498.0 349.8 L499.4 350.6 L500.8 351.3 L502.3 352.0 L503.7 352.7 L505.1 353.4 L506.5 354.1 L508.0 354.8 L509.4 355.5 L510.8 356.1 L512.2 356.8 L513.7 357.5 L515.1 358.1 L516.5 358.8 L518.0 359.4 L519.4 360.0 L520.9 360.6 L522.3 361.2 L523.8 361.8 L525.2 362.4 L526.7 362.9 L528.2 363.5 L529.7 364.0 L531.1 364.5 L532.6 365.0 L534.1 365.5 L535.6 366.0 L537.1 366.5 L538.6 367.0 L540.1 367.4 L541.6 367.8 L543.1 368.3 L544.6 368.7 L546.1 369.1 L547.6 369.5 L549.2 369.8 L550.7 370.2 L552.2 370.5 L553.8 370.9 L555.3 371.2 L556.8 371.5 L558.4 371.8 L559.9 372.1 L561.4 372.4 L563.0 372.6 L564.5 372.9 L566.1 373.1 L567.6 373.3 L569.2 373.5 L570.7 373.7 L572.3 373.9 L573.9 374.1 L575.4 374.3 L577.0 374.4 L578.5 374.5 L580.1 374.7 L581.7 374.8 L583.2 374.9 L584.8 375.0 L586.4 375.0 L587.9 375.1 L589.5 375.1 L591.1 375.2 L592.6 375.2 L594.2 375.2 L595.8 375.2 L597.4 375.2 L598.9 375.2 L600.5 375.1 L602.1 375.1 L603.6 375.0 L605.2 375.0 L606.8 374.9 L608.3 374.8 L609.9 374.7 L611.5 374.6 L613.0 374.5 L614.6 374.3 L616.2 374.2 L617.7 374.0 L619.3 373.9 L620.9 373.7 L622.4 373.5 L624.0 373.2 L625.6 373.1 L627.1 373.0 L628.7 372.7 L630.2 372.4 L631.8 372.1 L633.3 371.9 L634.9 371.6 L636.4 371.4 L638.0 371.1 L639.6 370.9 L641.1 370.5 L642.6 370.2 L644.2 369.8 L645.7 369.4 L647.3 369.1 L648.8 368.7 L650.3 368.5 L651.9 368.0 L653.4 367.6 L654.9 367.1 L656.4 366.9 L658.0 366.4 L659.5 366.0 L660.9 365.3 L662.5 365.1 L664.1 364.8 L665.6 364.5 L667.1 363.9 L668.6 363.3 L670.1 362.8 L671.5 362.2 L673.1 361.8 L674.6 361.4 L676.2 361.1 L677.7 360.6 L679.1 360.0 L680.6 359.3 L682.0 358.7 L683.5 358.1 L685.1 357.8 L686.7 357.6 L688.2 357.1 L689.6 356.4 L691.0 355.5 L692.5 355.1 L694.0 354.5 L695.4 353.7 L696.8 353.0 L698.3 352.5 L699.9 352.2 L701.3 351.4 L702.7 350.7 L704.1 349.9 L705.6 349.4 L707.0 348.6 L708.5 348.2 L710.0 347.6 L711.4 347.0 L712.8 346.2 L714.3 345.5 L715.8 345.0 L717.3 344.4 L718.8 344.0 L720.2 343.2 L721.6 342.6 L723.0 341.8 L724.6 341.4 L726.0 340.6 L727.4 340.0 L728.8 339.2 L730.2 338.5 L731.6 337.8 L733.1 337.1 L734.7 336.7 L736.0 335.8 L737.4 335.2 L738.7 334.2 L740.3 333.8 L741.6 332.8 L743.1 332.2 L744.4 331.3 L745.8 330.5 L747.0 329.4 L748.3 328.5 L749.8 327.9 L751.4 327.6 L752.8 326.8 L754.2 326.0 L755.4 324.9 L756.9 324.2 L758.3 323.7 L759.9 323.1 L761.2 322.3 L762.5 321.4 L764.0 320.7 L765.4 320.0 L766.9 319.4 L768.1 318.3 L769.5 317.6 L770.8 316.7 L772.3 316.1 L777.6 325.7 L776.1 326.5 L774.8 327.3 L773.2 327.8 L771.9 328.7 L770.6 329.7 L769.5 331.0 L768.2 332.0 L766.7 332.7 L765.2 333.2 L763.4 333.4 L761.8 333.8 L760.5 334.7 L759.0 335.3 L757.6 336.2 L756.0 336.4 L754.7 337.5 L753.3 338.2 L752.0 339.3 L750.4 339.8 L749.0 340.6 L747.6 341.3 L746.2 342.1 L744.8 343.0 L743.2 343.4 L741.7 343.9 L740.2 344.5 L738.9 345.6 L737.4 346.1 L736.0 346.9 L734.4 347.4 L732.9 348.0 L731.4 348.5 L729.9 349.1 L728.6 350.2 L727.0 350.6 L725.6 351.3 L724.0 351.9 L722.6 352.7 L721.2 353.3 L719.7 354.1 L718.3 354.9 L716.8 355.5 L715.2 355.8 L713.6 356.2 L712.2 357.0 L710.8 357.8 L709.3 358.4 L707.7 358.8 L706.2 359.4 L704.7 359.9 L703.3 360.7 L701.9 361.6 L700.4 362.3 L698.8 362.8 L697.2 363.0 L695.7 363.6 L694.2 364.1 L692.6 364.7 L691.1 365.1 L689.5 365.6 L688.0 366.1 L686.5 366.7 L684.9 367.0 L683.4 367.8 L681.9 368.3 L680.4 368.8 L678.8 369.3 L677.2 369.7 L675.7 370.2 L674.1 370.5 L672.6 371.0 L671.0 371.5 L669.5 371.9 L667.9 372.2 L666.3 372.7 L664.7 373.0 L663.2 373.6 L661.6 373.9 L660.0 374.3 L658.5 374.7 L656.9 375.1 L655.3 375.6 L653.8 375.9 L652.2 376.3 L650.6 376.6 L649.0 377.1 L647.5 377.5 L645.9 377.9 L644.3 378.2 L642.7 378.4 L641.1 378.7 L639.5 379.0 L637.9 379.3 L636.3 379.5 L634.7 379.8 L633.1 380.0 L631.5 380.3 L629.9 380.5 L628.2 380.8 L626.6 381.0 L625.0 381.3 L623.4 381.5 L621.8 381.7 L620.2 381.8 L618.6 382.0 L616.9 382.1 L615.3 382.3 L613.7 382.4 L612.1 382.6 L610.5 382.7 L608.8 382.8 L607.2 382.9 L605.6 383.0 L604.0 383.0 L602.3 383.1 L600.7 383.1 L599.1 383.2 L597.4 383.2 L595.8 383.2 L594.2 383.2 L592.6 383.2 L590.9 383.2 L589.3 383.1 L587.7 383.1 L586.0 383.0 L584.4 383.0 L582.8 382.9 L581.1 382.8 L579.5 382.6 L577.9 382.5 L576.3 382.4 L574.6 382.2 L573.0 382.1 L571.4 381.9 L569.8 381.7 L568.2 381.5 L566.5 381.3 L564.9 381.0 L563.3 380.8 L561.7 380.5 L560.1 380.3 L558.5 380.0 L556.9 379.7 L555.3 379.4 L553.7 379.0 L552.1 378.7 L550.5 378.3 L548.9 378.0 L547.3 377.6 L545.7 377.2 L544.1 376.8 L542.5 376.4 L541.0 376.0 L539.4 375.5 L537.8 375.1 L536.3 374.6 L534.7 374.1 L533.1 373.6 L531.6 373.1 L530.0 372.6 L528.5 372.1 L527.0 371.5 L525.4 371.0 L523.9 370.4 L522.4 369.8 L520.9 369.3 L519.3 368.7 L517.8 368.0 L516.3 367.4 L514.8 366.8 L513.3 366.2 L511.8 365.5 L510.3 364.9 L508.9 364.2 L507.4 363.5 L505.9 362.9 L504.4 362.2 L503.0 361.5 L501.5 360.8 L500.1 360.1 L498.6 359.4 L497.2 358.7 L495.7 358.0 L494.3 357.3 L492.8 356.6 L491.4 355.9 L490.0 355.2 L488.5 354.5 L487.1 353.8 L485.7 353.1 L484.2 352.4 L482.8 351.7 L481.4 351.0 L479.9 350.3 L478.5 349.6 L477.1 349.0 L475.6 348.3 L474.2 347.6 L472.7 347.0 L471.3 346.3 L469.8 345.6 L468.4 344.9 L466.9 344.3 L465.4 343.6 L464.0 342.9 L462.5 342.2 L461.0 341.4 L459.6 340.7 L458.1 340.0 L456.7 339.2 L455.2 338.4 L453.8 337.6 L452.3 336.8 L450.9 336.0 L449.5 335.1 L448.1 334.2 L446.7 333.3 L445.3 332.4 L443.9 331.5 L442.5 330.5 L441.2 329.5 L439.9 328.5 L438.5 327.5 L437.2 326.5 L435.9 325.4 L434.7 324.3 L433.4 323.2 L432.2 322.1 L431.0 321.0 L429.8 319.9 L428.6 318.7 L427.4 317.6 L426.3 316.4 L425.1 315.2 L424.0 314.0 L422.9 312.8 L421.8 311.6 L420.7 310.4 L419.6 309.2 L418.5 307.9 L417.4 306.7 L416.4 305.4 L415.3 304.2 L414.3 302.9 L413.3 301.7 L412.3 300.4 L411.2 299.1 L410.2 297.9 L409.2 296.6 L408.3 295.3 L407.3 294.0 L406.3 292.7 L405.3 291.4 L404.3 290.1 L403.4 288.8 L402.4 287.5 L401.5 286.2 L400.5 284.9 L399.6 283.6 L398.7 282.3 L397.7 281.0 L396.8 279.6 L395.9 278.3 L395.0 277.0 L394.0 275.7 L393.1 274.4 L392.2 273.0 L391.3 271.7 L390.4 270.4 L389.5 269.1 L388.6 267.7 L387.7 266.4 L386.8 265.1 L385.9 263.8 L385.0 262.4 L384.1 261.1 L383.2 259.8 L382.3 258.5 L381.4 257.1 L380.5 255.8 L379.6 254.5 L378.7 253.2 L377.8 251.9 L376.9 250.5 L376.0 249.2 L375.1 247.9 L374.2 246.6 L373.3 245.3 L372.4 244.0 L371.5 242.7 L370.6 241.3 L369.7 240.0 L368.8 238.7 L367.8 237.4 L366.9 236.1 L366.0 234.8 L365.1 233.5 L364.2 232.2 L363.2 230.9 L362.3 229.6 L361.4 228.3 L360.5 227.0 L359.5 225.8 L358.6 224.5 L357.7 223.2 L356.7 221.9 L355.8 220.6 L354.8 219.4 L353.9 218.1 L352.9 216.8 L352.0 215.6 L351.0 214.3 L350.0 213.0 L349.1 211.8 L348.1 210.5 L347.1 209.3 L346.2 208.0 L345.2 206.8 L344.2 205.6 L343.2 204.3 L342.2 203.1 L341.2 201.9 L340.2 200.7 L339.2 199.4 L338.2 198.2 L337.1 197.0 L336.1 195.8 L335.1 194.6 L334.0 193.5 L333.0 192.3 L331.9 191.1 L330.9 189.9 L329.8 188.8 L328.7 187.6 L327.7 186.5 L326.6 185.3 L325.5 184.2 L324.4 183.0 L323.3 181.9 L322.2 180.8 L321.1 179.7 L320.0 178.6 L318.9 177.5 L317.8 176.4 L316.6 175.3 L315.5 174.2 L314.4 173.1 L313.2 172.0 L312.1 171.0 L310.9 169.9 L309.7 168.9 L308.5 167.9 L307.3 166.8 L306.2 165.8 L305.0 164.8 L303.7 163.8 L302.5 162.8 L301.3 161.9 L300.1 160.9 L298.8 160.0 L297.6 159.0 L296.3 158.1 L295.1 157.2 L293.8 156.3 L292.5 155.4 L291.2 154.5 L289.9 153.6 L288.6 152.7 L287.3 151.9 L286.0 151.1 L284.7 150.2 L283.3 149.4 L282.0 148.6 L280.6 147.9 L279.3 147.1 L277.9 146.3 L276.5 145.6 L275.2 144.9 L273.8 144.2 L272.4 143.4 L271.0 142.7 L269.6 142.1 L268.1 141.4 L266.7 140.7 L265.3 140.1 L263.8 139.4 L262.4 138.8 L261.0 138.2 L259.5 137.5 L258.0 136.9 L256.6 136.3 L255.1 135.7 L253.6 135.1 L252.2 134.5 L250.7 133.9 L249.2 133.3 L247.7 132.8 L246.2 132.2 L244.8 131.6 L243.3 131.1 L241.8 130.5 L240.3 129.9 L238.8 129.4 L237.3 128.8 L235.8 128.2 L234.3 127.7 L232.8 127.1 L231.3 126.5 L229.8 125.9 L228.3 125.3 L226.8 124.7 L225.3 124.1 L223.8 123.5 L222.3 122.9 L220.8 122.3 L219.3 121.6 L217.8 121.0 L216.3 120.3 L214.9 119.7 L213.4 119.0 L211.9 118.3 L210.4 117.7 L209.0 117.0 L207.5 116.3 L206.1 115.6 L204.6 115.0 L203.1 114.3 L201.7 113.6 L200.2 112.9 L198.8 112.2 L197.4 111.5 L195.9 110.8 L194.5 110.1 L193.0 109.3 L191.6 108.6 L190.2 107.9 L188.7 107.2 L187.3 106.5 L185.9 105.8 L184.4 105.1 L183.0 104.3 L181.6 103.6 L180.1 102.9 L178.7 102.2 L177.3 101.5 L175.8 100.7 L174.4 100.0 L173.0 99.3 L171.6 98.6 L170.1 97.9 L168.7 97.1 L167.3 96.4 L165.8 95.7 L164.4 95.0 L163.0 94.3 L161.6 93.6 L160.1 92.9 L158.7 92.2 L157.3 91.5 L155.8 90.8 L154.4 90.1 L153.0 89.4 L151.5 88.8 L150.1 88.1 L148.6 87.4 L147.2 86.8 L145.7 86.1 L144.3 85.4 L142.9 84.8 L141.4 84.1 L140.0 83.5 L138.5 82.9 L137.0 82.2 L135.6 81.6 L134.1 81.0 L132.7 80.4 L131.2 79.8 L129.7 79.2 L128.3 78.7 L126.8 78.1 L125.3 77.5 L123.8 77.0 L122.4 76.4 L120.9 75.9 L119.4 75.4 L117.9 74.9 L116.4 74.4Z" fill="#5010ee" stroke="none"/>
<path d="M118.7 54.1 L120.2 54.8 L121.6 55.4 L123.0 56.1 L124.5 56.8 L125.9 57.5 L127.4 58.2 L128.8 58.9 L130.2 59.5 L131.7 60.2 L133.1 60.9 L134.6 61.5 L136.0 62.2 L137.5 62.8 L138.9 63.5 L140.4 64.1 L141.9 64.8 L143.3 65.4 L144.8 66.1 L146.2 66.7 L147.7 67.3 L149.2 67.9 L150.6 68.6 L152.1 69.2 L153.6 69.8 L155.0 70.4 L156.5 71.0 L158.0 71.7 L159.5 72.3 L160.9 72.9 L162.4 73.5 L163.9 74.1 L165.4 74.7 L166.8 75.3 L168.3 75.9 L169.8 76.4 L171.3 77.0 L172.8 77.6 L174.3 78.2 L175.8 78.8 L177.2 79.4 L178.7 79.9 L180.2 80.5 L181.7 81.1 L183.2 81.6 L184.7 82.2 L186.2 82.7 L187.7 83.3 L189.2 83.9 L190.7 84.4 L192.2 85.0 L193.7 85.5 L195.2 86.1 L196.7 86.6 L198.2 87.1 L199.7 87.7 L201.2 88.2 L202.7 88.7 L204.2 89.3 L205.7 89.8 L207.2 90.3 L208.7 90.9 L210.2 91.4 L211.7 91.9 L213.2 92.4 L214.7 93.0 L216.2 93.5 L217.8 94.0 L219.3 94.5 L220.8 95.0 L222.3 95.5 L223.8 96.0 L225.3 96.5 L226.8 97.0 L228.4 97.5 L229.9 98.0 L231.4 98.5 L232.9 99.0 L234.4 99.5 L235.9 100.0 L237.5 100.5 L239.0 101.0 L240.5 101.5 L242.0 102.0 L243.5 102.5 L245.1 103.0 L246.6 103.4 L248.1 103.9 L249.6 104.4 L251.2 104.9 L252.7 105.4 L254.2 105.9 L255.7 106.3 L257.3 106.8 L258.8 107.3 L260.3 107.8 L261.8 108.2 L263.4 108.7 L264.9 109.2 L266.4 109.7 L267.9 110.1 L269.5 110.6 L271.0 111.1 L272.5 111.5 L274.1 112.0 L275.6 112.5 L277.1 113.0 L278.6 113.4 L280.2 113.9 L281.7 114.4 L283.2 114.8 L284.8 115.3 L286.3 115.8 L287.8 116.2 L289.4 116.7 L290.9 117.2 L292.4 117.7 L294.0 118.2 L295.5 118.6 L297.0 119.1 L298.5 119.6 L300.1 120.1 L301.6 120.7 L303.1 121.2 L304.7 121.7 L306.2 122.2 L307.7 122.7 L309.3 123.2 L310.8 123.8 L312.3 124.3 L313.8 124.9 L315.3 125.5 L316.8 126.0 L318.4 126.6 L319.9 127.2 L321.4 127.9 L322.9 128.5 L324.4 129.1 L325.9 129.8 L327.3 130.4 L328.8 131.1 L330.3 131.8 L331.8 132.5 L333.2 133.2 L334.7 133.9 L336.2 134.6 L337.6 135.4 L339.0 136.1 L340.5 136.9 L341.9 137.7 L343.3 138.5 L344.7 139.3 L346.1 140.2 L347.5 141.0 L348.9 141.8 L350.3 142.7 L351.7 143.6 L353.1 144.5 L354.4 145.4 L355.8 146.3 L357.1 147.3 L358.5 148.2 L359.8 149.2 L361.1 150.1 L362.4 151.1 L363.7 152.1 L365.0 153.1 L366.3 154.1 L367.5 155.2 L368.8 156.2 L370.0 157.2 L371.3 158.3 L372.5 159.4 L373.7 160.5 L374.9 161.6 L376.1 162.7 L377.3 163.8 L378.5 164.9 L379.7 166.0 L380.8 167.2 L382.0 168.3 L383.2 169.4 L384.3 170.6 L385.4 171.8 L386.5 173.0 L387.6 174.1 L388.7 175.3 L389.8 176.5 L390.9 177.7 L392.0 178.9 L393.1 180.1 L394.2 181.3 L395.2 182.6 L396.3 183.8 L397.3 185.0 L398.4 186.2 L399.4 187.5 L400.5 188.7 L401.5 189.9 L402.5 191.2 L403.6 192.4 L404.6 193.7 L405.6 194.9 L406.6 196.2 L407.6 197.5 L408.6 198.7 L409.6 200.0 L410.6 201.2 L411.6 202.5 L412.6 203.8 L413.6 205.1 L414.5 206.3 L415.5 207.6 L416.5 208.9 L417.5 210.2 L418.4 211.5 L419.4 212.7 L420.4 214.0 L421.3 215.3 L422.3 216.6 L423.3 217.9 L424.2 219.2 L425.2 220.4 L426.1 221.7 L427.1 223.0 L428.0 224.3 L429.0 225.6 L429.9 226.9 L430.9 228.2 L431.8 229.5 L432.8 230.7 L433.7 232.0 L434.7 233.3 L435.6 234.6 L436.6 235.9 L437.6 237.2 L438.5 238.4 L439.5 239.7 L440.4 241.0 L441.4 242.3 L442.3 243.6 L443.3 244.8 L444.2 246.1 L445.2 247.4 L446.2 248.6 L447.1 249.9 L448.1 251.2 L449.1 252.4 L450.0 253.7 L451.0 255.0 L452.0 256.2 L453.0 257.5 L454.0 258.7 L454.9 260.0 L455.9 261.2 L456.9 262.5 L457.9 263.7 L458.9 264.9 L459.9 266.2 L460.9 267.4 L461.9 268.6 L462.9 269.8 L464.0 271.1 L465.0 272.3 L466.0 273.5 L467.0 274.7 L468.1 275.9 L469.1 277.1 L470.2 278.2 L471.2 279.4 L472.3 280.6 L473.3 281.7 L474.4 282.9 L475.5 284.1 L476.6 285.2 L477.6 286.3 L478.7 287.5 L479.8 288.6 L481.0 289.7 L482.1 290.8 L483.2 291.9 L484.3 292.9 L485.5 294.0 L486.6 295.1 L487.8 296.1 L489.0 297.1 L490.2 298.2 L491.4 299.2 L492.6 300.2 L493.8 301.2 L495.0 302.1 L496.2 303.1 L497.4 304.1 L498.7 305.0 L500.0 305.9 L501.2 306.9 L502.5 307.8 L503.8 308.7 L505.1 309.5 L506.4 310.4 L507.7 311.3 L509.0 312.1 L510.3 312.9 L511.6 313.7 L513.0 314.5 L514.3 315.3 L515.7 316.1 L517.1 316.9 L518.4 317.6 L519.8 318.4 L521.2 319.1 L522.6 319.8 L524.0 320.5 L525.4 321.2 L526.8 321.9 L528.2 322.6 L529.7 323.2 L531.1 323.9 L532.5 324.5 L534.0 325.1 L535.4 325.8 L536.9 326.4 L538.3 327.0 L539.8 327.6 L541.3 328.1 L542.7 328.7 L544.2 329.3 L545.7 329.8 L547.2 330.4 L548.7 330.9 L550.1 331.5 L551.6 332.0 L553.1 332.6 L554.6 333.1 L556.1 333.6 L557.6 334.1 L559.1 334.6 L560.6 335.1 L562.1 335.6 L563.6 336.1 L565.2 336.6 L566.7 337.1 L568.2 337.6 L569.7 338.0 L571.2 338.5 L572.7 339.0 L574.3 339.4 L575.8 339.9 L577.3 340.3 L578.8 340.7 L580.4 341.2 L581.9 341.6 L583.4 342.0 L584.9 342.4 L586.5 342.8 L588.0 343.3 L589.5 343.7 L591.1 344.0 L592.6 344.4 L594.2 344.8 L595.7 345.2 L597.3 345.6 L598.8 345.9 L600.3 346.3 L601.9 346.6 L603.4 347.0 L605.0 347.3 L606.6 347.6 L608.1 347.9 L609.7 348.3 L611.2 348.6 L612.8 348.9 L614.3 349.2 L615.9 349.5 L617.5 349.7 L619.0 350.0 L620.6 350.2 L622.2 350.5 L623.7 350.8 L625.3 351.2 L626.8 351.5 L628.4 351.7 L630.0 351.9 L631.6 352.0 L633.1 352.3 L634.7 352.6 L636.3 352.8 L637.8 352.9 L639.4 353.1 L641.0 353.4 L642.6 353.5 L644.1 353.7 L645.7 353.9 L647.3 354.3 L648.8 354.4 L650.4 354.5 L652.0 354.5 L653.6 354.8 L655.1 355.1 L656.7 355.2 L658.3 355.3 L659.9 355.3 L661.4 355.5 L663.0 355.4 L664.6 355.6 L666.2 355.5 L667.7 355.8 L669.3 355.8 L670.9 355.8 L672.5 355.8 L674.0 355.9 L675.6 356.1 L677.2 356.1 L678.7 356.0 L680.3 356.1 L681.9 356.1 L683.4 356.0 L685.0 355.7 L686.6 355.8 L688.1 355.8 L689.7 355.9 L691.2 355.4 L692.8 355.2 L694.3 355.0 L695.9 354.9 L697.4 354.8 L699.0 354.4 L700.5 354.2 L702.0 353.8 L703.6 353.8 L705.2 353.8 L706.8 353.9 L708.3 353.4 L709.8 352.8 L711.2 352.0 L712.7 351.4 L714.2 351.1 L715.7 350.8 L717.2 350.5 L718.7 349.8 L720.2 349.5 L721.7 349.0 L723.2 348.8 L724.7 348.2 L726.2 347.7 L727.7 347.3 L729.2 346.9 L730.7 346.3 L732.1 345.7 L733.6 345.0 L735.1 344.6 L736.5 344.0 L738.0 343.4 L739.4 342.7 L740.9 342.1 L742.2 341.2 L743.6 340.5 L745.1 339.8 L746.6 339.5 L748.1 339.1 L749.7 338.7 L750.9 337.5 L752.4 336.9 L753.8 336.1 L755.3 335.7 L756.8 335.3 L758.4 334.8 L760.0 334.5 L761.4 333.8 L762.9 333.2 L764.3 332.5 L765.6 331.4 L766.9 330.4 L768.3 329.6 L769.8 329.2 L771.4 328.9 L772.9 328.3 L777.3 338.1 L775.9 338.8 L774.4 339.3 L773.0 340.1 L771.4 340.6 L770.1 341.5 L768.4 341.8 L767.0 342.5 L765.2 342.4 L763.9 343.5 L762.5 344.3 L761.2 345.3 L759.6 345.7 L758.0 346.1 L756.7 347.1 L755.2 347.8 L753.6 348.2 L752.1 348.6 L750.5 349.0 L749.1 349.9 L747.4 350.0 L746.0 350.9 L744.3 351.2 L742.8 351.8 L741.1 351.9 L739.7 352.6 L738.2 353.3 L736.8 354.3 L735.3 354.8 L733.6 355.1 L732.0 355.5 L730.5 355.9 L729.0 356.7 L727.4 357.2 L725.9 357.7 L724.2 357.9 L722.5 357.8 L720.9 358.0 L719.3 358.5 L717.8 359.1 L716.2 359.5 L714.6 359.9 L713.0 360.3 L711.4 360.6 L709.7 360.7 L708.1 361.0 L706.5 361.4 L704.9 361.6 L703.3 362.0 L701.7 362.2 L700.0 362.3 L698.4 362.6 L696.8 362.7 L695.1 362.9 L693.5 363.0 L691.9 363.3 L690.3 363.6 L688.6 363.5 L687.0 363.5 L685.3 363.5 L683.7 363.5 L682.1 363.5 L680.4 363.6 L678.8 363.7 L677.2 363.7 L675.5 363.6 L673.9 363.6 L672.3 363.6 L670.6 363.6 L669.0 363.6 L667.4 363.5 L665.8 363.5 L664.1 363.3 L662.5 363.4 L660.9 363.1 L659.3 363.1 L657.7 362.8 L656.1 362.7 L654.5 362.4 L652.8 362.3 L651.2 362.2 L649.6 362.0 L648.0 361.8 L646.4 361.6 L644.8 361.3 L643.2 361.0 L641.6 360.8 L640.0 360.7 L638.4 360.5 L636.8 360.2 L635.2 360.0 L633.6 359.7 L632.0 359.5 L630.4 359.2 L628.8 359.1 L627.3 358.8 L625.7 358.5 L624.1 358.2 L622.5 358.0 L620.9 357.7 L619.3 357.4 L617.7 357.1 L616.1 356.8 L614.6 356.5 L613.0 356.2 L611.4 355.9 L609.8 355.6 L608.2 355.3 L606.7 354.9 L605.1 354.5 L603.5 354.2 L601.9 353.8 L600.4 353.5 L598.8 353.1 L597.2 352.8 L595.6 352.4 L594.1 352.0 L592.5 351.7 L590.9 351.3 L589.4 350.9 L587.8 350.5 L586.2 350.1 L584.7 349.7 L583.1 349.3 L581.6 348.9 L580.0 348.5 L578.4 348.1 L576.9 347.6 L575.3 347.2 L573.8 346.8 L572.2 346.3 L570.7 345.9 L569.1 345.4 L567.6 344.9 L566.0 344.5 L564.5 344.0 L563.0 343.5 L561.4 343.0 L559.9 342.5 L558.4 342.0 L556.8 341.5 L555.3 341.0 L553.8 340.5 L552.2 340.0 L550.7 339.5 L549.2 338.9 L547.7 338.4 L546.1 337.9 L544.6 337.3 L543.1 336.8 L541.6 336.2 L540.1 335.6 L538.6 335.0 L537.1 334.4 L535.5 333.8 L534.0 333.2 L532.5 332.6 L531.0 332.0 L529.5 331.3 L528.1 330.7 L526.6 330.0 L525.1 329.4 L523.6 328.7 L522.1 328.0 L520.7 327.3 L519.2 326.5 L517.7 325.8 L516.3 325.0 L514.8 324.3 L513.4 323.5 L512.0 322.7 L510.6 321.9 L509.1 321.1 L507.7 320.3 L506.3 319.4 L504.9 318.5 L503.6 317.7 L502.2 316.8 L500.8 315.9 L499.4 315.0 L498.1 314.0 L496.8 313.1 L495.4 312.1 L494.1 311.2 L492.8 310.2 L491.5 309.2 L490.2 308.2 L488.9 307.2 L487.6 306.2 L486.4 305.1 L485.1 304.1 L483.9 303.0 L482.7 301.9 L481.4 300.8 L480.2 299.7 L479.0 298.6 L477.8 297.5 L476.7 296.4 L475.5 295.2 L474.3 294.1 L473.2 292.9 L472.0 291.8 L470.9 290.6 L469.8 289.4 L468.7 288.2 L467.6 287.0 L466.5 285.8 L465.4 284.6 L464.3 283.4 L463.2 282.2 L462.2 281.0 L461.1 279.8 L460.1 278.5 L459.0 277.3 L458.0 276.1 L456.9 274.8 L455.9 273.6 L454.9 272.3 L453.9 271.1 L452.8 269.8 L451.8 268.6 L450.8 267.3 L449.8 266.1 L448.8 264.8 L447.8 263.5 L446.8 262.3 L445.8 261.0 L444.9 259.7 L443.9 258.5 L442.9 257.2 L441.9 255.9 L440.9 254.6 L440.0 253.4 L439.0 252.1 L438.0 250.8 L437.1 249.5 L436.1 248.2 L435.1 247.0 L434.2 245.7 L433.2 244.4 L432.2 243.1 L431.3 241.8 L430.3 240.5 L429.4 239.2 L428.4 237.9 L427.5 236.7 L426.5 235.4 L425.6 234.1 L424.6 232.8 L423.7 231.5 L422.7 230.2 L421.8 228.9 L420.8 227.7 L419.9 226.4 L418.9 225.1 L418.0 223.8 L417.0 222.5 L416.0 221.3 L415.1 220.0 L414.1 218.7 L413.2 217.4 L412.2 216.2 L411.3 214.9 L410.3 213.6 L409.3 212.4 L408.4 211.1 L407.4 209.8 L406.4 208.6 L405.4 207.3 L404.5 206.1 L403.5 204.8 L402.5 203.6 L401.5 202.3 L400.5 201.1 L399.5 199.8 L398.5 198.6 L397.5 197.4 L396.5 196.2 L395.5 194.9 L394.5 193.7 L393.5 192.5 L392.4 191.3 L391.4 190.1 L390.4 188.9 L389.3 187.7 L388.3 186.5 L387.3 185.3 L386.2 184.1 L385.1 183.0 L384.1 181.8 L383.0 180.6 L381.9 179.5 L380.9 178.3 L379.8 177.2 L378.7 176.0 L377.6 174.9 L376.5 173.8 L375.4 172.7 L374.3 171.5 L373.1 170.4 L372.0 169.3 L370.9 168.2 L369.8 167.2 L368.6 166.1 L367.5 165.0 L366.3 164.0 L365.1 162.9 L363.9 161.9 L362.7 160.9 L361.5 159.9 L360.3 158.9 L359.1 157.9 L357.9 156.9 L356.7 156.0 L355.4 155.0 L354.2 154.1 L352.9 153.1 L351.6 152.2 L350.4 151.3 L349.1 150.4 L347.8 149.5 L346.5 148.7 L345.2 147.8 L343.8 147.0 L342.5 146.1 L341.2 145.3 L339.8 144.5 L338.5 143.7 L337.1 142.9 L335.8 142.2 L334.4 141.4 L333.0 140.6 L331.6 139.9 L330.2 139.2 L328.8 138.5 L327.4 137.8 L326.0 137.1 L324.6 136.4 L323.2 135.7 L321.7 135.1 L320.3 134.4 L318.8 133.8 L317.4 133.2 L315.9 132.6 L314.5 131.9 L313.0 131.4 L311.6 130.8 L310.1 130.2 L308.6 129.6 L307.1 129.1 L305.7 128.5 L304.2 127.9 L302.7 127.4 L301.2 126.9 L299.7 126.3 L298.2 125.8 L296.7 125.3 L295.2 124.8 L293.6 124.3 L292.1 123.9 L290.6 123.4 L289.1 122.9 L287.6 122.4 L286.1 121.9 L284.5 121.5 L283.0 121.0 L281.5 120.5 L279.9 120.0 L278.4 119.6 L276.9 119.1 L275.4 118.6 L273.8 118.2 L272.3 117.7 L270.8 117.2 L269.2 116.7 L267.7 116.3 L266.2 115.8 L264.7 115.3 L263.1 114.8 L261.6 114.4 L260.1 113.9 L258.5 113.4 L257.0 112.9 L255.5 112.4 L254.0 112.0 L252.4 111.5 L250.9 111.0 L249.4 110.5 L247.9 110.0 L246.3 109.5 L244.8 109.0 L243.3 108.6 L241.7 108.1 L240.2 107.6 L238.7 107.1 L237.2 106.6 L235.6 106.1 L234.1 105.6 L232.6 105.1 L231.1 104.6 L229.6 104.1 L228.0 103.6 L226.5 103.1 L225.0 102.6 L223.5 102.1 L222.0 101.5 L220.4 101.0 L218.9 100.5 L217.4 100.0 L215.9 99.5 L214.4 99.0 L212.8 98.4 L211.3 97.9 L209.8 97.4 L208.3 96.9 L206.8 96.3 L205.3 95.8 L203.8 95.3 L202.3 94.7 L200.7 94.2 L199.2 93.7 L197.7 93.1 L196.2 92.6 L194.7 92.0 L193.2 91.5 L191.7 90.9 L190.2 90.4 L188.7 89.8 L187.2 89.3 L185.7 88.7 L184.2 88.1 L182.7 87.6 L181.2 87.0 L179.7 86.4 L178.2 85.8 L176.7 85.3 L175.2 84.7 L173.7 84.1 L172.2 83.5 L170.7 82.9 L169.2 82.3 L167.7 81.8 L166.2 81.2 L164.7 80.6 L163.2 80.0 L161.7 79.4 L160.3 78.7 L158.8 78.1 L157.3 77.5 L155.8 76.9 L154.3 76.3 L152.8 75.7 L151.4 75.0 L149.9 74.4 L148.4 73.8 L146.9 73.1 L145.5 72.5 L144.0 71.9 L142.5 71.2 L141.0 70.6 L139.6 69.9 L138.1 69.3 L136.6 68.6 L135.2 68.0 L133.7 67.3 L132.3 66.6 L130.8 66.0 L129.3 65.3 L127.9 64.6 L126.4 63.9 L125.0 63.3 L123.5 62.6 L122.1 61.9 L120.6 61.2 L119.2 60.5 L117.7 59.8 L116.3 59.1Z" fill="#a010f5" stroke="none"/>
</g>
<path d="M120.5 19.3H773.0V499.0H120.5Z" stroke="#000" stroke-width="2.2" fill="none"/>
<path d="M120.5 499.0v4.5M179.8 499.0v8.5M179.8 19.3v9.5M239.1 499.0v4.5M239.1 19.3v5.5M298.5 499.0v8.5M298.5 19.3v9.5M357.8 499.0v4.5M357.8 19.3v5.5M417.1 499.0v8.5M417.1 19.3v9.5M476.4 499.0v4.5M476.4 19.3v5.5M535.7 499.0v8.5M535.7 19.3v9.5M595.0 499.0v4.5M595.0 19.3v5.5M654.4 499.0v8.5M654.4 19.3v9.5M713.7 499.0v4.5M713.7 19.3v5.5M773.0 499.0v8.5M120.5 499.7h-5.5M120.5 456.0h-10.5M773.0 456.0h-10.0M120.5 412.4h-5.5M773.0 412.4h-5.0M120.5 368.7h-10.5M773.0 368.7h-10.0M120.5 325.1h-5.5M773.0 325.1h-5.0M120.5 281.4h-10.5M773.0 281.4h-10.0M120.5 237.8h-5.5M773.0 237.8h-5.0M120.5 194.1h-10.5M773.0 194.1h-10.0M120.5 150.4h-5.5M773.0 150.4h-5.0M120.5 106.8h-10.5M773.0 106.8h-10.0M120.5 63.1h-5.5M773.0 63.1h-5.0M120.5 19.5h-10.5" stroke="#000" stroke-width="2.2" fill="none"/>
<text x="179.8" y="540" font-family="'Liberation Serif','Times New Roman',serif" font-size="30.7" text-anchor="middle">550</text>
<text x="298.5" y="540" font-family="'Liberation Serif','Times New Roman',serif" font-size="30.7" text-anchor="middle">650</text>
<text x="417.1" y="540" font-family="'Liberation Serif','Times New Roman',serif" font-size="30.7" text-anchor="middle">750</text>
<text x="535.7" y="540" font-family="'Liberation Serif','Times New Roman',serif" font-size="30.7" text-anchor="middle">850</text>
<text x="654.4" y="540" font-family="'Liberation Serif','Times New Roman',serif" font-size="30.7" text-anchor="middle">950</text>
<text x="773.0" y="540" font-family="'Liberation Serif','Times New Roman',serif" font-size="30.7" text-anchor="middle">1050</text>
<text x="102.2" y="465.6" font-family="'Liberation Serif','Times New Roman',serif" font-size="30.7" text-anchor="end">60</text>
<text x="102.2" y="378.3" font-family="'Liberation Serif','Times New Roman',serif" font-size="30.7" text-anchor="end">70</text>
<text x="102.2" y="291.0" font-family="'Liberation Serif','Times New Roman',serif" font-size="30.7" text-anchor="end">80</text>
<text x="102.2" y="203.7" font-family="'Liberation Serif','Times New Roman',serif" font-size="30.7" text-anchor="end">90</text>
<text x="102.2" y="116.4" font-family="'Liberation Serif','Times New Roman',serif" font-size="30.7" text-anchor="end">100</text>
<text x="102.2" y="29.1" font-family="'Liberation Serif','Times New Roman',serif" font-size="30.7" text-anchor="end">110</text>
<text x="447.2" y="588.7" font-family="'Liberation Serif','Times New Roman',serif" font-size="39.4" text-anchor="middle">Wavelength (nm)</text>
<text transform="translate(43.7 259.5) rotate(-90)" x="0" y="0" font-family="'Liberation Serif','Times New Roman',serif" font-size="39.4" text-anchor="middle">Reflectivity (%)</text>
<text x="0.8" y="33.6" font-family="'Liberation Sans',Arial,sans-serif" font-weight="bold" font-size="41.8" fill="#1c0f0f">(a)</text>
<rect x="786.3" y="81.3" width="110.5" height="321.7" fill="#fff" stroke="#222" stroke-width="1.4"/>
<line x1="790" y1="101.5" x2="822" y2="101.5" stroke="#ff0000" stroke-width="4.6" stroke-linecap="round"/>
<text x="829.3" y="110.5" font-family="'Liberation Serif','Times New Roman',serif" font-size="28.3">1.332</text>
<line x1="790" y1="136.8" x2="822" y2="136.8" stroke="#ff5500" stroke-width="4.6" stroke-linecap="round"/>
<text x="829.3" y="145.8" font-family="'Liberation Serif','Times New Roman',serif" font-size="28.3">1.344</text>
<line x1="790" y1="172.1" x2="822" y2="172.1" stroke="#ffa200" stroke-width="4.6" stroke-linecap="round"/>
<text x="829.3" y="181.1" font-family="'Liberation Serif','Times New Roman',serif" font-size="28.3">1.354</text>
<line x1="790" y1="207.4" x2="822" y2="207.4" stroke="#c0f000" stroke-width="4.6" stroke-linecap="round"/>
<text x="829.3" y="216.4" font-family="'Liberation Serif','Times New Roman',serif" font-size="28.3">1.365</text>
<line x1="790" y1="242.7" x2="822" y2="242.7" stroke="#00ff14" stroke-width="4.6" stroke-linecap="round"/>
<text x="829.3" y="251.7" font-family="'Liberation Serif','Times New Roman',serif" font-size="28.3">1.373</text>
<line x1="790" y1="278.0" x2="822" y2="278.0" stroke="#1a98bb" stroke-width="4.6" stroke-linecap="round"/>
<text x="829.3" y="287.0" font-family="'Liberation Serif','Times New Roman',serif" font-size="28.3">1.382</text>
<line x1="790" y1="313.3" x2="822" y2="313.3" stroke="#1e3cf5" stroke-width="4.6" stroke-linecap="round"/>
<text x="829.3" y="322.3" font-family="'Liberation Serif','Times New Roman',serif" font-size="28.3">1.392</text>
<line x1="790" y1="348.6" x2="822" y2="348.6" stroke="#5010ee" stroke-width="4.6" stroke-linecap="round"/>
<text x="829.3" y="357.6" font-family="'Liberation Serif','Times New Roman',serif" font-size="28.3">1.403</text>
<line x1="790" y1="383.9" x2="822" y2="383.9" stroke="#a010f5" stroke-width="4.6" stroke-linecap="round"/>
<text x="829.3" y="392.9" font-family="'Liberation Serif','Times New Roman',serif" font-size="28.3">1.411</text>
<path d="M1138.5 19.3V499.3M1212.3 19.3V499.3M1286.1 19.3V499.3M1359.9 19.3V499.3M1433.7 19.3V499.3M1507.5 19.3V499.3M1581.3 19.3V499.3M1655.1 19.3V499.3M1728.9 19.3V499.3M1064.7 470.3H1802.6M1064.7 357.6H1802.6M1064.7 244.8H1802.6M1064.7 132.1H1802.6" stroke="#a3a3a3" stroke-width="1.6" fill="none"/>
<path d="M1064.7 19.3H1802.6V499.3H1064.7Z" stroke="#000" stroke-width="2.2" fill="none"/>
<path d="M1064.7 499.3v8.5M1101.6 499.3v4.5M1101.6 19.3v5.5M1138.5 499.3v8.5M1138.5 19.3v9.5M1175.4 499.3v4.5M1175.4 19.3v5.5M1212.3 499.3v8.5M1212.3 19.3v9.5M1249.2 499.3v4.5M1249.2 19.3v5.5M1286.1 499.3v8.5M1286.1 19.3v9.5M1323.0 499.3v4.5M1323.0 19.3v5.5M1359.9 499.3v8.5M1359.9 19.3v9.5M1396.8 499.3v4.5M1396.8 19.3v5.5M1433.7 499.3v8.5M1433.7 19.3v9.5M1470.6 499.3v4.5M1470.6 19.3v5.5M1507.5 499.3v8.5M1507.5 19.3v9.5M1544.4 499.3v4.5M1544.4 19.3v5.5M1581.3 499.3v8.5M1581.3 19.3v9.5M1618.2 499.3v4.5M1618.2 19.3v5.5M1655.1 499.3v8.5M1655.1 19.3v9.5M1692.0 499.3v4.5M1692.0 19.3v5.5M1728.9 499.3v8.5M1728.9 19.3v9.5M1765.8 499.3v4.5M1765.8 19.3v5.5M1802.7 499.3v8.5M1064.7 19.3h-10.5M1064.7 75.7h-5.5M1802.6 75.7h-5.0M1064.7 132.1h-10.5M1802.6 132.1h-10.0M1064.7 188.4h-5.5M1802.6 188.4h-5.0M1064.7 244.8h-10.5M1802.6 244.8h-10.0M1064.7 301.2h-5.5M1802.6 301.2h-5.0M1064.7 357.6h-10.5M1802.6 357.6h-10.0M1064.7 413.9h-5.5M1802.6 413.9h-5.0M1064.7 470.3h-10.5M1802.6 470.3h-10.0" stroke="#000" stroke-width="2.2" fill="none"/>
<text x="1064.7" y="540.2" font-family="'Liberation Serif','Times New Roman',serif" font-size="30.7" text-anchor="middle">1.32</text>
<text x="1138.5" y="540.2" font-family="'Liberation Serif','Times New Roman',serif" font-size="30.7" text-anchor="middle">1.33</text>
<text x="1212.3" y="540.2" font-family="'Liberation Serif','Times New Roman',serif" font-size="30.7" text-anchor="middle">1.34</text>
<text x="1286.1" y="540.2" font-family="'Liberation Serif','Times New Roman',serif" font-size="30.7" text-anchor="middle">1.35</text>
<text x="1359.9" y="540.2" font-family="'Liberation Serif','Times New Roman',serif" font-size="30.7" text-anchor="middle">1.36</text>
<text x="1433.7" y="540.2" font-family="'Liberation Serif','Times New Roman',serif" font-size="30.7" text-anchor="middle">1.37</text>
<text x="1507.5" y="540.2" font-family="'Liberation Serif','Times New Roman',serif" font-size="30.7" text-anchor="middle">1.38</text>
<text x="1581.3" y="540.2" font-family="'Liberation Serif','Times New Roman',serif" font-size="30.7" text-anchor="middle">1.39</text>
<text x="1655.1" y="540.2" font-family="'Liberation Serif','Times New Roman',serif" font-size="30.7" text-anchor="middle">1.40</text>
<text x="1728.9" y="540.2" font-family="'Liberation Serif','Times New Roman',serif" font-size="30.7" text-anchor="middle">1.41</text>
<text x="1802.7" y="540.2" font-family="'Liberation Serif','Times New Roman',serif" font-size="30.7" text-anchor="middle">1.42</text>
<text x="1047.2" y="480.3" font-family="'Liberation Serif','Times New Roman',serif" font-size="30.7" text-anchor="end">600</text>
<text x="1047.2" y="367.6" font-family="'Liberation Serif','Times New Roman',serif" font-size="30.7" text-anchor="end">700</text>
<text x="1047.2" y="254.8" font-family="'Liberation Serif','Times New Roman',serif" font-size="30.7" text-anchor="end">800</text>
<text x="1047.2" y="142.1" font-family="'Liberation Serif','Times New Roman',serif" font-size="30.7" text-anchor="end">900</text>
<text x="1047.2" y="29.3" font-family="'Liberation Serif','Times New Roman',serif" font-size="30.7" text-anchor="end">1000</text>
<text x="1433.8" y="588.8" font-family="'Liberation Serif','Times New Roman',serif" font-size="39.4" text-anchor="middle">Refractive index</text>
<text transform="translate(972.8 260.1) rotate(-90)" x="0" y="0" font-family="'Liberation Serif','Times New Roman',serif" font-size="39.8" text-anchor="middle">Wavelength (nm)</text>
<text x="905.8" y="33.8" font-family="'Liberation Sans',Arial,sans-serif" font-weight="bold" font-size="41.8" fill="#1c0f0f">(b)</text>
<g clip-path="url(#cb)">
<path d="M1135.3 470.3h36M1135.3 470.3h36M1153.3 470.3V470.3M1223.8 451.9h36M1223.8 451.9h36M1241.8 451.9V451.9M1297.6 421.2h36M1297.6 421.2h36M1315.6 421.2V421.2M1378.8 390.6h36M1378.8 390.6h36M1396.8 390.6V390.6M1437.8 356.2h36M1437.8 358.6h36M1455.8 356.2V358.6M1504.3 299.8h36M1504.3 302.0h36M1522.3 299.8V302.0M1578.1 235.9h36M1578.1 239.6h36M1596.1 235.9V239.6M1659.2 135.2h36M1659.2 135.2h36M1677.2 135.2V135.2M1718.3 42.2h36M1718.3 52.6h36M1736.3 42.2V52.6" stroke="#000" stroke-width="2.6" fill="none"/>
<circle cx="1153.3" cy="470.8" r="10.1" fill="#000"/>
<circle cx="1241.8" cy="452.5" r="10.1" fill="#000"/>
<circle cx="1315.6" cy="420.8" r="10.1" fill="#000"/>
<circle cx="1396.8" cy="390.2" r="10.1" fill="#000"/>
<circle cx="1455.8" cy="357.0" r="10.1" fill="#000"/>
<circle cx="1522.3" cy="300.9" r="10.1" fill="#000"/>
<circle cx="1596.1" cy="237.7" r="10.1" fill="#000"/>
<circle cx="1677.2" cy="135.8" r="10.1" fill="#000"/>
<circle cx="1736.3" cy="47.2" r="10.1" fill="#000"/>
<line x1="1153.3" y1="472.2" x2="1396.8" y2="393.9" stroke="#ff1010" stroke-width="5" stroke-linecap="round"/>
<line x1="1455.8" y1="363.6" x2="1736.3" y2="76.9" stroke="#0a14f0" stroke-width="4.6" stroke-linecap="round"/>
<path d="M1153.3 470.2 L1156.2 469.5 L1159.1 468.7 L1162.0 468.0 L1165.0 467.3 L1167.9 466.5 L1170.8 465.8 L1173.8 465.0 L1176.7 464.3 L1179.6 463.5 L1182.6 462.7 L1185.5 462.0 L1188.4 461.2 L1191.3 460.4 L1194.3 459.7 L1197.2 458.9 L1200.1 458.1 L1203.1 457.3 L1206.0 456.6 L1208.9 455.8 L1211.9 455.0 L1214.8 454.2 L1217.7 453.4 L1220.6 452.6 L1223.6 451.7 L1226.5 450.9 L1229.4 450.1 L1232.4 449.3 L1235.3 448.4 L1238.2 447.6 L1241.2 446.7 L1244.1 445.9 L1247.0 445.0 L1249.9 444.1 L1252.9 443.2 L1255.8 442.4 L1258.7 441.5 L1261.7 440.6 L1264.6 439.7 L1267.5 438.7 L1270.4 437.8 L1273.4 436.9 L1276.3 435.9 L1279.2 435.0 L1282.2 434.0 L1285.1 433.0 L1288.0 432.1 L1291.0 431.1 L1293.9 430.1 L1296.8 429.0 L1299.7 428.0 L1302.7 427.0 L1305.6 425.9 L1308.5 424.9 L1311.5 423.8 L1314.4 422.7 L1317.3 421.6 L1320.3 420.5 L1323.2 419.4 L1326.1 418.3 L1329.0 417.2 L1332.0 416.0 L1334.9 414.8 L1337.8 413.7 L1340.8 412.5 L1343.7 411.3 L1346.6 410.0 L1349.6 408.8 L1352.5 407.6 L1355.4 406.3 L1358.3 405.0 L1361.3 403.7 L1364.2 402.4 L1367.1 401.1 L1370.1 399.8 L1373.0 398.4 L1375.9 397.1 L1378.9 395.7 L1381.8 394.3 L1384.7 392.9 L1387.6 391.4 L1390.6 390.0 L1393.5 388.5 L1396.4 387.0 L1399.4 385.5 L1402.3 384.0 L1405.2 382.5 L1408.1 380.9 L1411.1 379.4 L1414.0 377.8 L1416.9 376.2 L1419.9 374.5 L1422.8 372.9 L1425.7 371.2 L1428.7 369.5 L1431.6 367.8 L1434.5 366.1 L1437.4 364.4 L1440.4 362.6 L1443.3 360.8 L1446.2 359.0 L1449.2 357.2 L1452.1 355.4 L1455.0 353.5 L1458.0 351.6 L1460.9 349.7 L1463.8 347.8 L1466.7 345.8 L1469.7 343.9 L1472.6 341.9 L1475.5 339.8 L1478.5 337.8 L1481.4 335.7 L1484.3 333.7 L1487.3 331.5 L1490.2 329.4 L1493.1 327.3 L1496.0 325.1 L1499.0 322.9 L1501.9 320.6 L1504.8 318.4 L1507.8 316.1 L1510.7 313.8 L1513.6 311.5 L1516.5 309.1 L1519.5 306.8 L1522.4 304.4 L1525.3 301.9 L1528.3 299.5 L1531.2 297.0 L1534.1 294.5 L1537.1 292.0 L1540.0 289.4 L1542.9 286.8 L1545.8 284.2 L1548.8 281.5 L1551.7 278.9 L1554.6 276.2 L1557.6 273.5 L1560.5 270.7 L1563.4 267.9 L1566.4 265.1 L1569.3 262.3 L1572.2 259.4 L1575.1 256.5 L1578.1 253.6 L1581.0 250.6 L1583.9 247.6 L1586.9 244.6 L1589.8 241.6 L1592.7 238.5 L1595.7 235.4 L1598.6 232.3 L1601.5 229.1 L1604.4 225.9 L1607.4 222.7 L1610.3 219.4 L1613.2 216.1 L1616.2 212.8 L1619.1 209.4 L1622.0 206.0 L1624.9 202.6 L1627.9 199.1 L1630.8 195.7 L1633.7 192.1 L1636.7 188.6 L1639.6 185.0 L1642.5 181.4 L1645.5 177.7 L1648.4 174.0 L1651.3 170.3 L1654.2 166.5 L1657.2 162.7 L1660.1 158.9 L1663.0 155.0 L1666.0 151.1 L1668.9 147.2 L1671.8 143.2 L1674.8 139.2 L1677.7 135.2 L1680.6 131.1 L1683.5 127.0 L1686.5 122.8 L1689.4 118.7 L1692.3 114.4 L1695.3 110.2 L1698.2 105.9 L1701.1 101.5 L1704.1 97.1 L1707.0 92.7 L1709.9 88.3 L1712.8 83.8 L1715.8 79.3 L1718.7 74.7 L1721.6 70.1 L1724.6 65.4 L1727.5 60.7 L1730.4 56.0 L1733.4 51.3 L1736.3 46.4" stroke="#14a014" stroke-width="4.4" fill="none" stroke-dasharray="7.4 12.4" stroke-linecap="round"/>
</g>
<text x="1122.3" y="413.3" font-family="'Liberation Serif','Times New Roman',serif" font-size="28.4" fill="#d81414">2105 nm/RIU</text>
<text x="1577.3" y="290.9" font-family="'Liberation Serif','Times New Roman',serif" font-size="28.4" fill="#1414d0">6692 nm/RIU</text>
<rect x="1314.8" y="440.2" width="464.8" height="44.6" fill="#fff" stroke="#222" stroke-width="1.4"/>
<text x="1316.6" y="458.9" font-family="'Liberation Serif','Times New Roman',serif" font-weight="bold" font-size="15.6" fill="#129018" textLength="461" lengthAdjust="spacingAndGlyphs"><tspan font-style="italic">y</tspan> = <tspan font-weight="normal">–</tspan> 1105164.38+2490107.79 × <tspan font-style="italic">x</tspan> <tspan font-weight="normal">–</tspan> 1870429.75 × <tspan font-style="italic">x</tspan><tspan dy="-6" font-size="11">2</tspan><tspan dy="6"> + 468631.99 × </tspan><tspan font-style="italic">x</tspan><tspan dy="-6" font-size="11">3</tspan></text>
<text x="1316.3" y="479.1" font-family="'Liberation Serif','Times New Roman',serif" font-weight="bold" font-size="15.2" fill="#129018">R<tspan dy="-6" font-size="10.5">2</tspan><tspan dy="6"> = 0.9994</tspan></text>
<rect x="1075.4" y="35.1" width="326.3" height="216.4" fill="#fff" stroke="#222" stroke-width="1.4"/>
<circle cx="1096" cy="55.5" r="9.8" fill="#000"/>
<line x1="1080" y1="90.8" x2="1111.5" y2="90.8" stroke="#ff1010" stroke-width="4.6" stroke-linecap="round"/>
<line x1="1080" y1="160.9" x2="1111.5" y2="160.9" stroke="#0a14f0" stroke-width="4.6" stroke-linecap="round"/>
<line x1="1080.5" y1="231.6" x2="1111" y2="231.6" stroke="#14a014" stroke-width="4.4" stroke-dasharray="7.5 12" stroke-linecap="round"/>
<text x="1119.2" y="64.9" font-family="'Liberation Serif','Times New Roman',serif" font-size="28.35">Experimental data</text>
<text x="1119.2" y="100.0" font-family="'Liberation Serif','Times New Roman',serif" font-size="28.35">Fitting results</text>
<text x="1121.4" y="135.1" font-family="'Liberation Serif','Times New Roman',serif" font-size="28.35">(1.332-1.365)</text>
<text x="1119.2" y="170.2" font-family="'Liberation Serif','Times New Roman',serif" font-size="28.35">Fitting results</text>
<text x="1121.4" y="205.3" font-family="'Liberation Serif','Times New Roman',serif" font-size="28.35">(1.372-1.411)</text>
<text x="1119.2" y="240.4" font-family="'Liberation Serif','Times New Roman',serif" font-size="28.35">Polynomial fitting curve</text>
</svg></body></html>
